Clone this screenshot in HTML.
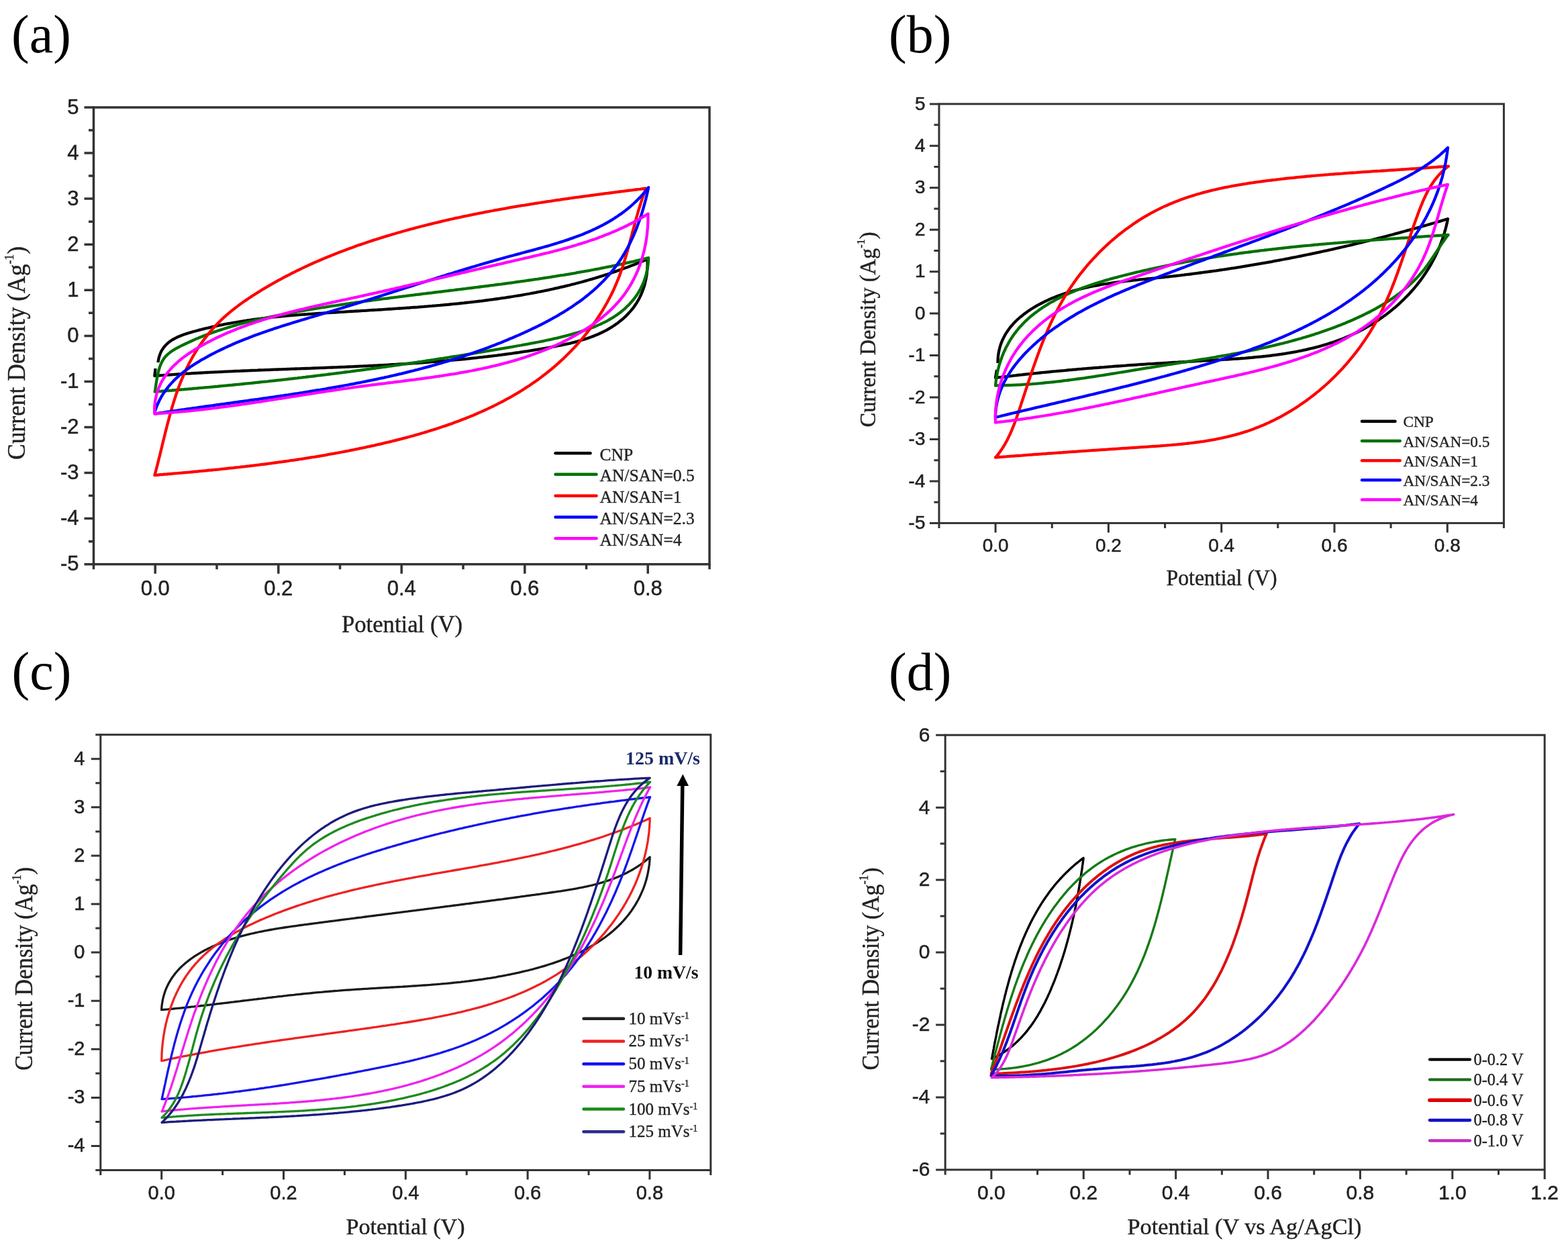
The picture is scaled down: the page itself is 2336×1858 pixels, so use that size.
<!DOCTYPE html>
<html><head><meta charset="utf-8"><title>CV curves</title>
<style>html,body{margin:0;padding:0;background:#fff;}svg{display:block;}</style></head>
<body><svg xmlns="http://www.w3.org/2000/svg" width="2336" height="1858" viewBox="0 0 2336 1858">
<rect width="2336" height="1858" fill="#fff"/>
<path d="M235.4 540.0L236.0 536.5L236.7 533.1L237.6 530.0L238.7 527.0L239.9 524.2L241.3 521.6L242.9 519.2L244.6 516.9L246.4 514.8L248.4 512.8L250.4 510.9L252.6 509.2L254.9 507.5L257.3 506.0L259.8 504.6L262.3 503.3L264.9 502.0L267.6 500.9L270.4 499.8L273.1 498.8L276.0 497.8L278.8 496.9L281.7 496.0L284.6 495.1L287.5 494.3L290.5 493.5L293.4 492.7L296.3 491.9L299.2 491.2L302.1 490.4L305.1 489.7L308.0 489.0L310.9 488.3L313.9 487.6L316.8 486.9L319.7 486.3L322.7 485.6L325.6 485.0L328.6 484.4L331.5 483.8L334.4 483.2L337.4 482.7L340.3 482.1L343.3 481.6L346.2 481.0L349.2 480.5L352.2 480.0L355.1 479.5L358.1 479.0L361.0 478.6L364.0 478.1L367.0 477.7L369.9 477.2L372.9 476.8L375.9 476.4L378.8 476.0L381.8 475.6L384.8 475.2L387.8 474.8L390.7 474.4L393.7 474.1L396.7 473.7L399.7 473.4L402.7 473.1L405.7 472.7L408.6 472.4L411.6 472.1L414.6 471.8L417.6 471.5L420.6 471.2L423.6 471.0L426.6 470.7L429.6 470.4L432.6 470.1L435.6 469.9L438.6 469.6L441.6 469.4L444.6 469.2L447.6 468.9L450.6 468.7L453.6 468.5L456.6 468.3L459.6 468.0L462.6 467.8L465.6 467.6L468.6 467.4L471.6 467.2L474.6 467.0L477.6 466.8L480.6 466.6L483.6 466.4L486.6 466.2L489.6 466.0L492.6 465.9L495.7 465.7L498.7 465.5L501.7 465.3L504.7 465.1L507.7 464.9L510.7 464.8L513.7 464.6L516.7 464.4L519.8 464.2L522.8 464.0L525.8 463.9L528.8 463.7L531.8 463.5L534.8 463.3L537.9 463.1L540.9 462.9L543.9 462.8L546.9 462.6L549.9 462.4L552.9 462.2L556.0 462.0L559.0 461.8L562.0 461.7L565.0 461.5L568.0 461.3L571.0 461.1L574.1 460.9L577.1 460.7L580.1 460.5L583.1 460.3L586.1 460.1L589.1 459.9L592.2 459.7L595.2 459.5L598.2 459.3L601.2 459.1L604.2 458.9L607.2 458.7L610.3 458.5L613.3 458.2L616.3 458.0L619.3 457.8L622.3 457.6L625.3 457.3L628.3 457.1L631.3 456.9L634.3 456.6L637.4 456.4L640.4 456.1L643.4 455.9L646.4 455.6L649.4 455.4L652.4 455.1L655.4 454.9L658.4 454.6L661.4 454.3L664.4 454.0L667.4 453.8L670.4 453.5L673.4 453.2L676.4 452.9L679.4 452.6L682.4 452.3L685.4 452.0L688.4 451.7L691.4 451.4L694.4 451.0L697.4 450.7L700.4 450.4L703.4 450.0L706.4 449.7L709.3 449.3L712.3 449.0L715.3 448.6L718.3 448.3L721.3 447.9L724.3 447.5L727.2 447.1L730.2 446.7L733.2 446.3L736.2 445.9L739.1 445.5L742.1 445.1L745.1 444.7L748.1 444.2L751.0 443.8L754.0 443.4L756.9 442.9L759.9 442.5L762.9 442.0L765.8 441.5L768.8 441.0L771.7 440.5L774.7 440.1L777.7 439.6L780.6 439.0L783.6 438.5L786.5 438.0L789.4 437.5L792.4 436.9L795.3 436.4L798.3 435.8L801.2 435.2L804.1 434.7L807.1 434.1L810.0 433.5L812.9 432.9L815.9 432.3L818.8 431.7L821.7 431.0L824.6 430.4L827.5 429.7L830.5 429.1L833.4 428.4L836.3 427.7L839.2 427.1L842.1 426.4L845.0 425.7L847.9 425.0L850.8 424.2L853.7 423.5L856.6 422.8L859.5 422.0L862.4 421.2L865.3 420.5L868.2 419.7L871.0 418.9L873.9 418.1L876.8 417.3L879.7 416.4L882.5 415.6L885.4 414.7L888.3 413.9L891.1 413.0L894.0 412.1L896.9 411.2L899.7 410.3L902.6 409.4L905.4 408.5L908.3 407.5L911.1 406.6L913.9 405.6L916.8 404.6L919.6 403.6L922.4 402.6L925.3 401.6L928.1 400.6L930.9 399.5L933.7 398.5L936.6 397.4L939.4 396.3L942.2 395.3L945.0 394.2L947.8 393.0L950.6 391.9L953.4 390.8L956.2 389.6L959.0 388.4L961.7 387.2L964.5 386.1L964.6 389.1L964.6 392.1L964.6 395.2L964.5 398.3L964.3 401.4L964.0 404.5L963.7 407.5L963.3 410.6L962.7 413.6L962.2 416.6L961.5 419.6L960.8 422.6L960.0 425.5L959.1 428.4L958.1 431.3L957.0 434.1L955.9 436.9L954.7 439.7L953.4 442.4L952.1 445.1L950.6 447.7L949.1 450.3L947.5 452.8L945.8 455.3L944.1 457.7L942.3 460.1L940.4 462.4L938.4 464.6L936.4 466.8L934.4 469.0L932.3 471.1L930.1 473.1L927.9 475.1L925.6 477.0L923.3 478.8L921.0 480.7L918.6 482.4L916.2 484.1L913.8 485.7L911.3 487.3L908.8 488.8L906.3 490.3L903.7 491.8L901.1 493.1L898.5 494.5L895.9 495.7L893.2 497.0L890.5 498.2L887.8 499.3L885.1 500.4L882.3 501.5L879.6 502.5L876.8 503.5L874.0 504.5L871.1 505.4L868.3 506.3L865.4 507.2L862.5 508.0L859.7 508.8L856.7 509.6L853.8 510.3L850.9 511.1L848.0 511.8L845.0 512.4L842.0 513.1L839.1 513.7L836.1 514.4L833.1 515.0L830.1 515.5L827.1 516.1L824.1 516.7L821.1 517.2L818.1 517.8L815.1 518.3L812.1 518.8L809.1 519.3L806.1 519.9L803.1 520.4L800.1 520.9L797.1 521.3L794.1 521.8L791.1 522.3L788.1 522.8L785.1 523.3L782.1 523.7L779.1 524.2L776.1 524.6L773.1 525.1L770.1 525.5L767.1 525.9L764.1 526.4L761.1 526.8L758.2 527.2L755.2 527.6L752.2 528.0L749.2 528.4L746.2 528.8L743.2 529.2L740.2 529.6L737.2 529.9L734.2 530.3L731.2 530.7L728.2 531.0L725.2 531.4L722.2 531.7L719.2 532.1L716.2 532.4L713.2 532.7L710.2 533.1L707.2 533.4L704.2 533.7L701.2 534.0L698.2 534.3L695.2 534.7L692.2 535.0L689.2 535.3L686.2 535.5L683.2 535.8L680.2 536.1L677.2 536.4L674.2 536.7L671.3 536.9L668.3 537.2L665.3 537.5L662.3 537.7L659.3 538.0L656.3 538.2L653.3 538.5L650.3 538.7L647.3 539.0L644.3 539.2L641.3 539.4L638.3 539.7L635.3 539.9L632.3 540.1L629.3 540.3L626.3 540.6L623.3 540.8L620.3 541.0L617.4 541.2L614.4 541.4L611.4 541.6L608.4 541.8L605.4 542.0L602.4 542.2L599.4 542.4L596.4 542.5L593.4 542.7L590.4 542.9L587.4 543.1L584.4 543.2L581.4 543.4L578.4 543.6L575.4 543.8L572.4 543.9L569.4 544.1L566.4 544.2L563.5 544.4L560.5 544.6L557.5 544.7L554.5 544.9L551.5 545.0L548.5 545.1L545.5 545.3L542.5 545.4L539.5 545.6L536.5 545.7L533.5 545.9L530.5 546.0L527.5 546.1L524.5 546.3L521.5 546.4L518.5 546.5L515.5 546.6L512.5 546.8L509.5 546.9L506.6 547.0L503.6 547.1L500.6 547.3L497.6 547.4L494.6 547.5L491.6 547.6L488.6 547.7L485.6 547.8L482.6 548.0L479.6 548.1L476.6 548.2L473.6 548.3L470.6 548.4L467.6 548.5L464.6 548.6L461.6 548.8L458.6 548.9L455.6 549.0L452.6 549.1L449.6 549.2L446.6 549.3L443.6 549.4L440.6 549.5L437.6 549.6L434.6 549.7L431.6 549.9L428.6 550.0L425.6 550.1L422.6 550.2L419.6 550.3L416.6 550.4L413.6 550.5L410.6 550.6L407.6 550.7L404.6 550.8L401.6 551.0L398.6 551.1L395.6 551.2L392.6 551.3L389.6 551.4L386.6 551.5L383.6 551.7L380.6 551.8L377.6 551.9L374.6 552.0L371.6 552.1L368.6 552.3L365.6 552.4L362.6 552.5L359.6 552.6L356.6 552.8L353.6 552.9L350.6 553.0L347.6 553.1L344.6 553.3L341.6 553.4L338.6 553.6L335.6 553.7L332.6 553.8L329.6 554.0L326.6 554.1L323.6 554.3L320.6 554.4L317.6 554.6L314.6 554.7L311.6 554.9L308.6 555.0L305.5 555.2L302.5 555.4L299.5 555.5L296.5 555.7L293.5 555.9L290.5 556.0L287.5 556.2L284.5 556.4L281.5 556.6L278.5 556.7L275.5 556.9L272.5 557.1L269.4 557.3L266.4 557.5L263.4 557.7L260.4 557.9L257.4 558.1L254.4 558.3L251.4 558.5L248.4 558.7L245.4 558.9L242.3 559.2L239.3 559.4L236.3 559.6L233.3 559.8L230.3 560.1L231.6 549.0" fill="none" stroke="#000" stroke-width="4.3" stroke-linejoin="round" stroke-linecap="butt"/>
<path d="M230.7 583.7L231.2 580.9L231.6 578.1L232.1 575.1L232.5 572.0L233.0 568.9L233.5 565.8L234.1 562.6L234.7 559.4L235.4 556.3L236.1 553.1L237.0 550.1L237.9 547.1L239.0 544.1L240.2 541.3L241.5 538.6L243.0 536.1L244.6 533.7L246.4 531.4L248.4 529.3L250.5 527.4L252.7 525.6L255.0 523.8L257.5 522.2L260.0 520.7L262.5 519.2L265.1 517.8L267.8 516.4L270.4 515.1L273.1 513.8L275.8 512.5L278.5 511.2L281.2 510.0L283.9 508.7L286.6 507.5L289.3 506.3L292.0 505.1L294.8 504.0L297.5 502.8L300.3 501.7L303.1 500.6L305.8 499.6L308.6 498.5L311.4 497.5L314.2 496.4L317.0 495.4L319.9 494.4L322.7 493.5L325.5 492.5L328.4 491.6L331.2 490.7L334.1 489.7L336.9 488.9L339.8 488.0L342.7 487.1L345.5 486.3L348.4 485.4L351.3 484.6L354.2 483.8L357.1 483.0L360.0 482.2L362.9 481.5L365.9 480.7L368.8 480.0L371.7 479.2L374.6 478.5L377.6 477.8L380.5 477.1L383.4 476.4L386.4 475.8L389.3 475.1L392.3 474.4L395.3 473.8L398.2 473.2L401.2 472.5L404.1 471.9L407.1 471.3L410.1 470.7L413.0 470.1L416.0 469.5L419.0 469.0L422.0 468.4L425.0 467.8L427.9 467.3L430.9 466.7L433.9 466.2L436.9 465.6L439.9 465.1L442.8 464.5L445.8 464.0L448.8 463.5L451.8 463.0L454.8 462.5L457.8 462.0L460.7 461.5L463.7 461.0L466.7 460.5L469.7 460.0L472.7 459.5L475.7 459.0L478.6 458.5L481.6 458.0L484.6 457.6L487.6 457.1L490.6 456.6L493.6 456.2L496.6 455.7L499.5 455.3L502.5 454.8L505.5 454.4L508.5 453.9L511.5 453.5L514.5 453.0L517.5 452.6L520.5 452.2L523.4 451.7L526.4 451.3L529.4 450.9L532.4 450.5L535.4 450.1L538.4 449.6L541.4 449.2L544.3 448.8L547.3 448.4L550.3 448.0L553.3 447.6L556.3 447.2L559.3 446.8L562.3 446.4L565.3 446.0L568.2 445.6L571.2 445.2L574.2 444.8L577.2 444.5L580.2 444.1L583.2 443.7L586.2 443.3L589.2 442.9L592.1 442.6L595.1 442.2L598.1 441.8L601.1 441.4L604.1 441.1L607.1 440.7L610.1 440.3L613.1 439.9L616.0 439.6L619.0 439.2L622.0 438.8L625.0 438.5L628.0 438.1L631.0 437.7L634.0 437.4L636.9 437.0L639.9 436.6L642.9 436.3L645.9 435.9L648.9 435.5L651.9 435.2L654.9 434.8L657.8 434.5L660.8 434.1L663.8 433.7L666.8 433.4L669.8 433.0L672.8 432.6L675.7 432.3L678.7 431.9L681.7 431.5L684.7 431.2L687.7 430.8L690.7 430.4L693.6 430.1L696.6 429.7L699.6 429.3L702.6 429.0L705.6 428.6L708.6 428.2L711.5 427.9L714.5 427.5L717.5 427.1L720.5 426.7L723.5 426.3L726.4 426.0L729.4 425.6L732.4 425.2L735.4 424.8L738.3 424.4L741.3 424.0L744.3 423.6L747.3 423.3L750.3 422.9L753.2 422.5L756.2 422.1L759.2 421.7L762.2 421.3L765.1 420.9L768.1 420.4L771.1 420.0L774.1 419.6L777.0 419.2L780.0 418.8L783.0 418.4L785.9 417.9L788.9 417.5L791.9 417.1L794.9 416.7L797.8 416.2L800.8 415.8L803.8 415.3L806.7 414.9L809.7 414.4L812.7 414.0L815.6 413.5L818.6 413.1L821.6 412.6L824.5 412.1L827.5 411.7L830.5 411.2L833.4 410.7L836.4 410.2L839.4 409.8L842.3 409.3L845.3 408.8L848.3 408.3L851.2 407.8L854.2 407.3L857.1 406.8L860.1 406.2L863.1 405.7L866.0 405.2L869.0 404.7L871.9 404.1L874.9 403.6L877.8 403.1L880.8 402.5L883.8 402.0L886.7 401.4L889.7 400.8L892.6 400.3L895.6 399.7L898.5 399.1L901.5 398.5L904.4 397.9L907.4 397.4L910.3 396.8L913.3 396.1L916.2 395.5L919.2 394.9L922.1 394.3L925.1 393.7L928.0 393.0L931.0 392.4L933.9 391.7L936.8 391.1L939.8 390.4L942.7 389.8L945.7 389.1L948.6 388.4L951.6 387.7L954.5 387.0L957.4 386.3L960.4 385.6L963.3 384.9L966.2 384.2L966.0 387.4L965.8 390.7L965.5 393.9L965.1 397.1L964.6 400.2L964.0 403.3L963.3 406.4L962.5 409.4L961.7 412.3L960.7 415.2L959.7 418.1L958.7 420.9L957.5 423.6L956.3 426.3L954.9 429.0L953.6 431.6L952.1 434.1L950.6 436.6L949.0 439.1L947.4 441.5L945.6 443.8L943.9 446.1L942.0 448.3L940.1 450.5L938.2 452.7L936.2 454.8L934.1 456.8L932.0 458.8L929.8 460.8L927.6 462.6L925.4 464.5L923.1 466.3L920.7 468.0L918.3 469.7L915.9 471.3L913.5 472.9L910.9 474.4L908.4 475.9L905.8 477.4L903.2 478.8L900.6 480.1L897.9 481.4L895.2 482.7L892.5 483.9L889.8 485.1L887.0 486.2L884.2 487.4L881.4 488.4L878.6 489.5L875.8 490.5L872.9 491.5L870.1 492.5L867.2 493.4L864.3 494.3L861.4 495.2L858.5 496.1L855.6 496.9L852.7 497.7L849.8 498.6L846.9 499.4L844.0 500.1L841.1 500.9L838.1 501.6L835.2 502.4L832.3 503.1L829.3 503.8L826.4 504.4L823.4 505.1L820.5 505.8L817.6 506.4L814.6 507.0L811.7 507.7L808.7 508.3L805.7 508.9L802.8 509.5L799.8 510.0L796.9 510.6L793.9 511.2L790.9 511.7L788.0 512.3L785.0 512.8L782.0 513.4L779.1 513.9L776.1 514.5L773.1 515.0L770.1 515.5L767.2 516.0L764.2 516.6L761.2 517.1L758.3 517.6L755.3 518.1L752.3 518.6L749.4 519.1L746.4 519.6L743.4 520.2L740.4 520.7L737.5 521.2L734.5 521.7L731.5 522.2L728.6 522.7L725.6 523.2L722.6 523.7L719.7 524.2L716.7 524.7L713.7 525.2L710.7 525.7L707.8 526.2L704.8 526.6L701.8 527.1L698.9 527.6L695.9 528.1L692.9 528.6L690.0 529.1L687.0 529.5L684.0 530.0L681.0 530.5L678.1 531.0L675.1 531.4L672.1 531.9L669.2 532.4L666.2 532.8L663.2 533.3L660.3 533.8L657.3 534.2L654.3 534.7L651.3 535.2L648.4 535.6L645.4 536.1L642.4 536.5L639.5 537.0L636.5 537.4L633.5 537.9L630.5 538.3L627.6 538.8L624.6 539.2L621.6 539.7L618.7 540.1L615.7 540.5L612.7 541.0L609.8 541.4L606.8 541.9L603.8 542.3L600.8 542.7L597.9 543.1L594.9 543.6L591.9 544.0L588.9 544.4L586.0 544.9L583.0 545.3L580.0 545.7L577.1 546.1L574.1 546.5L571.1 546.9L568.1 547.4L565.2 547.8L562.2 548.2L559.2 548.6L556.2 549.0L553.3 549.4L550.3 549.8L547.3 550.2L544.4 550.6L541.4 551.0L538.4 551.4L535.4 551.8L532.5 552.2L529.5 552.6L526.5 553.0L523.5 553.4L520.6 553.8L517.6 554.1L514.6 554.5L511.6 554.9L508.7 555.3L505.7 555.7L502.7 556.0L499.7 556.4L496.7 556.8L493.8 557.2L490.8 557.5L487.8 557.9L484.8 558.3L481.9 558.6L478.9 559.0L475.9 559.4L472.9 559.7L469.9 560.1L467.0 560.5L464.0 560.8L461.0 561.2L458.0 561.5L455.0 561.9L452.1 562.2L449.1 562.6L446.1 562.9L443.1 563.3L440.1 563.6L437.2 564.0L434.2 564.3L431.2 564.6L428.2 565.0L425.2 565.3L422.3 565.6L419.3 566.0L416.3 566.3L413.3 566.6L410.3 567.0L407.3 567.3L404.3 567.6L401.4 567.9L398.4 568.3L395.4 568.6L392.4 568.9L389.4 569.2L386.4 569.5L383.5 569.8L380.5 570.1L377.5 570.5L374.5 570.8L371.5 571.1L368.5 571.4L365.5 571.7L362.5 572.0L359.6 572.3L356.6 572.6L353.6 572.9L350.6 573.2L347.6 573.5L344.6 573.8L341.6 574.0L338.6 574.3L335.6 574.6L332.6 574.9L329.6 575.2L326.7 575.5L323.7 575.8L320.7 576.0L317.7 576.3L314.7 576.6L311.7 576.9L308.7 577.1L305.7 577.4L302.7 577.7L299.7 577.9L296.7 578.2L293.7 578.5L290.7 578.7L287.7 579.0L284.7 579.3L281.7 579.5L278.7 579.8L275.7 580.0L272.7 580.3L269.7 580.5L266.7 580.8L263.7 581.0L260.7 581.3L257.7 581.5L254.7 581.8L251.7 582.0L248.7 582.2L245.7 582.5L242.7 582.7L239.7 583.0L236.7 583.2L233.7 583.4L230.7 583.7Z" fill="none" stroke="#007000" stroke-width="4.3" stroke-linejoin="round" stroke-linecap="butt"/>
<path d="M230.4 708.0L231.2 705.2L231.9 702.4L232.7 699.6L233.4 696.7L234.2 693.9L234.9 691.1L235.6 688.2L236.3 685.3L237.0 682.4L237.8 679.6L238.5 676.7L239.2 673.8L239.9 670.8L240.6 667.9L241.3 665.0L242.0 662.1L242.7 659.1L243.4 656.2L244.2 653.2L244.9 650.3L245.6 647.4L246.3 644.4L247.1 641.4L247.8 638.5L248.6 635.5L249.3 632.6L250.1 629.6L250.9 626.7L251.7 623.7L252.5 620.8L253.3 617.8L254.1 614.9L254.9 611.9L255.8 609.0L256.6 606.1L257.5 603.1L258.4 600.2L259.3 597.3L260.2 594.4L261.2 591.5L262.1 588.6L263.1 585.7L264.1 582.9L265.1 580.0L266.1 577.2L267.2 574.3L268.3 571.5L269.4 568.7L270.5 565.9L271.7 563.1L272.9 560.3L274.1 557.5L275.3 554.8L276.5 552.1L277.8 549.3L279.1 546.6L280.5 544.0L281.8 541.3L283.2 538.7L284.7 536.0L286.1 533.4L287.6 530.8L289.1 528.2L290.6 525.7L292.2 523.1L293.8 520.6L295.4 518.1L297.0 515.7L298.7 513.2L300.4 510.8L302.1 508.4L303.9 506.0L305.7 503.6L307.5 501.3L309.3 498.9L311.2 496.6L313.1 494.4L315.0 492.1L316.9 489.9L318.9 487.7L320.9 485.5L322.9 483.4L325.0 481.3L327.1 479.2L329.2 477.1L331.3 475.1L333.5 473.0L335.7 471.1L337.9 469.1L340.2 467.2L342.4 465.3L344.7 463.4L347.1 461.5L349.4 459.7L351.7 457.9L354.1 456.1L356.5 454.3L358.9 452.5L361.4 450.8L363.8 449.1L366.3 447.4L368.7 445.7L371.2 444.0L373.7 442.4L376.2 440.7L378.8 439.1L381.3 437.5L383.8 435.9L386.4 434.3L388.9 432.7L391.5 431.2L394.1 429.6L396.6 428.1L399.2 426.6L401.8 425.1L404.4 423.6L407.0 422.1L409.6 420.6L412.3 419.2L414.9 417.7L417.5 416.3L420.2 414.8L422.8 413.4L425.5 412.0L428.2 410.6L430.8 409.3L433.5 407.9L436.2 406.5L438.9 405.2L441.6 403.8L444.3 402.5L447.0 401.2L449.7 399.9L452.4 398.6L455.2 397.3L457.9 396.1L460.6 394.8L463.4 393.6L466.1 392.3L468.9 391.1L471.6 389.9L474.4 388.7L477.2 387.5L480.0 386.3L482.7 385.1L485.5 384.0L488.3 382.8L491.1 381.7L493.9 380.5L496.7 379.4L499.5 378.3L502.3 377.2L505.1 376.1L508.0 375.0L510.8 373.9L513.6 372.9L516.5 371.8L519.3 370.7L522.1 369.7L525.0 368.7L527.8 367.7L530.7 366.6L533.5 365.6L536.4 364.6L539.2 363.7L542.1 362.7L544.9 361.7L547.8 360.7L550.7 359.8L553.5 358.9L556.4 357.9L559.3 357.0L562.2 356.1L565.1 355.2L567.9 354.3L570.8 353.4L573.7 352.5L576.6 351.6L579.5 350.7L582.4 349.9L585.3 349.0L588.1 348.2L591.0 347.3L593.9 346.5L596.8 345.7L599.7 344.8L602.6 344.0L605.5 343.2L608.4 342.4L611.3 341.6L614.2 340.8L617.1 340.1L620.0 339.3L622.9 338.5L625.8 337.8L628.7 337.0L631.6 336.3L634.6 335.5L637.5 334.8L640.4 334.1L643.3 333.4L646.2 332.7L649.1 332.0L652.0 331.3L654.9 330.6L657.8 329.9L660.7 329.2L663.7 328.5L666.6 327.9L669.5 327.2L672.4 326.5L675.3 325.9L678.2 325.2L681.2 324.6L684.1 324.0L687.0 323.3L689.9 322.7L692.9 322.1L695.8 321.5L698.7 320.9L701.6 320.3L704.6 319.7L707.5 319.1L710.4 318.5L713.3 317.9L716.3 317.3L719.2 316.8L722.1 316.2L725.1 315.6L728.0 315.1L730.9 314.5L733.9 314.0L736.8 313.4L739.7 312.9L742.7 312.4L745.6 311.8L748.6 311.3L751.5 310.8L754.4 310.3L757.4 309.7L760.3 309.2L763.3 308.7L766.2 308.2L769.2 307.7L772.1 307.2L775.1 306.7L778.0 306.2L781.0 305.8L783.9 305.3L786.9 304.8L789.8 304.3L792.8 303.9L795.7 303.4L798.7 302.9L801.6 302.5L804.6 302.0L807.5 301.5L810.5 301.1L813.5 300.6L816.4 300.2L819.4 299.8L822.3 299.3L825.3 298.9L828.3 298.4L831.2 298.0L834.2 297.6L837.2 297.1L840.1 296.7L843.1 296.3L846.1 295.9L849.0 295.5L852.0 295.0L855.0 294.6L857.9 294.2L860.9 293.8L863.9 293.4L866.9 293.0L869.8 292.6L872.8 292.2L875.8 291.8L878.8 291.4L881.7 291.0L884.7 290.6L887.7 290.2L890.7 289.8L893.7 289.4L896.7 289.0L899.6 288.6L902.6 288.2L905.6 287.9L908.6 287.5L911.6 287.1L914.6 286.7L917.6 286.3L920.6 285.9L923.5 285.5L926.5 285.2L929.5 284.8L932.5 284.4L935.5 284.0L938.5 283.6L941.5 283.3L944.5 282.9L947.5 282.5L950.5 282.1L953.5 281.8L956.5 281.4L959.5 281.0L962.5 280.6L961.4 283.4L960.3 286.2L959.3 289.0L958.3 291.8L957.3 294.6L956.3 297.4L955.4 300.3L954.5 303.1L953.6 306.0L952.7 308.9L951.8 311.7L950.9 314.6L950.1 317.5L949.3 320.4L948.4 323.3L947.6 326.2L946.8 329.1L946.0 332.0L945.3 334.9L944.5 337.8L943.7 340.7L942.9 343.6L942.1 346.6L941.4 349.5L940.6 352.4L939.8 355.3L939.0 358.2L938.3 361.1L937.5 364.1L936.7 367.0L935.9 369.9L935.1 372.8L934.2 375.7L933.4 378.6L932.6 381.5L931.7 384.3L930.8 387.2L929.9 390.1L929.0 393.0L928.1 395.8L927.2 398.7L926.2 401.5L925.2 404.3L924.2 407.2L923.2 410.0L922.1 412.8L921.0 415.6L919.9 418.3L918.8 421.1L917.6 423.9L916.4 426.6L915.2 429.3L914.0 432.1L912.7 434.8L911.4 437.5L910.1 440.1L908.7 442.8L907.3 445.5L905.9 448.1L904.5 450.7L903.0 453.3L901.5 455.9L900.0 458.5L898.5 461.1L897.0 463.7L895.4 466.2L893.8 468.7L892.1 471.3L890.5 473.8L888.8 476.3L887.1 478.7L885.4 481.2L883.7 483.6L881.9 486.1L880.1 488.5L878.3 490.9L876.5 493.2L874.6 495.6L872.8 498.0L870.9 500.3L869.0 502.6L867.1 504.9L865.1 507.2L863.1 509.5L861.2 511.7L859.2 513.9L857.1 516.2L855.1 518.4L853.0 520.5L851.0 522.7L848.9 524.8L846.7 527.0L844.6 529.1L842.5 531.2L840.3 533.3L838.1 535.3L835.9 537.4L833.7 539.4L831.5 541.4L829.3 543.4L827.0 545.3L824.7 547.3L822.5 549.2L820.2 551.1L817.8 553.0L815.5 554.8L813.2 556.7L810.8 558.5L808.5 560.3L806.1 562.1L803.7 563.9L801.3 565.7L798.9 567.4L796.4 569.1L794.0 570.8L791.5 572.5L789.1 574.2L786.6 575.8L784.1 577.4L781.6 579.0L779.1 580.6L776.6 582.2L774.0 583.8L771.5 585.3L768.9 586.9L766.3 588.4L763.8 589.9L761.2 591.3L758.6 592.8L755.9 594.2L753.3 595.7L750.7 597.1L748.1 598.5L745.4 599.9L742.7 601.2L740.1 602.6L737.4 603.9L734.7 605.3L732.0 606.6L729.3 607.9L726.6 609.1L723.9 610.4L721.1 611.7L718.4 612.9L715.7 614.1L712.9 615.3L710.1 616.5L707.4 617.7L704.6 618.9L701.8 620.0L699.0 621.2L696.2 622.3L693.4 623.4L690.6 624.5L687.8 625.6L685.0 626.7L682.1 627.8L679.3 628.8L676.5 629.8L673.6 630.9L670.8 631.9L667.9 632.9L665.0 633.9L662.2 634.9L659.3 635.8L656.4 636.8L653.5 637.8L650.6 638.7L647.8 639.6L644.9 640.5L642.0 641.4L639.1 642.3L636.2 643.2L633.2 644.1L630.3 645.0L627.4 645.8L624.5 646.7L621.6 647.5L618.6 648.3L615.7 649.2L612.8 650.0L609.9 650.8L606.9 651.6L604.0 652.3L601.0 653.1L598.1 653.9L595.2 654.6L592.2 655.4L589.3 656.1L586.3 656.8L583.4 657.6L580.4 658.3L577.5 659.0L574.5 659.7L571.6 660.4L568.6 661.1L565.7 661.8L562.7 662.4L559.8 663.1L556.9 663.8L553.9 664.4L551.0 665.1L548.0 665.7L545.1 666.3L542.1 667.0L539.2 667.6L536.2 668.2L533.3 668.8L530.3 669.4L527.4 670.0L524.5 670.6L521.5 671.2L518.6 671.8L515.6 672.3L512.7 672.9L509.7 673.5L506.8 674.0L503.9 674.6L500.9 675.1L498.0 675.7L495.0 676.2L492.1 676.7L489.2 677.2L486.2 677.8L483.3 678.3L480.3 678.8L477.4 679.3L474.5 679.8L471.5 680.3L468.6 680.8L465.6 681.2L462.7 681.7L459.7 682.2L456.8 682.7L453.9 683.1L450.9 683.6L448.0 684.0L445.0 684.5L442.1 684.9L439.1 685.4L436.2 685.8L433.2 686.2L430.3 686.7L427.4 687.1L424.4 687.5L421.5 687.9L418.5 688.3L415.6 688.7L412.6 689.1L409.7 689.5L406.7 689.9L403.8 690.3L400.8 690.7L397.9 691.1L394.9 691.5L391.9 691.8L389.0 692.2L386.0 692.6L383.1 692.9L380.1 693.3L377.2 693.7L374.2 694.0L371.2 694.4L368.3 694.7L365.3 695.1L362.3 695.4L359.4 695.7L356.4 696.1L353.4 696.4L350.5 696.7L347.5 697.1L344.5 697.4L341.5 697.7L338.6 698.0L335.6 698.3L332.6 698.6L329.6 698.9L326.7 699.3L323.7 699.6L320.7 699.9L317.7 700.2L314.7 700.5L311.7 700.7L308.8 701.0L305.8 701.3L302.8 701.6L299.8 701.9L296.8 702.2L293.8 702.5L290.8 702.7L287.8 703.0L284.8 703.3L281.8 703.6L278.8 703.8L275.8 704.1L272.7 704.4L269.7 704.7L266.7 704.9L263.7 705.2L260.7 705.4L257.7 705.7L254.6 706.0L251.6 706.2L248.6 706.5L245.6 706.7L242.5 707.0L239.5 707.2L236.5 707.5L233.4 707.8L230.4 708.0Z" fill="none" stroke="#ff0000" stroke-width="4.3" stroke-linejoin="round" stroke-linecap="butt"/>
<path d="M230.8 613.0L231.9 609.9L232.9 607.0L234.1 604.1L235.3 601.2L236.6 598.5L237.9 595.7L239.4 593.1L240.8 590.5L242.4 587.9L244.0 585.4L245.7 583.0L247.4 580.6L249.2 578.3L251.0 576.0L252.9 573.7L254.8 571.6L256.8 569.4L258.8 567.3L260.9 565.2L263.0 563.2L265.1 561.3L267.3 559.3L269.6 557.4L271.8 555.6L274.1 553.7L276.5 552.0L278.8 550.2L281.2 548.5L283.7 546.8L286.1 545.1L288.6 543.5L291.1 541.9L293.6 540.3L296.1 538.8L298.7 537.2L301.3 535.7L303.9 534.3L306.5 532.8L309.1 531.3L311.7 529.9L314.3 528.5L317.0 527.1L319.6 525.8L322.3 524.4L325.0 523.1L327.7 521.8L330.4 520.5L333.1 519.2L335.8 517.9L338.5 516.7L341.2 515.4L344.0 514.2L346.7 513.0L349.5 511.8L352.3 510.6L355.0 509.5L357.8 508.3L360.6 507.2L363.4 506.1L366.2 504.9L369.0 503.9L371.8 502.8L374.7 501.7L377.5 500.6L380.3 499.6L383.2 498.5L386.0 497.5L388.8 496.5L391.7 495.5L394.6 494.5L397.4 493.5L400.3 492.5L403.2 491.5L406.1 490.6L408.9 489.6L411.8 488.6L414.7 487.7L417.6 486.8L420.5 485.8L423.4 484.9L426.3 484.0L429.2 483.1L432.1 482.2L435.0 481.3L437.9 480.4L440.8 479.5L443.7 478.6L446.7 477.7L449.6 476.8L452.5 476.0L455.4 475.1L458.3 474.2L461.2 473.3L464.1 472.5L467.1 471.6L470.0 470.7L472.9 469.9L475.8 469.0L478.7 468.1L481.6 467.3L484.5 466.4L487.4 465.6L490.4 464.7L493.3 463.8L496.2 463.0L499.1 462.1L502.0 461.2L504.8 460.3L507.7 459.5L510.6 458.6L513.5 457.7L516.4 456.8L519.3 455.9L522.2 455.0L525.0 454.2L527.9 453.3L530.8 452.4L533.6 451.5L536.5 450.6L539.4 449.7L542.2 448.8L545.1 447.9L548.0 447.0L550.8 446.1L553.7 445.2L556.5 444.3L559.4 443.4L562.2 442.5L565.1 441.6L567.9 440.7L570.8 439.7L573.6 438.8L576.5 437.9L579.3 437.0L582.2 436.1L585.0 435.2L587.9 434.3L590.7 433.4L593.5 432.5L596.4 431.5L599.2 430.6L602.1 429.7L604.9 428.8L607.7 427.9L610.6 427.0L613.4 426.1L616.3 425.2L619.1 424.3L621.9 423.3L624.8 422.4L627.6 421.5L630.5 420.6L633.3 419.7L636.1 418.8L639.0 417.9L641.8 417.0L644.7 416.1L647.5 415.2L650.4 414.3L653.2 413.4L656.1 412.5L658.9 411.6L661.8 410.7L664.6 409.8L667.5 408.9L670.3 408.0L673.2 407.2L676.0 406.3L678.9 405.4L681.7 404.5L684.6 403.6L687.5 402.7L690.3 401.9L693.2 401.0L696.1 400.1L698.9 399.3L701.8 398.4L704.7 397.5L707.6 396.7L710.5 395.8L713.3 395.0L716.2 394.1L719.1 393.3L722.0 392.4L724.9 391.6L727.8 390.7L730.7 389.9L733.6 389.1L736.5 388.2L739.4 387.4L742.3 386.6L745.2 385.8L748.1 385.0L751.1 384.2L754.0 383.3L756.9 382.5L759.8 381.7L762.8 381.0L765.7 380.2L768.7 379.4L771.6 378.6L774.6 377.8L777.5 377.0L780.4 376.2L783.4 375.4L786.3 374.7L789.3 373.9L792.2 373.1L795.2 372.3L798.1 371.5L801.1 370.7L804.0 369.9L807.0 369.0L809.9 368.2L812.8 367.4L815.8 366.6L818.7 365.7L821.6 364.9L824.5 364.0L827.4 363.1L830.3 362.2L833.2 361.3L836.1 360.4L839.0 359.5L841.9 358.5L844.7 357.6L847.6 356.6L850.4 355.6L853.3 354.6L856.1 353.6L858.9 352.6L861.7 351.5L864.5 350.5L867.3 349.4L870.1 348.2L872.8 347.1L875.6 346.0L878.3 344.8L881.0 343.6L883.7 342.3L886.4 341.1L889.1 339.8L891.8 338.5L894.4 337.2L897.0 335.8L899.7 334.4L902.2 333.0L904.8 331.6L907.4 330.1L909.9 328.6L912.4 327.1L914.9 325.5L917.4 323.9L919.9 322.3L922.3 320.6L924.8 318.9L927.2 317.2L929.5 315.4L931.9 313.6L934.2 311.8L936.5 309.9L938.8 308.0L941.1 306.0L943.3 304.0L945.5 302.0L947.7 299.9L949.9 297.8L952.0 295.6L954.1 293.4L956.2 291.1L958.3 288.8L960.3 286.5L962.3 284.1L964.3 281.7L966.2 279.2L965.5 282.0L964.9 284.9L964.2 287.9L963.6 290.8L962.9 293.7L962.2 296.6L961.4 299.5L960.6 302.5L959.8 305.4L959.0 308.3L958.2 311.2L957.3 314.2L956.4 317.1L955.5 320.0L954.5 322.9L953.6 325.8L952.6 328.7L951.5 331.6L950.5 334.4L949.4 337.3L948.3 340.2L947.2 343.0L946.0 345.8L944.8 348.7L943.6 351.5L942.3 354.2L941.0 357.0L939.7 359.8L938.4 362.5L937.0 365.2L935.6 367.9L934.2 370.6L932.7 373.2L931.2 375.8L929.7 378.4L928.1 381.0L926.6 383.6L924.9 386.1L923.3 388.6L921.6 391.0L919.9 393.5L918.2 395.9L916.4 398.2L914.6 400.6L912.7 402.9L910.9 405.2L909.0 407.5L907.1 409.7L905.1 411.9L903.1 414.1L901.1 416.3L899.1 418.4L897.0 420.5L895.0 422.6L892.8 424.6L890.7 426.7L888.6 428.7L886.4 430.6L884.2 432.6L881.9 434.5L879.7 436.4L877.4 438.3L875.1 440.2L872.8 442.0L870.5 443.9L868.1 445.7L865.8 447.4L863.4 449.2L860.9 450.9L858.5 452.6L856.1 454.3L853.6 456.0L851.1 457.7L848.6 459.3L846.1 460.9L843.6 462.5L841.0 464.1L838.5 465.7L835.9 467.2L833.3 468.7L830.7 470.3L828.1 471.8L825.5 473.2L822.9 474.7L820.2 476.1L817.6 477.6L814.9 479.0L812.3 480.4L809.6 481.8L806.9 483.2L804.2 484.5L801.5 485.9L798.8 487.2L796.1 488.5L793.3 489.8L790.6 491.1L787.9 492.4L785.1 493.7L782.4 494.9L779.6 496.2L776.9 497.4L774.1 498.7L771.4 499.9L768.6 501.1L765.9 502.3L763.1 503.5L760.3 504.6L757.5 505.8L754.8 507.0L752.0 508.1L749.2 509.2L746.4 510.4L743.6 511.5L740.8 512.6L738.0 513.7L735.2 514.8L732.4 515.8L729.6 516.9L726.8 518.0L724.0 519.0L721.2 520.1L718.4 521.1L715.5 522.1L712.7 523.1L709.9 524.1L707.1 525.1L704.2 526.1L701.4 527.1L698.6 528.0L695.7 529.0L692.9 529.9L690.0 530.9L687.2 531.8L684.3 532.7L681.5 533.6L678.6 534.5L675.8 535.4L672.9 536.3L670.0 537.2L667.2 538.1L664.3 538.9L661.4 539.8L658.6 540.6L655.7 541.5L652.8 542.3L649.9 543.1L647.0 544.0L644.2 544.8L641.3 545.6L638.4 546.4L635.5 547.2L632.6 547.9L629.7 548.7L626.8 549.5L623.9 550.2L621.0 551.0L618.1 551.7L615.2 552.5L612.3 553.2L609.4 553.9L606.5 554.6L603.5 555.4L600.6 556.1L597.7 556.8L594.8 557.4L591.9 558.1L589.0 558.8L586.0 559.5L583.1 560.2L580.2 560.8L577.2 561.5L574.3 562.1L571.4 562.8L568.4 563.4L565.5 564.0L562.6 564.7L559.6 565.3L556.7 565.9L553.7 566.5L550.8 567.1L547.9 567.7L544.9 568.3L542.0 568.9L539.0 569.5L536.1 570.1L533.1 570.6L530.2 571.2L527.2 571.8L524.3 572.3L521.3 572.9L518.3 573.5L515.4 574.0L512.4 574.5L509.5 575.1L506.5 575.6L503.5 576.2L500.6 576.7L497.6 577.2L494.7 577.7L491.7 578.2L488.7 578.7L485.8 579.3L482.8 579.8L479.8 580.3L476.8 580.8L473.9 581.2L470.9 581.7L467.9 582.2L465.0 582.7L462.0 583.2L459.0 583.7L456.0 584.1L453.1 584.6L450.1 585.1L447.1 585.5L444.1 586.0L441.2 586.5L438.2 586.9L435.2 587.4L432.2 587.8L429.2 588.3L426.3 588.7L423.3 589.2L420.3 589.6L417.3 590.0L414.3 590.5L411.4 590.9L408.4 591.4L405.4 591.8L402.4 592.2L399.4 592.6L396.5 593.1L393.5 593.5L390.5 593.9L387.5 594.3L384.5 594.8L381.6 595.2L378.6 595.6L375.6 596.0L372.6 596.4L369.6 596.9L366.7 597.3L363.7 597.7L360.7 598.1L357.7 598.5L354.8 598.9L351.8 599.3L348.8 599.7L345.8 600.2L342.8 600.6L339.9 601.0L336.9 601.4L333.9 601.8L330.9 602.2L328.0 602.6L325.0 603.0L322.0 603.4L319.1 603.8L316.1 604.3L313.1 604.7L310.1 605.1L307.2 605.5L304.2 605.9L301.2 606.3L298.3 606.7L295.3 607.1L292.3 607.6L289.4 608.0L286.4 608.4L283.5 608.8L280.5 609.2L277.5 609.6L274.6 610.1L271.6 610.5L268.7 610.9L265.7 611.3L262.7 611.8L259.8 612.2L256.8 612.6L253.9 613.0L250.9 613.5L248.0 613.9L245.0 614.3L242.1 614.8L239.2 615.2L236.2 615.7L233.3 616.1L230.3 616.6" fill="none" stroke="#0000ff" stroke-width="4.3" stroke-linejoin="round" stroke-linecap="butt"/>
<path d="M230.3 616.6L230.2 613.2L230.2 609.8L230.3 606.5L230.5 603.2L230.9 600.1L231.3 596.9L231.8 593.9L232.5 590.8L233.2 587.9L234.0 585.0L235.0 582.1L236.0 579.3L237.1 576.6L238.3 573.9L239.5 571.3L240.9 568.7L242.3 566.2L243.8 563.7L245.4 561.3L247.0 558.9L248.7 556.5L250.5 554.3L252.4 552.0L254.3 549.8L256.2 547.7L258.3 545.6L260.3 543.6L262.5 541.6L264.6 539.6L266.8 537.7L269.1 535.8L271.4 533.9L273.8 532.1L276.2 530.4L278.6 528.6L281.0 526.9L283.5 525.3L286.0 523.6L288.6 522.0L291.1 520.4L293.7 518.9L296.3 517.3L298.9 515.8L301.5 514.4L304.1 512.9L306.8 511.5L309.4 510.0L312.1 508.7L314.8 507.3L317.5 505.9L320.1 504.6L322.8 503.3L325.6 502.0L328.3 500.7L331.0 499.5L333.7 498.3L336.5 497.0L339.2 495.8L342.0 494.7L344.7 493.5L347.5 492.4L350.3 491.3L353.1 490.1L355.9 489.1L358.7 488.0L361.5 486.9L364.3 485.9L367.1 484.9L369.9 483.8L372.8 482.9L375.6 481.9L378.5 480.9L381.3 479.9L384.2 479.0L387.0 478.1L389.9 477.2L392.8 476.3L395.6 475.4L398.5 474.5L401.4 473.6L404.3 472.8L407.2 471.9L410.1 471.1L413.0 470.3L415.9 469.5L418.8 468.7L421.7 467.9L424.7 467.1L427.6 466.3L430.5 465.6L433.4 464.8L436.4 464.1L439.3 463.3L442.2 462.6L445.2 461.9L448.1 461.2L451.1 460.5L454.0 459.8L457.0 459.1L459.9 458.4L462.9 457.7L465.8 457.0L468.8 456.3L471.7 455.7L474.7 455.0L477.7 454.3L480.6 453.7L483.6 453.0L486.5 452.4L489.5 451.7L492.5 451.1L495.4 450.4L498.4 449.8L501.4 449.1L504.3 448.5L507.3 447.9L510.2 447.2L513.2 446.6L516.2 446.0L519.1 445.3L522.1 444.7L525.0 444.0L528.0 443.4L530.9 442.8L533.9 442.1L536.8 441.5L539.8 440.8L542.7 440.2L545.7 439.5L548.6 438.9L551.6 438.2L554.5 437.6L557.4 436.9L560.4 436.3L563.3 435.6L566.2 434.9L569.2 434.3L572.1 433.6L575.0 432.9L578.0 432.3L580.9 431.6L583.8 430.9L586.8 430.3L589.7 429.6L592.6 428.9L595.5 428.3L598.4 427.6L601.4 426.9L604.3 426.2L607.2 425.6L610.1 424.9L613.0 424.2L616.0 423.5L618.9 422.9L621.8 422.2L624.7 421.5L627.6 420.8L630.5 420.1L633.5 419.5L636.4 418.8L639.3 418.1L642.2 417.4L645.1 416.7L648.0 416.0L650.9 415.4L653.9 414.7L656.8 414.0L659.7 413.3L662.6 412.6L665.5 411.9L668.4 411.2L671.3 410.6L674.2 409.9L677.2 409.2L680.1 408.5L683.0 407.8L685.9 407.1L688.8 406.4L691.7 405.8L694.6 405.1L697.6 404.4L700.5 403.7L703.4 403.0L706.3 402.3L709.2 401.6L712.1 401.0L715.1 400.3L718.0 399.6L720.9 398.9L723.8 398.2L726.8 397.5L729.7 396.9L732.6 396.2L735.5 395.5L738.5 394.8L741.4 394.1L744.3 393.5L747.2 392.8L750.2 392.1L753.1 391.4L756.0 390.7L759.0 390.1L761.9 389.4L764.9 388.7L767.8 388.0L770.7 387.4L773.7 386.7L776.6 386.0L779.6 385.3L782.5 384.7L785.4 384.0L788.4 383.3L791.3 382.6L794.3 381.9L797.2 381.2L800.1 380.5L803.1 379.8L806.0 379.1L808.9 378.4L811.9 377.7L814.8 377.0L817.7 376.3L820.7 375.5L823.6 374.8L826.5 374.0L829.4 373.3L832.4 372.5L835.3 371.7L838.2 370.9L841.1 370.2L844.0 369.4L846.9 368.5L849.8 367.7L852.7 366.9L855.6 366.0L858.4 365.2L861.3 364.3L864.2 363.4L867.1 362.5L869.9 361.6L872.8 360.7L875.6 359.8L878.5 358.8L881.3 357.8L884.2 356.9L887.0 355.9L889.8 354.9L892.6 353.8L895.4 352.8L898.2 351.7L901.0 350.6L903.8 349.5L906.6 348.4L909.4 347.3L912.1 346.1L914.9 345.0L917.7 343.8L920.4 342.6L923.1 341.3L925.8 340.1L928.6 338.8L931.3 337.5L934.0 336.2L936.6 334.8L939.3 333.5L942.0 332.1L944.6 330.7L947.3 329.2L949.9 327.8L952.5 326.3L955.2 324.8L957.8 323.3L960.4 321.7L962.9 320.1L965.5 318.5L965.5 321.5L965.5 324.6L965.4 327.7L965.3 330.8L965.2 333.9L965.0 337.0L964.8 340.1L964.5 343.1L964.2 346.2L963.9 349.3L963.5 352.3L963.1 355.4L962.6 358.4L962.1 361.4L961.5 364.4L960.9 367.4L960.3 370.4L959.6 373.4L958.9 376.3L958.1 379.3L957.3 382.2L956.5 385.1L955.6 388.0L954.6 390.9L953.6 393.7L952.6 396.5L951.5 399.4L950.4 402.2L949.3 404.9L948.1 407.7L946.8 410.4L945.5 413.1L944.2 415.8L942.8 418.4L941.4 421.0L939.9 423.6L938.4 426.2L936.9 428.7L935.3 431.2L933.7 433.7L932.0 436.1L930.3 438.5L928.5 440.9L926.7 443.2L924.8 445.5L922.9 447.8L921.0 450.0L919.0 452.2L917.0 454.4L915.0 456.6L912.9 458.7L910.8 460.8L908.6 462.8L906.4 464.8L904.2 466.8L902.0 468.8L899.7 470.7L897.4 472.6L895.1 474.5L892.7 476.4L890.4 478.2L888.0 480.0L885.5 481.7L883.1 483.5L880.6 485.2L878.1 486.9L875.6 488.5L873.1 490.2L870.5 491.8L868.0 493.4L865.4 494.9L862.8 496.5L860.2 498.0L857.6 499.5L855.0 500.9L852.4 502.4L849.7 503.8L847.1 505.2L844.4 506.6L841.7 507.9L839.1 509.3L836.4 510.6L833.7 511.9L831.0 513.1L828.3 514.4L825.5 515.6L822.8 516.8L820.1 518.0L817.3 519.2L814.6 520.3L811.8 521.4L809.1 522.5L806.3 523.6L803.5 524.7L800.7 525.8L797.9 526.8L795.1 527.8L792.3 528.8L789.5 529.8L786.6 530.8L783.8 531.7L781.0 532.7L778.1 533.6L775.3 534.5L772.4 535.4L769.5 536.2L766.7 537.1L763.8 537.9L760.9 538.7L758.0 539.6L755.1 540.3L752.2 541.1L749.3 541.9L746.4 542.6L743.5 543.4L740.6 544.1L737.7 544.8L734.7 545.5L731.8 546.2L728.9 546.9L725.9 547.6L723.0 548.2L720.0 548.9L717.1 549.5L714.1 550.1L711.1 550.7L708.2 551.3L705.2 551.9L702.2 552.5L699.2 553.0L696.3 553.6L693.3 554.1L690.3 554.7L687.3 555.2L684.3 555.7L681.3 556.3L678.3 556.8L675.3 557.3L672.3 557.7L669.3 558.2L666.3 558.7L663.3 559.2L660.3 559.6L657.3 560.1L654.2 560.5L651.2 561.0L648.2 561.4L645.2 561.9L642.2 562.3L639.1 562.7L636.1 563.1L633.1 563.5L630.1 564.0L627.0 564.4L624.0 564.8L621.0 565.2L618.0 565.6L614.9 565.9L611.9 566.3L608.9 566.7L605.8 567.1L602.8 567.5L599.8 567.9L596.8 568.3L593.7 568.6L590.7 569.0L587.7 569.4L584.7 569.8L581.6 570.1L578.6 570.5L575.6 570.9L572.6 571.3L569.6 571.6L566.5 572.0L563.5 572.4L560.5 572.8L557.5 573.2L554.5 573.5L551.5 573.9L548.5 574.3L545.5 574.7L542.5 575.1L539.5 575.5L536.5 575.9L533.5 576.3L530.5 576.7L527.5 577.1L524.5 577.5L521.5 578.0L518.6 578.4L515.6 578.8L512.6 579.2L509.6 579.7L506.7 580.1L503.7 580.5L500.7 581.0L497.8 581.4L494.8 581.8L491.9 582.3L488.9 582.7L485.9 583.2L483.0 583.6L480.0 584.1L477.1 584.5L474.1 585.0L471.2 585.5L468.2 585.9L465.3 586.4L462.3 586.8L459.4 587.3L456.4 587.7L453.5 588.2L450.6 588.7L447.6 589.1L444.7 589.6L441.7 590.1L438.8 590.5L435.9 591.0L432.9 591.5L430.0 591.9L427.1 592.4L424.1 592.8L421.2 593.3L418.2 593.8L415.3 594.2L412.4 594.7L409.4 595.1L406.5 595.6L403.6 596.0L400.6 596.5L397.7 597.0L394.7 597.4L391.8 597.9L388.9 598.3L385.9 598.8L383.0 599.2L380.0 599.6L377.1 600.1L374.2 600.5L371.2 600.9L368.3 601.4L365.3 601.8L362.4 602.2L359.4 602.7L356.5 603.1L353.5 603.5L350.6 603.9L347.6 604.3L344.6 604.7L341.7 605.1L338.7 605.5L335.8 605.9L332.8 606.3L329.8 606.7L326.9 607.1L323.9 607.5L320.9 607.8L317.9 608.2L315.0 608.6L312.0 608.9L309.0 609.3L306.0 609.6L303.0 610.0L300.0 610.3L297.0 610.7L294.0 611.0L291.0 611.3L288.0 611.6L285.0 611.9L282.0 612.3L279.0 612.6L276.0 612.9L273.0 613.1L269.9 613.4L266.9 613.7L263.9 614.0L260.8 614.2L257.8 614.5L254.8 614.7L251.7 615.0L248.7 615.2L245.6 615.4L242.6 615.7L239.5 615.9L236.4 616.1L233.4 616.3L230.3 616.5Z" fill="none" stroke="#ff00ff" stroke-width="4.3" stroke-linejoin="round" stroke-linecap="butt"/>
<path d="M1486.5 541.0L1486.6 537.7L1486.7 534.4L1487.0 531.1L1487.4 527.9L1487.9 524.8L1488.5 521.8L1489.3 518.8L1490.1 515.8L1491.0 512.9L1492.1 510.1L1493.2 507.3L1494.5 504.6L1495.8 502.0L1497.2 499.4L1498.7 496.8L1500.3 494.3L1502.0 491.9L1503.7 489.5L1505.5 487.2L1507.4 485.0L1509.3 482.8L1511.3 480.6L1513.4 478.5L1515.5 476.5L1517.7 474.5L1520.0 472.5L1522.3 470.7L1524.6 468.8L1527.0 467.0L1529.4 465.3L1531.8 463.6L1534.3 461.9L1536.8 460.3L1539.3 458.7L1541.9 457.2L1544.4 455.7L1547.0 454.2L1549.6 452.8L1552.3 451.5L1554.9 450.1L1557.6 448.8L1560.2 447.6L1562.9 446.3L1565.6 445.1L1568.3 444.0L1571.0 442.9L1573.8 441.8L1576.5 440.7L1579.3 439.7L1582.1 438.7L1584.9 437.7L1587.7 436.8L1590.5 435.9L1593.3 435.0L1596.1 434.2L1599.0 433.3L1601.8 432.5L1604.7 431.8L1607.6 431.0L1610.5 430.3L1613.4 429.6L1616.3 428.9L1619.2 428.3L1622.1 427.6L1625.0 427.0L1628.0 426.4L1630.9 425.9L1633.9 425.3L1636.8 424.8L1639.8 424.2L1642.8 423.7L1645.8 423.2L1648.8 422.8L1651.8 422.3L1654.7 421.9L1657.8 421.4L1660.8 421.0L1663.8 420.6L1666.8 420.2L1669.8 419.8L1672.8 419.5L1675.9 419.1L1678.9 418.7L1681.9 418.4L1685.0 418.1L1688.0 417.7L1691.0 417.4L1694.1 417.1L1697.1 416.7L1700.2 416.4L1703.2 416.1L1706.3 415.8L1709.3 415.5L1712.4 415.2L1715.4 414.9L1718.4 414.6L1721.5 414.3L1724.5 413.9L1727.6 413.6L1730.6 413.3L1733.6 413.0L1736.7 412.7L1739.7 412.3L1742.7 412.0L1745.8 411.7L1748.8 411.3L1751.8 411.0L1754.8 410.6L1757.9 410.3L1760.9 409.9L1763.9 409.6L1766.9 409.2L1769.9 408.8L1772.9 408.5L1775.9 408.1L1778.9 407.7L1781.9 407.3L1784.9 406.9L1787.9 406.5L1790.9 406.1L1793.9 405.7L1796.9 405.3L1799.9 404.9L1802.9 404.5L1805.9 404.1L1808.9 403.7L1811.8 403.3L1814.8 402.8L1817.8 402.4L1820.8 402.0L1823.8 401.5L1826.7 401.1L1829.7 400.6L1832.7 400.2L1835.7 399.7L1838.6 399.3L1841.6 398.8L1844.6 398.3L1847.5 397.9L1850.5 397.4L1853.5 396.9L1856.4 396.4L1859.4 395.9L1862.3 395.4L1865.3 394.9L1868.2 394.4L1871.2 393.9L1874.1 393.4L1877.1 392.9L1880.0 392.4L1883.0 391.9L1885.9 391.4L1888.9 390.8L1891.8 390.3L1894.8 389.8L1897.7 389.2L1900.6 388.7L1903.6 388.2L1906.5 387.6L1909.5 387.0L1912.4 386.5L1915.3 385.9L1918.3 385.4L1921.2 384.8L1924.1 384.2L1927.1 383.6L1930.0 383.1L1932.9 382.5L1935.8 381.9L1938.8 381.3L1941.7 380.7L1944.6 380.1L1947.5 379.5L1950.5 378.9L1953.4 378.3L1956.3 377.7L1959.2 377.1L1962.1 376.4L1965.1 375.8L1968.0 375.2L1970.9 374.5L1973.8 373.9L1976.7 373.3L1979.7 372.6L1982.6 372.0L1985.5 371.3L1988.4 370.7L1991.3 370.0L1994.2 369.3L1997.1 368.7L2000.0 368.0L2003.0 367.3L2005.9 366.6L2008.8 366.0L2011.7 365.3L2014.6 364.6L2017.5 363.9L2020.4 363.2L2023.3 362.5L2026.2 361.8L2029.1 361.1L2032.0 360.3L2034.9 359.6L2037.9 358.9L2040.8 358.2L2043.7 357.5L2046.6 356.7L2049.5 356.0L2052.4 355.2L2055.3 354.5L2058.2 353.8L2061.1 353.0L2064.0 352.3L2066.9 351.5L2069.8 350.7L2072.7 350.0L2075.6 349.2L2078.5 348.4L2081.4 347.6L2084.3 346.9L2087.2 346.1L2090.1 345.3L2093.0 344.5L2096.0 343.7L2098.9 342.9L2101.8 342.1L2104.7 341.3L2107.6 340.5L2110.5 339.7L2113.4 338.9L2116.3 338.0L2119.2 337.2L2122.1 336.4L2125.0 335.5L2127.9 334.7L2130.8 333.9L2133.7 333.0L2136.6 332.2L2139.6 331.3L2142.5 330.5L2145.4 329.6L2148.3 328.7L2151.2 327.9L2154.1 327.0L2157.0 326.1L2156.4 329.1L2155.7 332.2L2155.0 335.3L2154.3 338.3L2153.5 341.3L2152.6 344.3L2151.8 347.3L2150.9 350.2L2149.9 353.1L2149.0 356.0L2147.9 358.9L2146.9 361.8L2145.8 364.7L2144.7 367.5L2143.5 370.3L2142.3 373.1L2141.0 375.8L2139.8 378.6L2138.5 381.3L2137.1 384.0L2135.7 386.7L2134.3 389.3L2132.9 392.0L2131.4 394.6L2129.9 397.2L2128.3 399.8L2126.7 402.3L2125.1 404.8L2123.5 407.3L2121.8 409.8L2120.1 412.3L2118.4 414.7L2116.6 417.1L2114.8 419.5L2113.0 421.8L2111.2 424.2L2109.3 426.5L2107.4 428.8L2105.4 431.1L2103.5 433.3L2101.5 435.5L2099.5 437.7L2097.4 439.9L2095.4 442.0L2093.3 444.1L2091.2 446.2L2089.0 448.3L2086.9 450.3L2084.7 452.4L2082.5 454.4L2080.3 456.3L2078.0 458.3L2075.7 460.2L2073.4 462.1L2071.1 463.9L2068.8 465.8L2066.4 467.6L2064.1 469.4L2061.7 471.1L2059.3 472.8L2056.8 474.5L2054.4 476.2L2051.9 477.9L2049.4 479.5L2046.9 481.1L2044.4 482.7L2041.9 484.2L2039.3 485.7L2036.7 487.2L2034.2 488.6L2031.6 490.1L2029.0 491.5L2026.3 492.8L2023.7 494.2L2021.0 495.5L2018.4 496.8L2015.7 498.0L2013.0 499.2L2010.3 500.4L2007.6 501.6L2004.9 502.7L2002.1 503.9L1999.4 504.9L1996.6 506.0L1993.9 507.0L1991.1 508.1L1988.3 509.0L1985.5 510.0L1982.7 510.9L1979.9 511.8L1977.1 512.7L1974.2 513.6L1971.4 514.4L1968.5 515.3L1965.6 516.1L1962.8 516.8L1959.9 517.6L1957.0 518.3L1954.1 519.0L1951.2 519.7L1948.3 520.4L1945.4 521.1L1942.4 521.7L1939.5 522.3L1936.6 522.9L1933.6 523.5L1930.7 524.1L1927.7 524.6L1924.7 525.1L1921.8 525.6L1918.8 526.1L1915.8 526.6L1912.8 527.1L1909.8 527.5L1906.8 528.0L1903.8 528.4L1900.8 528.8L1897.8 529.2L1894.8 529.6L1891.7 530.0L1888.7 530.3L1885.7 530.7L1882.6 531.0L1879.6 531.3L1876.6 531.6L1873.5 531.9L1870.5 532.2L1867.4 532.5L1864.4 532.8L1861.3 533.0L1858.3 533.3L1855.2 533.6L1852.2 533.8L1849.1 534.0L1846.1 534.3L1843.0 534.5L1839.9 534.7L1836.9 534.9L1833.8 535.1L1830.8 535.3L1827.7 535.5L1824.6 535.7L1821.6 535.9L1818.5 536.1L1815.5 536.2L1812.4 536.4L1809.4 536.6L1806.3 536.8L1803.3 536.9L1800.2 537.1L1797.2 537.3L1794.1 537.4L1791.1 537.6L1788.0 537.8L1785.0 537.9L1782.0 538.1L1778.9 538.3L1775.9 538.5L1772.9 538.6L1769.9 538.8L1766.8 539.0L1763.8 539.1L1760.8 539.3L1757.8 539.5L1754.8 539.7L1751.8 539.8L1748.7 540.0L1745.7 540.2L1742.7 540.4L1739.7 540.6L1736.7 540.8L1733.7 540.9L1730.7 541.1L1727.7 541.3L1724.8 541.5L1721.8 541.7L1718.8 541.9L1715.8 542.1L1712.8 542.2L1709.8 542.4L1706.8 542.6L1703.8 542.8L1700.9 543.0L1697.9 543.2L1694.9 543.4L1691.9 543.6L1688.9 543.8L1686.0 544.0L1683.0 544.2L1680.0 544.4L1677.1 544.7L1674.1 544.9L1671.1 545.1L1668.1 545.3L1665.2 545.5L1662.2 545.7L1659.2 545.9L1656.3 546.2L1653.3 546.4L1650.3 546.6L1647.4 546.8L1644.4 547.1L1641.4 547.3L1638.4 547.5L1635.5 547.8L1632.5 548.0L1629.5 548.2L1626.6 548.5L1623.6 548.7L1620.6 548.9L1617.7 549.2L1614.7 549.4L1611.7 549.7L1608.8 549.9L1605.8 550.2L1602.8 550.5L1599.9 550.7L1596.9 551.0L1593.9 551.2L1590.9 551.5L1588.0 551.8L1585.0 552.1L1582.0 552.3L1579.0 552.6L1576.1 552.9L1573.1 553.2L1570.1 553.4L1567.1 553.7L1564.2 554.0L1561.2 554.3L1558.2 554.6L1555.2 554.9L1552.2 555.2L1549.2 555.5L1546.2 555.8L1543.2 556.1L1540.3 556.4L1537.3 556.8L1534.3 557.1L1531.3 557.4L1528.3 557.7L1525.3 558.0L1522.3 558.4L1519.2 558.7L1516.2 559.0L1513.2 559.4L1510.2 559.7L1507.2 560.1L1504.2 560.4L1501.2 560.8L1498.1 561.1L1495.1 561.5L1492.1 561.8L1489.1 562.2L1486.0 562.6L1483.0 562.9L1485.0 551.0" fill="none" stroke="#000" stroke-width="4.3" stroke-linejoin="round" stroke-linecap="butt"/>
<path d="M1483.1 574.5L1483.4 571.3L1483.7 568.2L1484.2 565.0L1484.6 561.9L1485.2 558.9L1485.8 555.8L1486.4 552.8L1487.1 549.8L1487.9 546.8L1488.7 543.8L1489.6 540.9L1490.5 538.0L1491.5 535.2L1492.5 532.3L1493.6 529.5L1494.7 526.7L1495.9 524.0L1497.2 521.3L1498.4 518.6L1499.8 516.0L1501.2 513.4L1502.6 510.8L1504.1 508.2L1505.6 505.7L1507.2 503.3L1508.9 500.8L1510.5 498.4L1512.3 496.1L1514.1 493.7L1515.9 491.5L1517.7 489.2L1519.6 487.0L1521.6 484.9L1523.6 482.7L1525.6 480.7L1527.7 478.6L1529.8 476.6L1532.0 474.7L1534.2 472.7L1536.4 470.8L1538.7 469.0L1541.0 467.1L1543.3 465.4L1545.7 463.6L1548.0 461.9L1550.5 460.2L1552.9 458.5L1555.4 456.9L1557.9 455.3L1560.4 453.8L1563.0 452.2L1565.6 450.7L1568.2 449.3L1570.8 447.8L1573.4 446.4L1576.1 445.0L1578.8 443.7L1581.5 442.3L1584.2 441.0L1586.9 439.8L1589.6 438.5L1592.4 437.3L1595.1 436.1L1597.9 434.9L1600.7 433.7L1603.5 432.6L1606.3 431.5L1609.1 430.4L1611.9 429.3L1614.8 428.3L1617.6 427.3L1620.5 426.3L1623.3 425.3L1626.2 424.3L1629.1 423.3L1631.9 422.4L1634.8 421.5L1637.7 420.6L1640.6 419.7L1643.5 418.8L1646.4 417.9L1649.3 417.1L1652.2 416.3L1655.2 415.4L1658.1 414.6L1661.0 413.8L1664.0 413.1L1666.9 412.3L1669.8 411.5L1672.8 410.8L1675.7 410.0L1678.6 409.3L1681.6 408.5L1684.5 407.8L1687.5 407.1L1690.4 406.4L1693.3 405.7L1696.3 405.0L1699.2 404.3L1702.2 403.6L1705.1 402.9L1708.1 402.3L1711.0 401.6L1714.0 400.9L1716.9 400.3L1719.9 399.6L1722.8 399.0L1725.7 398.4L1728.7 397.8L1731.6 397.1L1734.6 396.5L1737.5 395.9L1740.5 395.3L1743.4 394.7L1746.4 394.1L1749.3 393.6L1752.3 393.0L1755.2 392.4L1758.2 391.8L1761.2 391.3L1764.1 390.7L1767.1 390.2L1770.0 389.7L1773.0 389.1L1775.9 388.6L1778.9 388.1L1781.8 387.5L1784.8 387.0L1787.7 386.5L1790.7 386.0L1793.7 385.5L1796.6 385.0L1799.6 384.5L1802.5 384.1L1805.5 383.6L1808.5 383.1L1811.4 382.7L1814.4 382.2L1817.3 381.7L1820.3 381.3L1823.3 380.8L1826.2 380.4L1829.2 380.0L1832.1 379.5L1835.1 379.1L1838.1 378.7L1841.0 378.3L1844.0 377.9L1847.0 377.4L1849.9 377.0L1852.9 376.6L1855.9 376.2L1858.8 375.9L1861.8 375.5L1864.8 375.1L1867.7 374.7L1870.7 374.3L1873.7 374.0L1876.6 373.6L1879.6 373.2L1882.6 372.9L1885.6 372.5L1888.5 372.2L1891.5 371.8L1894.5 371.5L1897.4 371.1L1900.4 370.8L1903.4 370.5L1906.4 370.1L1909.3 369.8L1912.3 369.5L1915.3 369.2L1918.3 368.8L1921.2 368.5L1924.2 368.2L1927.2 367.9L1930.2 367.6L1933.1 367.3L1936.1 367.0L1939.1 366.7L1942.1 366.4L1945.1 366.1L1948.0 365.8L1951.0 365.6L1954.0 365.3L1957.0 365.0L1960.0 364.7L1962.9 364.5L1965.9 364.2L1968.9 363.9L1971.9 363.6L1974.9 363.4L1977.9 363.1L1980.8 362.9L1983.8 362.6L1986.8 362.4L1989.8 362.1L1992.8 361.9L1995.8 361.6L1998.8 361.4L2001.7 361.1L2004.7 360.9L2007.7 360.6L2010.7 360.4L2013.7 360.2L2016.7 359.9L2019.7 359.7L2022.7 359.5L2025.7 359.2L2028.6 359.0L2031.6 358.8L2034.6 358.6L2037.6 358.3L2040.6 358.1L2043.6 357.9L2046.6 357.7L2049.6 357.4L2052.6 357.2L2055.6 357.0L2058.6 356.8L2061.6 356.6L2064.6 356.4L2067.6 356.2L2070.6 355.9L2073.6 355.7L2076.5 355.5L2079.5 355.3L2082.5 355.1L2085.5 354.9L2088.5 354.7L2091.5 354.5L2094.5 354.3L2097.5 354.1L2100.5 353.9L2103.5 353.7L2106.5 353.5L2109.5 353.3L2112.5 353.0L2115.5 352.8L2118.5 352.6L2121.6 352.4L2124.6 352.2L2127.6 352.0L2130.6 351.8L2133.6 351.6L2136.6 351.4L2139.6 351.2L2142.6 351.0L2145.6 350.8L2148.6 350.6L2151.6 350.4L2154.6 350.2L2157.6 350.0L2155.8 352.2L2154.0 354.5L2152.3 356.9L2150.6 359.4L2148.9 361.8L2147.2 364.3L2145.5 366.8L2143.8 369.4L2142.1 371.9L2140.5 374.5L2138.8 377.0L2137.1 379.6L2135.4 382.2L2133.7 384.7L2132.0 387.3L2130.2 389.8L2128.5 392.3L2126.7 394.8L2124.9 397.2L2123.0 399.7L2121.2 402.1L2119.2 404.4L2117.3 406.7L2115.3 409.0L2113.3 411.2L2111.3 413.4L2109.2 415.6L2107.1 417.7L2105.0 419.8L2102.8 421.9L2100.6 423.9L2098.4 425.9L2096.2 427.9L2093.9 429.8L2091.6 431.7L2089.3 433.6L2087.0 435.4L2084.6 437.3L2082.2 439.0L2079.8 440.8L2077.4 442.5L2075.0 444.2L2072.5 445.9L2070.0 447.6L2067.5 449.2L2065.0 450.8L2062.4 452.3L2059.9 453.9L2057.3 455.4L2054.7 456.9L2052.1 458.4L2049.5 459.9L2046.9 461.3L2044.2 462.7L2041.6 464.1L2038.9 465.5L2036.2 466.8L2033.5 468.1L2030.8 469.5L2028.1 470.8L2025.4 472.0L2022.7 473.3L2019.9 474.5L2017.2 475.8L2014.5 477.0L2011.7 478.2L2009.0 479.3L2006.2 480.5L2003.4 481.7L2000.6 482.8L1997.9 483.9L1995.1 485.0L1992.3 486.1L1989.5 487.2L1986.7 488.2L1983.9 489.3L1981.1 490.3L1978.2 491.3L1975.4 492.3L1972.6 493.3L1969.7 494.3L1966.9 495.2L1964.1 496.2L1961.2 497.1L1958.4 498.1L1955.5 499.0L1952.6 499.9L1949.8 500.8L1946.9 501.6L1944.0 502.5L1941.1 503.3L1938.3 504.2L1935.4 505.0L1932.5 505.8L1929.6 506.6L1926.7 507.4L1923.8 508.2L1920.9 509.0L1917.9 509.8L1915.0 510.5L1912.1 511.3L1909.2 512.0L1906.3 512.7L1903.3 513.4L1900.4 514.1L1897.5 514.8L1894.5 515.5L1891.6 516.2L1888.6 516.9L1885.7 517.6L1882.7 518.2L1879.8 518.9L1876.8 519.5L1873.9 520.1L1870.9 520.8L1868.0 521.4L1865.0 522.0L1862.0 522.6L1859.1 523.2L1856.1 523.8L1853.1 524.4L1850.1 524.9L1847.2 525.5L1844.2 526.1L1841.2 526.6L1838.2 527.2L1835.2 527.7L1832.3 528.3L1829.3 528.8L1826.3 529.4L1823.3 529.9L1820.3 530.4L1817.3 530.9L1814.3 531.4L1811.3 532.0L1808.3 532.5L1805.4 533.0L1802.4 533.5L1799.4 534.0L1796.4 534.5L1793.4 535.0L1790.4 535.4L1787.4 535.9L1784.4 536.4L1781.4 536.9L1778.4 537.4L1775.4 537.9L1772.4 538.3L1769.4 538.8L1766.4 539.3L1763.4 539.8L1760.4 540.2L1757.5 540.7L1754.5 541.2L1751.5 541.6L1748.5 542.1L1745.5 542.6L1742.5 543.0L1739.5 543.5L1736.5 544.0L1733.5 544.4L1730.6 544.9L1727.6 545.4L1724.6 545.9L1721.6 546.3L1718.6 546.8L1715.7 547.3L1712.7 547.8L1709.7 548.2L1706.8 548.7L1703.8 549.2L1700.8 549.7L1697.9 550.2L1694.9 550.7L1691.9 551.1L1689.0 551.6L1686.0 552.1L1683.0 552.6L1680.1 553.1L1677.1 553.6L1674.2 554.1L1671.2 554.5L1668.3 555.0L1665.3 555.5L1662.3 556.0L1659.4 556.5L1656.4 556.9L1653.5 557.4L1650.5 557.9L1647.6 558.3L1644.6 558.8L1641.7 559.3L1638.7 559.7L1635.8 560.2L1632.8 560.6L1629.9 561.1L1626.9 561.5L1623.9 562.0L1621.0 562.4L1618.0 562.8L1615.1 563.3L1612.1 563.7L1609.2 564.1L1606.2 564.5L1603.2 564.9L1600.3 565.3L1597.3 565.7L1594.3 566.1L1591.4 566.5L1588.4 566.9L1585.4 567.2L1582.5 567.6L1579.5 568.0L1576.5 568.3L1573.5 568.7L1570.6 569.0L1567.6 569.3L1564.6 569.6L1561.6 569.9L1558.6 570.2L1555.6 570.5L1552.7 570.8L1549.7 571.1L1546.7 571.3L1543.7 571.6L1540.7 571.8L1537.7 572.1L1534.6 572.3L1531.6 572.5L1528.6 572.7L1525.6 572.9L1522.6 573.1L1519.6 573.3L1516.5 573.4L1513.5 573.6L1510.5 573.7L1507.4 573.8L1504.4 573.9L1501.3 574.0L1498.3 574.1L1495.2 574.2L1492.2 574.3L1489.1 574.3L1486.1 574.3L1483.0 574.4Z" fill="none" stroke="#007000" stroke-width="4.3" stroke-linejoin="round" stroke-linecap="butt"/>
<path d="M1483.2 681.6L1485.1 679.3L1487.0 676.9L1488.8 674.5L1490.6 672.1L1492.2 669.6L1493.9 667.1L1495.4 664.6L1497.0 662.1L1498.4 659.5L1499.8 656.9L1501.2 654.3L1502.5 651.6L1503.8 648.9L1505.0 646.3L1506.2 643.5L1507.4 640.8L1508.5 638.1L1509.6 635.3L1510.7 632.6L1511.8 629.8L1512.8 627.0L1513.8 624.2L1514.8 621.4L1515.8 618.5L1516.8 615.7L1517.7 612.9L1518.7 610.0L1519.6 607.2L1520.6 604.4L1521.5 601.5L1522.4 598.7L1523.4 595.8L1524.3 593.0L1525.2 590.1L1526.2 587.3L1527.1 584.4L1528.0 581.6L1529.0 578.7L1529.9 575.9L1530.9 573.0L1531.8 570.2L1532.8 567.3L1533.7 564.5L1534.7 561.6L1535.6 558.8L1536.6 556.0L1537.5 553.1L1538.5 550.3L1539.5 547.4L1540.5 544.6L1541.5 541.8L1542.5 539.0L1543.5 536.1L1544.5 533.3L1545.5 530.5L1546.5 527.7L1547.6 524.9L1548.6 522.1L1549.7 519.3L1550.8 516.5L1551.8 513.7L1552.9 510.9L1554.0 508.1L1555.2 505.4L1556.3 502.6L1557.4 499.8L1558.6 497.1L1559.8 494.3L1560.9 491.6L1562.1 488.9L1563.4 486.1L1564.6 483.4L1565.8 480.7L1567.1 478.0L1568.4 475.3L1569.7 472.6L1571.0 469.9L1572.3 467.3L1573.7 464.6L1575.1 462.0L1576.5 459.3L1577.9 456.7L1579.3 454.1L1580.8 451.5L1582.2 448.9L1583.7 446.3L1585.3 443.7L1586.8 441.1L1588.4 438.6L1590.0 436.0L1591.6 433.5L1593.2 431.0L1594.9 428.4L1596.6 425.9L1598.3 423.5L1600.0 421.0L1601.8 418.5L1603.5 416.1L1605.3 413.6L1607.2 411.2L1609.0 408.8L1610.9 406.4L1612.8 404.1L1614.7 401.7L1616.6 399.3L1618.5 397.0L1620.5 394.7L1622.5 392.4L1624.5 390.1L1626.6 387.9L1628.6 385.6L1630.7 383.4L1632.8 381.2L1634.9 379.0L1637.0 376.8L1639.2 374.6L1641.3 372.5L1643.5 370.4L1645.7 368.3L1647.9 366.2L1650.2 364.1L1652.4 362.1L1654.7 360.0L1657.0 358.0L1659.3 356.1L1661.6 354.1L1664.0 352.2L1666.3 350.2L1668.7 348.3L1671.1 346.5L1673.5 344.6L1675.9 342.8L1678.3 341.0L1680.8 339.2L1683.3 337.4L1685.7 335.7L1688.2 333.9L1690.7 332.3L1693.2 330.6L1695.8 328.9L1698.3 327.3L1700.9 325.7L1703.4 324.2L1706.0 322.6L1708.6 321.1L1711.2 319.6L1713.8 318.1L1716.5 316.7L1719.1 315.3L1721.7 313.9L1724.4 312.6L1727.1 311.2L1729.8 309.9L1732.4 308.6L1735.1 307.4L1737.9 306.2L1740.6 305.0L1743.3 303.8L1746.1 302.7L1748.8 301.5L1751.6 300.4L1754.3 299.4L1757.1 298.3L1759.9 297.3L1762.7 296.3L1765.5 295.3L1768.3 294.3L1771.1 293.4L1773.9 292.5L1776.8 291.6L1779.6 290.7L1782.5 289.8L1785.3 289.0L1788.2 288.2L1791.0 287.4L1793.9 286.6L1796.8 285.8L1799.7 285.1L1802.6 284.4L1805.5 283.7L1808.4 283.0L1811.3 282.3L1814.2 281.6L1817.1 281.0L1820.0 280.4L1823.0 279.7L1825.9 279.1L1828.8 278.6L1831.8 278.0L1834.7 277.4L1837.7 276.9L1840.6 276.3L1843.6 275.8L1846.5 275.3L1849.5 274.8L1852.5 274.3L1855.4 273.9L1858.4 273.4L1861.4 272.9L1864.3 272.5L1867.3 272.0L1870.3 271.6L1873.3 271.2L1876.3 270.8L1879.3 270.4L1882.2 270.0L1885.2 269.6L1888.2 269.2L1891.2 268.8L1894.2 268.5L1897.2 268.1L1900.2 267.8L1903.2 267.4L1906.2 267.1L1909.2 266.7L1912.1 266.4L1915.1 266.0L1918.1 265.7L1921.1 265.4L1924.1 265.1L1927.1 264.8L1930.1 264.5L1933.1 264.2L1936.1 263.9L1939.1 263.6L1942.1 263.3L1945.1 263.0L1948.1 262.7L1951.1 262.5L1954.1 262.2L1957.1 261.9L1960.1 261.7L1963.1 261.4L1966.1 261.2L1969.1 260.9L1972.1 260.7L1975.1 260.4L1978.1 260.2L1981.1 259.9L1984.1 259.7L1987.1 259.5L1990.1 259.2L1993.1 259.0L1996.1 258.8L1999.1 258.6L2002.1 258.3L2005.1 258.1L2008.1 257.9L2011.1 257.7L2014.1 257.5L2017.2 257.3L2020.2 257.1L2023.2 256.8L2026.2 256.6L2029.2 256.4L2032.2 256.2L2035.2 256.0L2038.2 255.8L2041.2 255.6L2044.2 255.4L2047.2 255.2L2050.2 255.0L2053.2 254.8L2056.2 254.7L2059.2 254.5L2062.2 254.3L2065.2 254.1L2068.2 253.9L2071.2 253.7L2074.2 253.5L2077.2 253.3L2080.2 253.1L2083.2 252.9L2086.2 252.7L2089.2 252.5L2092.2 252.3L2095.2 252.1L2098.2 251.9L2101.2 251.7L2104.2 251.5L2107.2 251.3L2110.2 251.1L2113.2 250.9L2116.1 250.7L2119.1 250.5L2122.1 250.3L2125.1 250.1L2128.1 249.8L2131.1 249.6L2134.1 249.4L2137.1 249.2L2140.1 249.0L2143.1 248.7L2146.0 248.5L2149.0 248.3L2152.0 248.0L2155.0 247.8L2158.0 247.6L2155.5 249.4L2153.1 251.4L2150.8 253.4L2148.6 255.5L2146.5 257.6L2144.5 259.8L2142.5 262.0L2140.6 264.3L2138.8 266.6L2137.1 268.9L2135.4 271.3L2133.7 273.7L2132.1 276.2L2130.6 278.7L2129.1 281.2L2127.7 283.8L2126.3 286.3L2125.0 289.0L2123.7 291.6L2122.5 294.3L2121.2 296.9L2120.0 299.6L2118.9 302.4L2117.8 305.1L2116.6 307.8L2115.6 310.6L2114.5 313.4L2113.4 316.2L2112.4 319.0L2111.4 321.8L2110.3 324.6L2109.3 327.4L2108.3 330.2L2107.3 333.0L2106.3 335.9L2105.3 338.7L2104.3 341.5L2103.4 344.4L2102.4 347.2L2101.4 350.1L2100.5 352.9L2099.5 355.8L2098.5 358.6L2097.6 361.5L2096.6 364.4L2095.6 367.2L2094.7 370.1L2093.7 372.9L2092.8 375.8L2091.8 378.7L2090.8 381.5L2089.8 384.4L2088.9 387.2L2087.9 390.1L2086.9 392.9L2085.9 395.8L2084.9 398.6L2083.9 401.5L2082.9 404.3L2081.9 407.2L2080.8 410.0L2079.8 412.8L2078.7 415.7L2077.7 418.5L2076.6 421.3L2075.5 424.1L2074.4 426.9L2073.3 429.7L2072.2 432.5L2071.0 435.3L2069.9 438.1L2068.7 440.9L2067.5 443.6L2066.3 446.4L2065.1 449.1L2063.9 451.9L2062.6 454.6L2061.4 457.3L2060.1 460.0L2058.8 462.8L2057.4 465.4L2056.1 468.1L2054.7 470.8L2053.3 473.5L2051.9 476.1L2050.5 478.7L2049.0 481.4L2047.5 484.0L2046.0 486.6L2044.5 489.2L2042.9 491.7L2041.4 494.3L2039.8 496.8L2038.2 499.4L2036.5 501.9L2034.9 504.4L2033.2 506.9L2031.5 509.4L2029.8 511.8L2028.1 514.3L2026.3 516.7L2024.5 519.2L2022.7 521.6L2020.9 524.0L2019.1 526.3L2017.2 528.7L2015.3 531.1L2013.4 533.4L2011.5 535.7L2009.6 538.0L2007.6 540.3L2005.7 542.6L2003.7 544.8L2001.7 547.0L1999.7 549.3L1997.6 551.5L1995.6 553.6L1993.5 555.8L1991.4 558.0L1989.3 560.1L1987.1 562.2L1985.0 564.3L1982.8 566.4L1980.6 568.4L1978.5 570.5L1976.2 572.5L1974.0 574.5L1971.8 576.5L1969.5 578.4L1967.2 580.4L1964.9 582.3L1962.6 584.2L1960.3 586.1L1957.9 588.0L1955.6 589.8L1953.2 591.6L1950.8 593.4L1948.4 595.2L1946.0 597.0L1943.6 598.7L1941.1 600.4L1938.7 602.1L1936.2 603.8L1933.7 605.5L1931.2 607.1L1928.7 608.7L1926.2 610.3L1923.6 611.9L1921.1 613.4L1918.5 614.9L1915.9 616.4L1913.3 617.9L1910.7 619.3L1908.1 620.8L1905.5 622.2L1902.8 623.5L1900.2 624.9L1897.5 626.2L1894.8 627.5L1892.1 628.8L1889.4 630.1L1886.7 631.3L1884.0 632.5L1881.2 633.7L1878.5 634.8L1875.7 635.9L1873.0 637.0L1870.2 638.1L1867.4 639.2L1864.6 640.2L1861.8 641.2L1859.0 642.2L1856.1 643.1L1853.3 644.0L1850.5 644.9L1847.6 645.8L1844.7 646.6L1841.8 647.4L1839.0 648.2L1836.1 648.9L1833.2 649.7L1830.3 650.4L1827.3 651.1L1824.4 651.7L1821.5 652.4L1818.6 653.0L1815.6 653.6L1812.7 654.2L1809.7 654.8L1806.7 655.3L1803.8 655.8L1800.8 656.3L1797.8 656.8L1794.8 657.3L1791.8 657.8L1788.9 658.2L1785.9 658.6L1782.9 659.0L1779.9 659.4L1776.8 659.8L1773.8 660.2L1770.8 660.5L1767.8 660.8L1764.8 661.2L1761.8 661.5L1758.7 661.8L1755.7 662.1L1752.7 662.4L1749.6 662.6L1746.6 662.9L1743.6 663.2L1740.6 663.4L1737.5 663.7L1734.5 663.9L1731.5 664.1L1728.4 664.4L1725.4 664.6L1722.4 664.8L1719.3 665.0L1716.3 665.2L1713.3 665.4L1710.2 665.6L1707.2 665.8L1704.2 666.0L1701.2 666.2L1698.2 666.4L1695.2 666.6L1692.1 666.8L1689.1 667.0L1686.1 667.2L1683.1 667.4L1680.1 667.6L1677.1 667.8L1674.1 668.0L1671.1 668.2L1668.2 668.4L1665.2 668.6L1662.2 668.8L1659.2 669.0L1656.2 669.2L1653.2 669.4L1650.2 669.6L1647.3 669.8L1644.3 670.0L1641.3 670.2L1638.3 670.4L1635.4 670.6L1632.4 670.8L1629.4 671.0L1626.5 671.2L1623.5 671.4L1620.5 671.6L1617.6 671.8L1614.6 672.0L1611.6 672.2L1608.7 672.4L1605.7 672.6L1602.7 672.8L1599.8 673.0L1596.8 673.2L1593.8 673.4L1590.9 673.6L1587.9 673.8L1584.9 674.0L1581.9 674.3L1579.0 674.5L1576.0 674.7L1573.0 674.9L1570.1 675.1L1567.1 675.3L1564.1 675.5L1561.1 675.7L1558.2 676.0L1555.2 676.2L1552.2 676.4L1549.2 676.6L1546.2 676.8L1543.3 677.0L1540.3 677.2L1537.3 677.5L1534.3 677.7L1531.3 677.9L1528.3 678.1L1525.3 678.3L1522.3 678.6L1519.3 678.8L1516.3 679.0L1513.3 679.2L1510.3 679.5L1507.2 679.7L1504.2 679.9L1501.2 680.1L1498.2 680.4L1495.1 680.6L1492.1 680.8L1489.1 681.0L1486.0 681.3L1483.0 681.5Z" fill="none" stroke="#ff0000" stroke-width="4.3" stroke-linejoin="round" stroke-linecap="butt"/>
<path d="M1482.9 621.8L1483.0 618.7L1483.2 615.5L1483.4 612.4L1483.8 609.4L1484.2 606.3L1484.7 603.3L1485.3 600.3L1485.9 597.4L1486.6 594.5L1487.4 591.6L1488.3 588.7L1489.2 585.9L1490.2 583.1L1491.2 580.4L1492.3 577.6L1493.5 574.9L1494.7 572.3L1496.0 569.6L1497.4 567.0L1498.8 564.4L1500.2 561.8L1501.7 559.3L1503.3 556.8L1504.9 554.3L1506.5 551.9L1508.2 549.4L1509.9 547.1L1511.7 544.7L1513.5 542.3L1515.4 540.0L1517.3 537.7L1519.2 535.5L1521.1 533.2L1523.1 531.0L1525.1 528.8L1527.2 526.6L1529.2 524.5L1531.3 522.4L1533.4 520.3L1535.6 518.2L1537.7 516.2L1539.9 514.1L1542.1 512.1L1544.3 510.2L1546.5 508.2L1548.8 506.3L1551.0 504.3L1553.3 502.5L1555.6 500.6L1557.9 498.7L1560.3 496.9L1562.6 495.1L1565.0 493.3L1567.4 491.5L1569.8 489.8L1572.2 488.1L1574.6 486.4L1577.1 484.7L1579.5 483.0L1582.0 481.3L1584.5 479.7L1587.0 478.1L1589.5 476.5L1592.0 474.9L1594.6 473.3L1597.1 471.8L1599.7 470.3L1602.3 468.7L1604.9 467.2L1607.5 465.7L1610.1 464.3L1612.7 462.8L1615.3 461.4L1618.0 459.9L1620.6 458.5L1623.3 457.1L1626.0 455.7L1628.7 454.4L1631.4 453.0L1634.1 451.7L1636.8 450.3L1639.5 449.0L1642.2 447.7L1645.0 446.4L1647.7 445.1L1650.4 443.8L1653.2 442.6L1656.0 441.3L1658.7 440.0L1661.5 438.8L1664.3 437.6L1667.1 436.4L1669.9 435.1L1672.7 433.9L1675.5 432.8L1678.3 431.6L1681.1 430.4L1683.9 429.2L1686.7 428.1L1689.6 426.9L1692.4 425.8L1695.2 424.6L1698.0 423.5L1700.9 422.3L1703.7 421.2L1706.6 420.1L1709.4 419.0L1712.2 417.9L1715.1 416.8L1717.9 415.7L1720.8 414.6L1723.6 413.5L1726.4 412.4L1729.3 411.3L1732.1 410.2L1735.0 409.1L1737.8 408.1L1740.6 407.0L1743.5 405.9L1746.3 404.8L1749.2 403.8L1752.0 402.7L1754.8 401.6L1757.7 400.6L1760.5 399.5L1763.3 398.4L1766.1 397.4L1769.0 396.3L1771.8 395.3L1774.6 394.2L1777.5 393.1L1780.3 392.1L1783.1 391.0L1785.9 390.0L1788.8 388.9L1791.6 387.9L1794.4 386.9L1797.2 385.8L1800.0 384.8L1802.9 383.7L1805.7 382.7L1808.5 381.6L1811.3 380.6L1814.1 379.6L1816.9 378.5L1819.7 377.5L1822.5 376.4L1825.4 375.4L1828.2 374.4L1831.0 373.3L1833.8 372.3L1836.6 371.2L1839.4 370.2L1842.2 369.2L1845.0 368.1L1847.8 367.1L1850.6 366.0L1853.4 365.0L1856.2 364.0L1859.0 362.9L1861.8 361.9L1864.6 360.8L1867.4 359.8L1870.2 358.7L1873.0 357.7L1875.8 356.7L1878.6 355.6L1881.4 354.6L1884.2 353.5L1887.0 352.5L1889.7 351.4L1892.5 350.3L1895.3 349.3L1898.1 348.2L1900.9 347.2L1903.7 346.1L1906.5 345.1L1909.2 344.0L1912.0 342.9L1914.8 341.9L1917.6 340.8L1920.4 339.7L1923.2 338.6L1925.9 337.6L1928.7 336.5L1931.5 335.4L1934.3 334.3L1937.0 333.2L1939.8 332.2L1942.6 331.1L1945.4 330.0L1948.1 328.9L1950.9 327.8L1953.7 326.7L1956.4 325.6L1959.2 324.5L1962.0 323.3L1964.7 322.2L1967.5 321.1L1970.3 320.0L1973.0 318.9L1975.8 317.7L1978.6 316.6L1981.3 315.5L1984.1 314.3L1986.8 313.2L1989.6 312.1L1992.3 310.9L1995.1 309.7L1997.9 308.6L2000.6 307.4L2003.4 306.3L2006.1 305.1L2008.9 303.9L2011.6 302.7L2014.4 301.6L2017.1 300.4L2019.9 299.2L2022.6 298.0L2025.4 296.8L2028.1 295.6L2030.9 294.4L2033.6 293.1L2036.4 291.9L2039.1 290.7L2041.8 289.5L2044.6 288.2L2047.3 287.0L2050.1 285.7L2052.8 284.5L2055.6 283.2L2058.3 282.0L2061.0 280.7L2063.8 279.4L2066.5 278.1L2069.2 276.8L2072.0 275.5L2074.7 274.2L2077.4 272.9L2080.1 271.6L2082.8 270.2L2085.5 268.9L2088.2 267.5L2090.9 266.1L2093.6 264.7L2096.2 263.3L2098.9 261.9L2101.5 260.4L2104.1 259.0L2106.7 257.5L2109.3 255.9L2111.9 254.4L2114.5 252.9L2117.0 251.3L2119.5 249.7L2122.1 248.0L2124.5 246.4L2127.0 244.7L2129.5 243.0L2131.9 241.2L2134.3 239.5L2136.7 237.7L2139.0 235.8L2141.4 234.0L2143.7 232.1L2146.0 230.2L2148.2 228.2L2150.5 226.2L2152.6 224.2L2154.8 222.1L2157.0 220.0L2156.6 222.9L2156.2 226.0L2155.8 229.1L2155.3 232.1L2154.9 235.2L2154.3 238.2L2153.8 241.3L2153.2 244.3L2152.6 247.3L2152.0 250.3L2151.3 253.3L2150.6 256.3L2149.8 259.2L2149.1 262.2L2148.3 265.1L2147.4 268.0L2146.6 270.9L2145.7 273.8L2144.8 276.7L2143.8 279.6L2142.8 282.4L2141.8 285.2L2140.8 288.1L2139.7 290.9L2138.6 293.7L2137.5 296.4L2136.4 299.2L2135.2 301.9L2134.0 304.7L2132.7 307.4L2131.5 310.1L2130.2 312.8L2128.9 315.5L2127.5 318.1L2126.2 320.8L2124.8 323.4L2123.4 326.0L2121.9 328.6L2120.5 331.2L2119.0 333.8L2117.5 336.4L2115.9 338.9L2114.4 341.4L2112.8 343.9L2111.2 346.4L2109.5 348.9L2107.9 351.4L2106.2 353.8L2104.5 356.3L2102.8 358.7L2101.0 361.1L2099.3 363.5L2097.5 365.9L2095.7 368.2L2093.8 370.6L2092.0 372.9L2090.1 375.2L2088.2 377.5L2086.3 379.8L2084.4 382.0L2082.5 384.3L2080.5 386.5L2078.5 388.7L2076.5 390.9L2074.5 393.1L2072.4 395.3L2070.4 397.4L2068.3 399.5L2066.2 401.6L2064.1 403.7L2062.0 405.8L2059.9 407.9L2057.7 409.9L2055.5 412.0L2053.3 414.0L2051.1 416.0L2048.9 417.9L2046.7 419.9L2044.4 421.8L2042.2 423.8L2039.9 425.7L2037.6 427.6L2035.3 429.4L2033.0 431.3L2030.7 433.1L2028.3 435.0L2026.0 436.8L2023.6 438.5L2021.2 440.3L2018.8 442.1L2016.4 443.8L2014.0 445.5L2011.6 447.2L2009.1 448.9L2006.7 450.6L2004.2 452.3L2001.7 453.9L1999.2 455.6L1996.7 457.2L1994.2 458.8L1991.7 460.4L1989.2 461.9L1986.6 463.5L1984.1 465.0L1981.5 466.6L1978.9 468.1L1976.3 469.6L1973.7 471.1L1971.1 472.5L1968.5 474.0L1965.9 475.4L1963.3 476.9L1960.6 478.3L1958.0 479.7L1955.3 481.1L1952.6 482.5L1950.0 483.8L1947.3 485.2L1944.6 486.5L1941.9 487.9L1939.2 489.2L1936.5 490.5L1933.7 491.8L1931.0 493.1L1928.3 494.3L1925.5 495.6L1922.8 496.8L1920.0 498.1L1917.3 499.3L1914.5 500.5L1911.7 501.7L1908.9 502.9L1906.1 504.1L1903.3 505.3L1900.5 506.4L1897.7 507.6L1894.9 508.7L1892.1 509.9L1889.3 511.0L1886.5 512.1L1883.6 513.2L1880.8 514.3L1878.0 515.4L1875.1 516.5L1872.3 517.5L1869.4 518.6L1866.6 519.6L1863.7 520.7L1860.8 521.7L1858.0 522.8L1855.1 523.8L1852.2 524.8L1849.3 525.8L1846.5 526.8L1843.6 527.8L1840.7 528.7L1837.8 529.7L1834.9 530.7L1832.0 531.6L1829.1 532.6L1826.3 533.5L1823.4 534.5L1820.5 535.4L1817.6 536.3L1814.7 537.3L1811.8 538.2L1808.9 539.1L1806.0 540.0L1803.1 540.9L1800.2 541.8L1797.3 542.7L1794.4 543.5L1791.5 544.4L1788.6 545.3L1785.7 546.2L1782.8 547.0L1779.9 547.9L1777.0 548.7L1774.1 549.6L1771.2 550.4L1768.3 551.3L1765.4 552.1L1762.5 552.9L1759.6 553.7L1756.7 554.6L1753.8 555.4L1750.9 556.2L1748.0 557.0L1745.1 557.8L1742.2 558.6L1739.3 559.4L1736.4 560.2L1733.4 561.0L1730.5 561.7L1727.6 562.5L1724.7 563.3L1721.8 564.1L1718.9 564.8L1716.0 565.6L1713.1 566.4L1710.2 567.1L1707.3 567.9L1704.4 568.6L1701.5 569.4L1698.6 570.1L1695.7 570.9L1692.8 571.6L1689.9 572.4L1687.0 573.1L1684.1 573.8L1681.2 574.6L1678.3 575.3L1675.4 576.0L1672.5 576.7L1669.6 577.4L1666.7 578.2L1663.8 578.9L1660.8 579.6L1657.9 580.3L1655.0 581.0L1652.1 581.7L1649.2 582.4L1646.3 583.1L1643.4 583.8L1640.5 584.5L1637.6 585.2L1634.7 585.9L1631.8 586.6L1628.9 587.3L1626.0 588.0L1623.0 588.7L1620.1 589.4L1617.2 590.1L1614.3 590.8L1611.4 591.5L1608.5 592.2L1605.6 592.9L1602.7 593.5L1599.8 594.2L1596.8 594.9L1593.9 595.6L1591.0 596.3L1588.1 597.0L1585.2 597.6L1582.3 598.3L1579.4 599.0L1576.5 599.7L1573.5 600.4L1570.6 601.1L1567.7 601.7L1564.8 602.4L1561.9 603.1L1559.0 603.8L1556.1 604.5L1553.1 605.2L1550.2 605.8L1547.3 606.5L1544.4 607.2L1541.5 607.9L1538.5 608.6L1535.6 609.3L1532.7 610.0L1529.8 610.7L1526.9 611.3L1524.0 612.0L1521.0 612.7L1518.1 613.4L1515.2 614.1L1512.3 614.8L1509.3 615.5L1506.4 616.2L1503.5 616.9L1500.6 617.6L1497.7 618.3L1494.7 619.0L1491.8 619.7L1488.9 620.5L1486.0 621.2L1483.0 621.9Z" fill="none" stroke="#0000ff" stroke-width="4.3" stroke-linejoin="round" stroke-linecap="butt"/>
<path d="M1483.0 629.6L1483.0 626.4L1482.9 623.3L1482.9 620.1L1483.0 617.0L1483.1 613.9L1483.3 610.8L1483.6 607.8L1483.8 604.7L1484.2 601.6L1484.6 598.6L1485.0 595.6L1485.5 592.6L1486.1 589.6L1486.7 586.6L1487.3 583.6L1488.0 580.7L1488.7 577.8L1489.5 574.9L1490.4 572.0L1491.2 569.1L1492.2 566.3L1493.2 563.4L1494.2 560.6L1495.2 557.8L1496.4 555.1L1497.5 552.3L1498.7 549.6L1500.0 546.9L1501.3 544.2L1502.6 541.6L1504.0 538.9L1505.4 536.3L1506.8 533.7L1508.3 531.2L1509.9 528.7L1511.5 526.2L1513.1 523.7L1514.7 521.2L1516.4 518.8L1518.2 516.4L1520.0 514.1L1521.8 511.8L1523.6 509.5L1525.5 507.2L1527.4 504.9L1529.4 502.7L1531.4 500.6L1533.4 498.4L1535.5 496.3L1537.6 494.2L1539.7 492.1L1541.8 490.1L1544.0 488.1L1546.2 486.1L1548.5 484.1L1550.7 482.2L1553.0 480.3L1555.3 478.4L1557.7 476.6L1560.0 474.8L1562.4 473.0L1564.8 471.2L1567.3 469.5L1569.7 467.8L1572.2 466.1L1574.7 464.4L1577.2 462.8L1579.8 461.2L1582.3 459.6L1584.9 458.0L1587.5 456.5L1590.1 455.0L1592.7 453.5L1595.3 452.1L1598.0 450.6L1600.6 449.2L1603.3 447.8L1606.0 446.5L1608.7 445.1L1611.4 443.8L1614.1 442.5L1616.8 441.2L1619.6 440.0L1622.3 438.7L1625.1 437.5L1627.8 436.3L1630.6 435.1L1633.4 434.0L1636.2 432.8L1638.9 431.7L1641.8 430.5L1644.6 429.4L1647.4 428.3L1650.2 427.3L1653.0 426.2L1655.9 425.1L1658.7 424.1L1661.5 423.0L1664.4 422.0L1667.2 421.0L1670.1 420.0L1672.9 418.9L1675.8 417.9L1678.7 416.9L1681.5 416.0L1684.4 415.0L1687.2 414.0L1690.1 413.0L1693.0 412.0L1695.8 411.0L1698.7 410.1L1701.6 409.1L1704.4 408.1L1707.3 407.2L1710.2 406.2L1713.0 405.2L1715.9 404.2L1718.8 403.3L1721.6 402.3L1724.5 401.3L1727.4 400.3L1730.2 399.4L1733.1 398.4L1735.9 397.4L1738.8 396.5L1741.7 395.5L1744.5 394.5L1747.4 393.6L1750.2 392.6L1753.1 391.6L1755.9 390.7L1758.8 389.7L1761.7 388.8L1764.5 387.8L1767.4 386.8L1770.2 385.9L1773.1 384.9L1776.0 384.0L1778.8 383.0L1781.7 382.1L1784.5 381.1L1787.4 380.2L1790.2 379.2L1793.1 378.3L1795.9 377.3L1798.8 376.4L1801.7 375.4L1804.5 374.5L1807.4 373.5L1810.2 372.6L1813.1 371.6L1815.9 370.7L1818.8 369.8L1821.6 368.8L1824.5 367.9L1827.4 366.9L1830.2 366.0L1833.1 365.1L1835.9 364.1L1838.8 363.2L1841.6 362.3L1844.5 361.4L1847.3 360.4L1850.2 359.5L1853.1 358.6L1855.9 357.7L1858.8 356.8L1861.6 355.8L1864.5 354.9L1867.3 354.0L1870.2 353.1L1873.1 352.2L1875.9 351.3L1878.8 350.4L1881.6 349.5L1884.5 348.6L1887.4 347.7L1890.2 346.8L1893.1 345.9L1895.9 345.0L1898.8 344.1L1901.7 343.2L1904.5 342.3L1907.4 341.4L1910.3 340.5L1913.1 339.6L1916.0 338.8L1918.9 337.9L1921.7 337.0L1924.6 336.1L1927.5 335.2L1930.3 334.4L1933.2 333.5L1936.1 332.6L1938.9 331.8L1941.8 330.9L1944.7 330.1L1947.5 329.2L1950.4 328.3L1953.3 327.5L1956.2 326.6L1959.0 325.8L1961.9 324.9L1964.8 324.1L1967.7 323.3L1970.5 322.4L1973.4 321.6L1976.3 320.7L1979.2 319.9L1982.0 319.1L1984.9 318.3L1987.8 317.4L1990.7 316.6L1993.6 315.8L1996.5 315.0L1999.3 314.2L2002.2 313.4L2005.1 312.6L2008.0 311.7L2010.9 310.9L2013.8 310.1L2016.7 309.4L2019.6 308.6L2022.5 307.8L2025.4 307.0L2028.3 306.2L2031.1 305.4L2034.0 304.6L2036.9 303.9L2039.8 303.1L2042.7 302.3L2045.6 301.6L2048.6 300.8L2051.5 300.0L2054.4 299.3L2057.3 298.5L2060.2 297.8L2063.1 297.0L2066.0 296.3L2068.9 295.5L2071.8 294.8L2074.7 294.1L2077.6 293.3L2080.6 292.6L2083.5 291.9L2086.4 291.1L2089.3 290.4L2092.2 289.7L2095.2 289.0L2098.1 288.3L2101.0 287.6L2104.0 286.9L2106.9 286.2L2109.8 285.5L2112.7 284.8L2115.7 284.1L2118.6 283.4L2121.5 282.8L2124.5 282.1L2127.4 281.4L2130.4 280.7L2133.3 280.1L2136.3 279.4L2139.2 278.8L2142.1 278.1L2145.1 277.5L2148.0 276.8L2151.0 276.2L2154.0 275.5L2156.9 274.9L2155.9 277.7L2155.0 280.5L2154.0 283.3L2153.1 286.1L2152.2 288.9L2151.3 291.8L2150.4 294.6L2149.6 297.5L2148.7 300.4L2147.8 303.3L2147.0 306.1L2146.2 309.0L2145.3 311.9L2144.5 314.8L2143.7 317.7L2142.8 320.7L2142.0 323.6L2141.2 326.5L2140.3 329.4L2139.5 332.3L2138.6 335.2L2137.7 338.1L2136.8 341.0L2136.0 343.9L2135.0 346.8L2134.1 349.7L2133.2 352.5L2132.2 355.4L2131.2 358.3L2130.2 361.1L2129.2 364.0L2128.1 366.8L2127.0 369.6L2125.9 372.4L2124.8 375.2L2123.6 378.0L2122.4 380.7L2121.1 383.5L2119.9 386.2L2118.6 388.9L2117.2 391.6L2115.8 394.3L2114.4 396.9L2113.0 399.5L2111.5 402.2L2110.0 404.8L2108.4 407.3L2106.8 409.9L2105.2 412.4L2103.6 414.9L2101.9 417.4L2100.2 419.9L2098.5 422.4L2096.7 424.8L2095.0 427.2L2093.1 429.6L2091.3 432.0L2089.4 434.3L2087.5 436.7L2085.6 439.0L2083.7 441.3L2081.7 443.5L2079.7 445.8L2077.7 448.0L2075.7 450.2L2073.6 452.3L2071.5 454.5L2069.4 456.6L2067.3 458.7L2065.1 460.7L2062.9 462.8L2060.7 464.8L2058.5 466.8L2056.3 468.8L2054.0 470.7L2051.7 472.6L2049.5 474.5L2047.1 476.4L2044.8 478.2L2042.5 480.0L2040.1 481.8L2037.7 483.5L2035.3 485.3L2032.9 487.0L2030.5 488.6L2028.0 490.3L2025.6 491.9L2023.1 493.5L2020.6 495.1L2018.1 496.6L2015.6 498.2L2013.0 499.7L2010.5 501.2L2007.9 502.6L2005.4 504.1L2002.8 505.5L2000.2 506.9L1997.5 508.3L1994.9 509.6L1992.3 511.0L1989.6 512.3L1986.9 513.6L1984.3 514.8L1981.6 516.1L1978.9 517.3L1976.1 518.5L1973.4 519.7L1970.7 520.9L1967.9 522.1L1965.2 523.2L1962.4 524.4L1959.6 525.5L1956.8 526.6L1954.0 527.6L1951.2 528.7L1948.4 529.7L1945.6 530.8L1942.7 531.8L1939.9 532.8L1937.0 533.8L1934.2 534.7L1931.3 535.7L1928.4 536.6L1925.6 537.6L1922.7 538.5L1919.8 539.4L1916.9 540.3L1914.0 541.2L1911.0 542.0L1908.1 542.9L1905.2 543.7L1902.3 544.6L1899.3 545.4L1896.4 546.2L1893.4 547.0L1890.5 547.8L1887.5 548.6L1884.6 549.4L1881.6 550.1L1878.6 550.9L1875.7 551.6L1872.7 552.4L1869.7 553.1L1866.7 553.8L1863.7 554.5L1860.8 555.3L1857.8 556.0L1854.8 556.7L1851.8 557.4L1848.8 558.1L1845.8 558.7L1842.8 559.4L1839.8 560.1L1836.8 560.8L1833.8 561.4L1830.8 562.1L1827.8 562.7L1824.8 563.4L1821.8 564.1L1818.9 564.7L1815.9 565.4L1812.9 566.0L1809.9 566.7L1806.9 567.3L1803.9 567.9L1800.9 568.6L1797.9 569.2L1795.0 569.9L1792.0 570.5L1789.0 571.2L1786.1 571.8L1783.1 572.5L1780.1 573.1L1777.2 573.8L1774.2 574.4L1771.3 575.1L1768.3 575.7L1765.4 576.4L1762.4 577.0L1759.5 577.7L1756.6 578.3L1753.6 579.0L1750.7 579.6L1747.8 580.3L1744.8 580.9L1741.9 581.6L1739.0 582.2L1736.1 582.9L1733.1 583.5L1730.2 584.2L1727.3 584.8L1724.4 585.5L1721.5 586.1L1718.6 586.8L1715.7 587.4L1712.7 588.1L1709.8 588.7L1706.9 589.3L1704.0 590.0L1701.1 590.6L1698.2 591.3L1695.3 591.9L1692.4 592.5L1689.5 593.2L1686.6 593.8L1683.7 594.5L1680.8 595.1L1677.9 595.7L1675.0 596.3L1672.1 597.0L1669.2 597.6L1666.3 598.2L1663.4 598.8L1660.5 599.4L1657.6 600.1L1654.7 600.7L1651.8 601.3L1648.9 601.9L1646.0 602.5L1643.1 603.1L1640.2 603.7L1637.3 604.3L1634.4 604.9L1631.5 605.5L1628.6 606.1L1625.7 606.6L1622.8 607.2L1619.9 607.8L1616.9 608.4L1614.0 609.0L1611.1 609.5L1608.2 610.1L1605.3 610.6L1602.4 611.2L1599.4 611.8L1596.5 612.3L1593.6 612.8L1590.7 613.4L1587.7 613.9L1584.8 614.5L1581.9 615.0L1578.9 615.5L1576.0 616.0L1573.0 616.5L1570.1 617.0L1567.1 617.6L1564.2 618.1L1561.2 618.5L1558.3 619.0L1555.3 619.5L1552.3 620.0L1549.4 620.5L1546.4 621.0L1543.4 621.4L1540.4 621.9L1537.4 622.3L1534.5 622.8L1531.5 623.2L1528.5 623.7L1525.5 624.1L1522.5 624.5L1519.4 624.9L1516.4 625.4L1513.4 625.8L1510.4 626.2L1507.4 626.6L1504.3 627.0L1501.3 627.3L1498.3 627.7L1495.2 628.1L1492.2 628.4L1489.1 628.8L1486.0 629.2L1483.0 629.5Z" fill="none" stroke="#ff00ff" stroke-width="4.3" stroke-linejoin="round" stroke-linecap="butt"/>
<path d="M240.6 1504.7L240.8 1501.4L241.1 1498.1L241.6 1494.8L242.1 1491.6L242.7 1488.5L243.4 1485.5L244.3 1482.5L245.2 1479.6L246.1 1476.7L247.2 1473.9L248.4 1471.2L249.6 1468.5L250.9 1465.9L252.3 1463.4L253.8 1460.9L255.3 1458.4L256.9 1456.0L258.6 1453.7L260.3 1451.4L262.1 1449.2L264.0 1447.0L265.9 1444.9L267.8 1442.8L269.9 1440.8L272.0 1438.9L274.1 1436.9L276.3 1435.0L278.5 1433.2L280.8 1431.4L283.1 1429.7L285.4 1428.0L287.8 1426.3L290.2 1424.7L292.7 1423.1L295.1 1421.6L297.6 1420.1L300.2 1418.6L302.7 1417.2L305.3 1415.8L307.9 1414.5L310.5 1413.1L313.2 1411.9L315.8 1410.6L318.5 1409.4L321.2 1408.2L323.9 1407.1L326.7 1405.9L329.4 1404.8L332.2 1403.8L334.9 1402.7L337.7 1401.7L340.6 1400.8L343.4 1399.8L346.2 1398.9L349.1 1398.0L351.9 1397.1L354.8 1396.3L357.7 1395.4L360.6 1394.6L363.5 1393.9L366.5 1393.1L369.4 1392.4L372.3 1391.7L375.3 1391.0L378.3 1390.3L381.2 1389.6L384.2 1389.0L387.2 1388.4L390.2 1387.8L393.2 1387.2L396.2 1386.6L399.2 1386.0L402.3 1385.5L405.3 1385.0L408.3 1384.4L411.4 1383.9L414.4 1383.4L417.4 1382.9L420.5 1382.5L423.5 1382.0L426.6 1381.5L429.7 1381.1L432.7 1380.7L435.8 1380.2L438.8 1379.8L441.9 1379.4L444.9 1378.9L448.0 1378.5L451.1 1378.1L454.1 1377.7L457.2 1377.3L460.2 1376.9L463.3 1376.5L466.3 1376.1L469.3 1375.7L472.4 1375.3L475.4 1374.9L478.4 1374.5L481.5 1374.1L484.5 1373.7L487.5 1373.3L490.5 1372.9L493.5 1372.5L496.6 1372.2L499.6 1371.8L502.6 1371.4L505.6 1371.0L508.6 1370.6L511.6 1370.2L514.6 1369.8L517.6 1369.4L520.6 1369.1L523.6 1368.7L526.6 1368.3L529.5 1367.9L532.5 1367.5L535.5 1367.1L538.5 1366.8L541.5 1366.4L544.4 1366.0L547.4 1365.6L550.4 1365.2L553.4 1364.8L556.3 1364.5L559.3 1364.1L562.3 1363.7L565.2 1363.3L568.2 1363.0L571.2 1362.6L574.1 1362.2L577.1 1361.8L580.1 1361.4L583.0 1361.1L586.0 1360.7L588.9 1360.3L591.9 1359.9L594.8 1359.6L597.8 1359.2L600.7 1358.8L603.7 1358.4L606.6 1358.1L609.6 1357.7L612.5 1357.3L615.5 1356.9L618.4 1356.6L621.4 1356.2L624.3 1355.8L627.3 1355.4L630.2 1355.1L633.2 1354.7L636.1 1354.3L639.0 1353.9L642.0 1353.6L644.9 1353.2L647.9 1352.8L650.8 1352.4L653.8 1352.1L656.7 1351.7L659.6 1351.3L662.6 1350.9L665.5 1350.5L668.5 1350.2L671.4 1349.8L674.4 1349.4L677.3 1349.0L680.2 1348.7L683.2 1348.3L686.1 1347.9L689.1 1347.5L692.0 1347.1L695.0 1346.7L697.9 1346.4L700.9 1346.0L703.8 1345.6L706.8 1345.2L709.7 1344.8L712.7 1344.4L715.6 1344.1L718.6 1343.7L721.5 1343.3L724.5 1342.9L727.4 1342.5L730.4 1342.1L733.4 1341.7L736.3 1341.3L739.3 1340.9L742.2 1340.5L745.2 1340.1L748.2 1339.8L751.1 1339.4L754.1 1339.0L757.1 1338.6L760.0 1338.2L763.0 1337.8L766.0 1337.4L769.0 1337.0L772.0 1336.6L774.9 1336.2L777.9 1335.7L780.9 1335.3L783.9 1334.9L786.9 1334.5L789.9 1334.1L792.9 1333.7L795.9 1333.3L798.9 1332.9L801.9 1332.5L804.9 1332.1L807.9 1331.6L810.9 1331.2L813.9 1330.8L816.9 1330.4L819.9 1330.0L822.9 1329.5L825.9 1329.1L829.0 1328.7L832.0 1328.2L835.0 1327.8L838.0 1327.3L841.0 1326.8L844.0 1326.4L847.1 1325.9L850.1 1325.4L853.1 1324.9L856.1 1324.3L859.1 1323.8L862.0 1323.2L865.0 1322.7L868.0 1322.1L871.0 1321.4L873.9 1320.8L876.9 1320.1L879.8 1319.5L882.8 1318.8L885.7 1318.0L888.6 1317.3L891.5 1316.5L894.4 1315.7L897.3 1314.8L900.1 1313.9L903.0 1313.0L905.8 1312.1L908.6 1311.1L911.4 1310.1L914.2 1309.1L917.0 1308.0L919.8 1306.9L922.5 1305.7L925.2 1304.5L927.9 1303.3L930.6 1302.0L933.3 1300.7L935.9 1299.3L938.5 1297.9L941.1 1296.5L943.7 1295.0L946.3 1293.4L948.8 1291.8L951.3 1290.2L953.8 1288.5L956.3 1286.7L958.7 1284.9L961.1 1283.0L963.5 1281.1L965.9 1279.1L968.2 1277.1L968.0 1280.2L967.8 1283.5L967.5 1286.7L967.1 1289.9L966.6 1293.0L966.1 1296.1L965.5 1299.2L964.9 1302.3L964.2 1305.3L963.5 1308.3L962.7 1311.3L961.8 1314.2L960.9 1317.1L959.9 1320.0L958.9 1322.8L957.8 1325.6L956.6 1328.4L955.4 1331.1L954.2 1333.8L952.9 1336.5L951.6 1339.1L950.2 1341.7L948.7 1344.3L947.3 1346.9L945.7 1349.4L944.2 1351.8L942.5 1354.3L940.9 1356.7L939.2 1359.1L937.4 1361.4L935.7 1363.7L933.8 1366.0L932.0 1368.2L930.1 1370.4L928.2 1372.5L926.2 1374.7L924.2 1376.8L922.1 1378.8L920.1 1380.8L918.0 1382.8L915.8 1384.8L913.7 1386.7L911.5 1388.6L909.2 1390.4L907.0 1392.2L904.7 1394.0L902.4 1395.8L900.0 1397.5L897.6 1399.2L895.2 1400.9L892.8 1402.5L890.3 1404.1L887.9 1405.7L885.4 1407.2L882.8 1408.7L880.3 1410.2L877.7 1411.7L875.1 1413.1L872.5 1414.5L869.8 1415.9L867.2 1417.3L864.5 1418.6L861.8 1419.9L859.1 1421.2L856.3 1422.4L853.6 1423.6L850.8 1424.8L848.0 1426.0L845.2 1427.2L842.4 1428.3L839.6 1429.4L836.7 1430.5L833.9 1431.6L831.0 1432.6L828.1 1433.6L825.3 1434.6L822.4 1435.6L819.4 1436.5L816.5 1437.5L813.6 1438.4L810.7 1439.3L807.7 1440.2L804.8 1441.0L801.8 1441.8L798.9 1442.7L795.9 1443.5L792.9 1444.3L790.0 1445.0L787.0 1445.8L784.0 1446.5L781.0 1447.2L778.0 1447.9L775.1 1448.6L772.1 1449.3L769.1 1449.9L766.1 1450.6L763.2 1451.2L760.2 1451.8L757.2 1452.4L754.2 1453.0L751.2 1453.6L748.3 1454.2L745.3 1454.7L742.3 1455.2L739.3 1455.8L736.3 1456.3L733.4 1456.8L730.4 1457.3L727.4 1457.7L724.4 1458.2L721.5 1458.6L718.5 1459.1L715.5 1459.5L712.5 1459.9L709.5 1460.3L706.6 1460.7L703.6 1461.1L700.6 1461.5L697.6 1461.9L694.7 1462.2L691.7 1462.6L688.7 1462.9L685.7 1463.3L682.7 1463.6L679.8 1463.9L676.8 1464.2L673.8 1464.5L670.8 1464.8L667.9 1465.1L664.9 1465.4L661.9 1465.6L658.9 1465.9L655.9 1466.2L653.0 1466.4L650.0 1466.7L647.0 1466.9L644.0 1467.1L641.1 1467.4L638.1 1467.6L635.1 1467.8L632.1 1468.0L629.1 1468.2L626.2 1468.4L623.2 1468.6L620.2 1468.8L617.2 1469.0L614.2 1469.2L611.3 1469.4L608.3 1469.6L605.3 1469.8L602.3 1470.0L599.3 1470.2L596.4 1470.3L593.4 1470.5L590.4 1470.7L587.4 1470.9L584.4 1471.0L581.5 1471.2L578.5 1471.4L575.5 1471.5L572.5 1471.7L569.5 1471.9L566.5 1472.0L563.6 1472.2L560.6 1472.4L557.6 1472.6L554.6 1472.7L551.6 1472.9L548.6 1473.1L545.7 1473.3L542.7 1473.4L539.7 1473.6L536.7 1473.8L533.7 1474.0L530.7 1474.2L527.7 1474.4L524.8 1474.6L521.8 1474.8L518.8 1475.0L515.8 1475.2L512.8 1475.4L509.8 1475.6L506.8 1475.8L503.8 1476.1L500.9 1476.3L497.9 1476.5L494.9 1476.8L491.9 1477.0L488.9 1477.3L485.9 1477.5L482.9 1477.8L479.9 1478.1L476.9 1478.3L473.9 1478.6L470.9 1478.9L467.9 1479.2L465.0 1479.5L462.0 1479.8L459.0 1480.1L456.0 1480.4L453.0 1480.7L450.0 1481.0L447.0 1481.3L444.0 1481.6L441.0 1481.9L438.0 1482.3L435.0 1482.6L432.0 1482.9L429.0 1483.2L426.0 1483.6L423.0 1483.9L420.0 1484.3L417.0 1484.6L414.0 1484.9L411.0 1485.3L408.1 1485.6L405.1 1486.0L402.1 1486.3L399.1 1486.7L396.1 1487.1L393.1 1487.4L390.1 1487.8L387.1 1488.1L384.1 1488.5L381.1 1488.9L378.1 1489.2L375.1 1489.6L372.1 1489.9L369.1 1490.3L366.1 1490.7L363.1 1491.0L360.1 1491.4L357.1 1491.8L354.1 1492.1L351.2 1492.5L348.2 1492.9L345.2 1493.2L342.2 1493.6L339.2 1494.0L336.2 1494.3L333.2 1494.7L330.2 1495.0L327.2 1495.4L324.2 1495.7L321.2 1496.1L318.2 1496.5L315.3 1496.8L312.3 1497.2L309.3 1497.5L306.3 1497.8L303.3 1498.2L300.3 1498.5L297.3 1498.9L294.3 1499.2L291.4 1499.5L288.4 1499.9L285.4 1500.2L282.4 1500.5L279.4 1500.8L276.4 1501.2L273.5 1501.5L270.5 1501.8L267.5 1502.1L264.5 1502.4L261.5 1502.7L258.6 1503.0L255.6 1503.3L252.6 1503.6L249.6 1503.9L246.7 1504.1L243.7 1504.4L240.7 1504.7Z" fill="none" stroke="#1a1a1a" stroke-width="3.3" stroke-linejoin="round" stroke-linecap="butt"/>
<path d="M240.8 1580.7L240.8 1577.7L240.9 1574.7L241.0 1571.7L241.1 1568.7L241.3 1565.7L241.5 1562.6L241.8 1559.6L242.1 1556.6L242.4 1553.6L242.8 1550.5L243.2 1547.5L243.6 1544.5L244.1 1541.4L244.6 1538.4L245.1 1535.4L245.7 1532.4L246.4 1529.4L247.0 1526.4L247.7 1523.4L248.5 1520.4L249.2 1517.4L250.0 1514.5L250.9 1511.5L251.8 1508.6L252.7 1505.6L253.7 1502.7L254.7 1499.8L255.7 1497.0L256.8 1494.1L257.9 1491.3L259.0 1488.4L260.2 1485.6L261.5 1482.9L262.7 1480.1L264.0 1477.4L265.4 1474.7L266.7 1472.0L268.2 1469.3L269.6 1466.7L271.1 1464.1L272.6 1461.5L274.2 1459.0L275.8 1456.5L277.4 1454.0L279.1 1451.6L280.8 1449.2L282.6 1446.8L284.4 1444.4L286.2 1442.1L288.1 1439.9L290.0 1437.6L291.9 1435.4L293.9 1433.3L295.9 1431.1L297.9 1429.0L300.0 1427.0L302.1 1424.9L304.2 1422.9L306.4 1420.9L308.6 1419.0L310.8 1417.1L313.1 1415.2L315.3 1413.3L317.6 1411.5L320.0 1409.7L322.3 1407.9L324.7 1406.2L327.1 1404.4L329.5 1402.8L332.0 1401.1L334.5 1399.4L336.9 1397.8L339.5 1396.2L342.0 1394.6L344.5 1393.1L347.1 1391.6L349.7 1390.1L352.3 1388.6L354.9 1387.1L357.6 1385.7L360.2 1384.3L362.9 1382.9L365.6 1381.5L368.3 1380.1L371.0 1378.8L373.7 1377.5L376.4 1376.2L379.2 1374.9L381.9 1373.6L384.7 1372.4L387.4 1371.1L390.2 1369.9L393.0 1368.7L395.8 1367.5L398.6 1366.4L401.4 1365.2L404.2 1364.1L407.0 1362.9L409.8 1361.8L412.6 1360.7L415.4 1359.6L418.3 1358.6L421.1 1357.5L423.9 1356.4L426.8 1355.4L429.6 1354.4L432.4 1353.4L435.3 1352.4L438.1 1351.4L441.0 1350.4L443.8 1349.4L446.7 1348.5L449.5 1347.5L452.4 1346.6L455.3 1345.7L458.1 1344.8L461.0 1343.9L463.9 1343.0L466.7 1342.1L469.6 1341.2L472.5 1340.4L475.4 1339.5L478.3 1338.7L481.1 1337.8L484.0 1337.0L486.9 1336.2L489.8 1335.4L492.7 1334.6L495.6 1333.8L498.5 1333.0L501.4 1332.3L504.3 1331.5L507.2 1330.8L510.1 1330.0L513.1 1329.3L516.0 1328.6L518.9 1327.8L521.8 1327.1L524.7 1326.4L527.6 1325.7L530.6 1325.0L533.5 1324.4L536.4 1323.7L539.3 1323.0L542.3 1322.4L545.2 1321.7L548.1 1321.1L551.1 1320.4L554.0 1319.8L557.0 1319.1L559.9 1318.5L562.8 1317.9L565.8 1317.3L568.7 1316.7L571.7 1316.1L574.6 1315.5L577.6 1314.9L580.5 1314.3L583.5 1313.7L586.4 1313.1L589.4 1312.5L592.3 1312.0L595.3 1311.4L598.2 1310.8L601.2 1310.3L604.2 1309.7L607.1 1309.2L610.1 1308.6L613.0 1308.1L616.0 1307.5L619.0 1307.0L621.9 1306.4L624.9 1305.9L627.8 1305.4L630.8 1304.8L633.8 1304.3L636.7 1303.8L639.7 1303.3L642.7 1302.7L645.6 1302.2L648.6 1301.7L651.6 1301.2L654.5 1300.6L657.5 1300.1L660.5 1299.6L663.4 1299.1L666.4 1298.6L669.4 1298.1L672.3 1297.5L675.3 1297.0L678.3 1296.5L681.2 1296.0L684.2 1295.5L687.2 1295.0L690.1 1294.4L693.1 1293.9L696.1 1293.4L699.0 1292.9L702.0 1292.4L705.0 1291.8L707.9 1291.3L710.9 1290.8L713.9 1290.2L716.8 1289.7L719.8 1289.2L722.8 1288.6L725.7 1288.1L728.7 1287.6L731.6 1287.0L734.6 1286.5L737.6 1285.9L740.5 1285.4L743.5 1284.8L746.4 1284.2L749.4 1283.7L752.3 1283.1L755.3 1282.5L758.2 1282.0L761.2 1281.4L764.1 1280.8L767.1 1280.2L770.0 1279.6L773.0 1279.0L775.9 1278.4L778.9 1277.8L781.8 1277.2L784.8 1276.6L787.7 1276.0L790.6 1275.3L793.6 1274.7L796.5 1274.1L799.4 1273.4L802.4 1272.8L805.3 1272.1L808.2 1271.4L811.1 1270.8L814.1 1270.1L817.0 1269.4L819.9 1268.7L822.8 1268.0L825.7 1267.3L828.7 1266.6L831.6 1265.8L834.5 1265.1L837.4 1264.4L840.3 1263.6L843.2 1262.9L846.1 1262.1L849.0 1261.3L851.9 1260.5L854.8 1259.7L857.7 1258.9L860.6 1258.1L863.5 1257.3L866.3 1256.5L869.2 1255.7L872.1 1254.8L875.0 1253.9L877.8 1253.1L880.7 1252.2L883.6 1251.3L886.5 1250.4L889.3 1249.5L892.2 1248.6L895.0 1247.7L897.9 1246.7L900.7 1245.8L903.6 1244.8L906.4 1243.8L909.3 1242.8L912.1 1241.8L914.9 1240.8L917.8 1239.8L920.6 1238.8L923.4 1237.7L926.3 1236.6L929.1 1235.6L931.9 1234.5L934.7 1233.4L937.5 1232.3L940.3 1231.2L943.1 1230.0L945.9 1228.9L948.7 1227.7L951.5 1226.5L954.3 1225.3L957.1 1224.1L959.8 1222.9L962.6 1221.7L965.4 1220.4L968.2 1219.1L968.1 1222.3L968.0 1225.4L967.8 1228.5L967.6 1231.5L967.3 1234.6L967.1 1237.7L966.8 1240.7L966.4 1243.8L966.0 1246.8L965.6 1249.8L965.2 1252.8L964.7 1255.8L964.1 1258.8L963.6 1261.8L963.0 1264.8L962.3 1267.7L961.7 1270.7L961.0 1273.6L960.3 1276.6L959.5 1279.5L958.7 1282.4L957.9 1285.3L957.0 1288.2L956.1 1291.0L955.2 1293.9L954.2 1296.7L953.2 1299.6L952.2 1302.4L951.2 1305.2L950.1 1308.0L949.0 1310.8L947.8 1313.6L946.7 1316.3L945.5 1319.1L944.2 1321.8L943.0 1324.5L941.7 1327.2L940.4 1329.9L939.0 1332.6L937.7 1335.2L936.3 1337.9L934.8 1340.5L933.4 1343.1L931.9 1345.7L930.4 1348.3L928.9 1350.8L927.3 1353.4L925.7 1355.9L924.1 1358.4L922.5 1360.9L920.8 1363.4L919.1 1365.9L917.4 1368.3L915.7 1370.8L913.9 1373.2L912.2 1375.6L910.4 1377.9L908.5 1380.3L906.7 1382.6L904.8 1385.0L902.9 1387.3L901.0 1389.6L899.1 1391.8L897.1 1394.1L895.1 1396.3L893.1 1398.5L891.1 1400.7L889.1 1402.9L887.0 1405.0L884.9 1407.2L882.8 1409.3L880.7 1411.4L878.5 1413.4L876.4 1415.5L874.2 1417.5L872.0 1419.5L869.8 1421.5L867.6 1423.4L865.3 1425.4L863.0 1427.3L860.7 1429.2L858.4 1431.1L856.1 1432.9L853.8 1434.8L851.4 1436.6L849.1 1438.3L846.7 1440.1L844.3 1441.8L841.9 1443.6L839.5 1445.2L837.0 1446.9L834.6 1448.5L832.1 1450.2L829.6 1451.8L827.1 1453.3L824.6 1454.9L822.1 1456.4L819.5 1457.9L817.0 1459.4L814.4 1460.8L811.9 1462.3L809.3 1463.7L806.7 1465.1L804.1 1466.5L801.4 1467.8L798.8 1469.1L796.2 1470.4L793.5 1471.7L790.8 1473.0L788.2 1474.3L785.5 1475.5L782.8 1476.7L780.0 1477.9L777.3 1479.1L774.6 1480.2L771.9 1481.3L769.1 1482.5L766.3 1483.6L763.6 1484.6L760.8 1485.7L758.0 1486.8L755.2 1487.8L752.4 1488.8L749.6 1489.8L746.8 1490.8L743.9 1491.7L741.1 1492.7L738.2 1493.6L735.4 1494.5L732.5 1495.5L729.7 1496.3L726.8 1497.2L723.9 1498.1L721.0 1498.9L718.1 1499.8L715.2 1500.6L712.3 1501.4L709.4 1502.2L706.5 1502.9L703.5 1503.7L700.6 1504.5L697.7 1505.2L694.7 1505.9L691.8 1506.7L688.8 1507.4L685.9 1508.1L682.9 1508.7L680.0 1509.4L677.0 1510.1L674.0 1510.7L671.0 1511.4L668.1 1512.0L665.1 1512.6L662.1 1513.2L659.1 1513.9L656.1 1514.4L653.1 1515.0L650.1 1515.6L647.1 1516.2L644.1 1516.8L641.1 1517.3L638.1 1517.9L635.1 1518.4L632.1 1518.9L629.1 1519.5L626.1 1520.0L623.0 1520.5L620.0 1521.0L617.0 1521.5L614.0 1522.0L611.0 1522.5L608.0 1523.0L605.0 1523.5L602.0 1523.9L598.9 1524.4L595.9 1524.9L592.9 1525.3L589.9 1525.8L586.9 1526.3L583.9 1526.7L580.9 1527.2L577.9 1527.6L574.9 1528.1L571.9 1528.5L568.9 1528.9L565.9 1529.4L562.9 1529.8L559.9 1530.3L556.9 1530.7L553.9 1531.1L550.9 1531.6L547.9 1532.0L544.9 1532.4L542.0 1532.8L539.0 1533.2L536.0 1533.7L533.0 1534.1L530.0 1534.5L527.1 1534.9L524.1 1535.3L521.1 1535.7L518.1 1536.2L515.2 1536.6L512.2 1537.0L509.2 1537.4L506.2 1537.8L503.3 1538.2L500.3 1538.6L497.3 1539.0L494.4 1539.4L491.4 1539.8L488.5 1540.2L485.5 1540.6L482.5 1541.0L479.6 1541.5L476.6 1541.9L473.7 1542.3L470.7 1542.7L467.8 1543.1L464.8 1543.5L461.8 1543.9L458.9 1544.3L455.9 1544.7L453.0 1545.1L450.0 1545.5L447.1 1545.9L444.1 1546.3L441.2 1546.7L438.2 1547.1L435.3 1547.6L432.4 1548.0L429.4 1548.4L426.5 1548.8L423.5 1549.2L420.6 1549.6L417.6 1550.0L414.7 1550.5L411.7 1550.9L408.8 1551.3L405.8 1551.7L402.9 1552.2L400.0 1552.6L397.0 1553.0L394.1 1553.5L391.1 1553.9L388.2 1554.3L385.3 1554.8L382.3 1555.2L379.4 1555.7L376.4 1556.1L373.5 1556.6L370.5 1557.0L367.6 1557.5L364.7 1557.9L361.7 1558.4L358.8 1558.8L355.8 1559.3L352.9 1559.8L350.0 1560.3L347.0 1560.7L344.1 1561.2L341.1 1561.7L338.2 1562.2L335.2 1562.7L332.3 1563.2L329.3 1563.7L326.4 1564.2L323.5 1564.7L320.5 1565.2L317.6 1565.7L314.6 1566.2L311.7 1566.7L308.7 1567.3L305.8 1567.8L302.8 1568.3L299.9 1568.9L296.9 1569.4L294.0 1570.0L291.0 1570.5L288.1 1571.1L285.1 1571.6L282.2 1572.2L279.2 1572.8L276.3 1573.3L273.3 1573.9L270.3 1574.5L267.4 1575.1L264.4 1575.7L261.5 1576.3L258.5 1576.9L255.5 1577.5L252.6 1578.2L249.6 1578.8L246.6 1579.4L243.7 1580.1L240.7 1580.7Z" fill="none" stroke="#ee2222" stroke-width="3.3" stroke-linejoin="round" stroke-linecap="butt"/>
<path d="M241.1 1637.7L241.7 1634.8L242.3 1632.0L242.9 1629.1L243.6 1626.2L244.2 1623.3L244.8 1620.4L245.4 1617.5L246.1 1614.5L246.7 1611.6L247.3 1608.7L247.9 1605.8L248.6 1602.8L249.2 1599.9L249.9 1597.0L250.5 1594.0L251.2 1591.1L251.9 1588.1L252.5 1585.2L253.2 1582.2L253.9 1579.3L254.6 1576.3L255.3 1573.4L256.0 1570.5L256.7 1567.5L257.5 1564.6L258.2 1561.6L259.0 1558.7L259.7 1555.7L260.5 1552.8L261.3 1549.9L262.1 1546.9L262.9 1544.0L263.7 1541.1L264.6 1538.2L265.4 1535.3L266.3 1532.4L267.2 1529.5L268.1 1526.6L269.0 1523.7L270.0 1520.8L270.9 1517.9L271.9 1515.1L272.9 1512.2L273.9 1509.4L274.9 1506.5L275.9 1503.7L277.0 1500.9L278.1 1498.0L279.2 1495.2L280.3 1492.5L281.5 1489.7L282.7 1486.9L283.9 1484.1L285.1 1481.4L286.3 1478.7L287.6 1476.0L288.9 1473.2L290.2 1470.5L291.5 1467.9L292.9 1465.2L294.3 1462.5L295.7 1459.9L297.1 1457.3L298.6 1454.7L300.0 1452.1L301.5 1449.5L303.1 1446.9L304.6 1444.4L306.2 1441.8L307.8 1439.3L309.4 1436.8L311.0 1434.3L312.6 1431.8L314.3 1429.3L316.0 1426.9L317.7 1424.4L319.4 1422.0L321.2 1419.6L323.0 1417.2L324.8 1414.9L326.6 1412.5L328.4 1410.2L330.3 1407.8L332.1 1405.5L334.0 1403.2L335.9 1401.0L337.9 1398.7L339.8 1396.5L341.8 1394.3L343.8 1392.1L345.8 1389.9L347.8 1387.7L349.9 1385.6L351.9 1383.4L354.0 1381.3L356.1 1379.2L358.2 1377.2L360.4 1375.1L362.5 1373.1L364.7 1371.0L366.9 1369.0L369.1 1367.1L371.3 1365.1L373.5 1363.2L375.8 1361.2L378.1 1359.3L380.3 1357.5L382.6 1355.6L385.0 1353.8L387.3 1351.9L389.6 1350.1L392.0 1348.4L394.4 1346.6L396.8 1344.9L399.2 1343.1L401.6 1341.4L404.1 1339.7L406.5 1338.1L409.0 1336.4L411.5 1334.8L414.0 1333.2L416.5 1331.6L419.0 1330.0L421.5 1328.4L424.1 1326.9L426.6 1325.4L429.2 1323.9L431.8 1322.4L434.4 1320.9L437.0 1319.4L439.6 1318.0L442.2 1316.6L444.9 1315.2L447.5 1313.8L450.2 1312.4L452.9 1311.0L455.5 1309.7L458.2 1308.3L460.9 1307.0L463.6 1305.7L466.4 1304.4L469.1 1303.1L471.8 1301.9L474.6 1300.6L477.3 1299.4L480.1 1298.2L482.9 1296.9L485.7 1295.7L488.4 1294.6L491.2 1293.4L494.0 1292.2L496.8 1291.1L499.7 1290.0L502.5 1288.8L505.3 1287.7L508.2 1286.6L511.0 1285.5L513.8 1284.5L516.7 1283.4L519.5 1282.3L522.4 1281.3L525.3 1280.3L528.1 1279.2L531.0 1278.2L533.9 1277.2L536.8 1276.2L539.7 1275.2L542.6 1274.3L545.5 1273.3L548.4 1272.3L551.3 1271.4L554.2 1270.4L557.1 1269.5L560.0 1268.6L562.9 1267.7L565.8 1266.8L568.7 1265.9L571.6 1265.0L574.6 1264.1L577.5 1263.2L580.4 1262.3L583.3 1261.5L586.2 1260.6L589.2 1259.8L592.1 1258.9L595.0 1258.1L597.9 1257.3L600.8 1256.4L603.8 1255.6L606.7 1254.8L609.6 1254.0L612.5 1253.2L615.4 1252.4L618.4 1251.6L621.3 1250.8L624.2 1250.0L627.1 1249.2L630.0 1248.5L632.9 1247.7L635.8 1246.9L638.8 1246.2L641.7 1245.4L644.6 1244.7L647.5 1243.9L650.4 1243.2L653.3 1242.5L656.2 1241.7L659.1 1241.0L662.0 1240.3L664.9 1239.6L667.9 1238.9L670.8 1238.2L673.7 1237.5L676.6 1236.8L679.5 1236.1L682.4 1235.4L685.3 1234.7L688.2 1234.1L691.1 1233.4L694.0 1232.7L696.9 1232.1L699.9 1231.4L702.8 1230.8L705.7 1230.1L708.6 1229.5L711.5 1228.8L714.4 1228.2L717.3 1227.6L720.2 1227.0L723.1 1226.3L726.0 1225.7L729.0 1225.1L731.9 1224.5L734.8 1223.9L737.7 1223.3L740.6 1222.7L743.5 1222.1L746.4 1221.6L749.3 1221.0L752.3 1220.4L755.2 1219.8L758.1 1219.3L761.0 1218.7L763.9 1218.1L766.9 1217.6L769.8 1217.0L772.7 1216.5L775.6 1215.9L778.5 1215.4L781.5 1214.9L784.4 1214.3L787.3 1213.8L790.2 1213.3L793.2 1212.7L796.1 1212.2L799.0 1211.7L802.0 1211.2L804.9 1210.7L807.8 1210.2L810.8 1209.7L813.7 1209.2L816.6 1208.7L819.6 1208.2L822.5 1207.7L825.4 1207.2L828.4 1206.8L831.3 1206.3L834.3 1205.8L837.2 1205.4L840.2 1204.9L843.1 1204.4L846.1 1204.0L849.0 1203.5L852.0 1203.1L854.9 1202.6L857.9 1202.2L860.8 1201.7L863.8 1201.3L866.8 1200.8L869.7 1200.4L872.7 1200.0L875.6 1199.6L878.6 1199.1L881.6 1198.7L884.6 1198.3L887.5 1197.9L890.5 1197.5L893.5 1197.1L896.5 1196.6L899.4 1196.2L902.4 1195.8L905.4 1195.4L908.4 1195.0L911.4 1194.6L914.4 1194.3L917.4 1193.9L920.4 1193.5L923.4 1193.1L926.4 1192.7L929.4 1192.3L932.4 1192.0L935.4 1191.6L938.4 1191.2L941.4 1190.8L944.4 1190.5L947.4 1190.1L950.5 1189.8L953.5 1189.4L956.5 1189.0L959.5 1188.7L962.6 1188.3L965.6 1188.0L968.6 1187.6L967.4 1190.3L966.4 1193.1L965.4 1195.9L964.4 1198.6L963.4 1201.4L962.4 1204.2L961.4 1207.0L960.4 1209.8L959.4 1212.6L958.5 1215.4L957.5 1218.2L956.5 1221.0L955.6 1223.8L954.6 1226.6L953.6 1229.5L952.7 1232.3L951.7 1235.1L950.8 1238.0L949.8 1240.8L948.9 1243.6L947.9 1246.5L946.9 1249.3L946.0 1252.1L945.0 1255.0L944.0 1257.8L943.0 1260.7L942.1 1263.5L941.1 1266.4L940.1 1269.2L939.1 1272.0L938.1 1274.9L937.1 1277.7L936.1 1280.6L935.0 1283.4L934.0 1286.3L932.9 1289.1L931.9 1291.9L930.8 1294.8L929.8 1297.6L928.7 1300.4L927.6 1303.2L926.5 1306.1L925.4 1308.9L924.3 1311.7L923.1 1314.5L922.0 1317.3L920.8 1320.1L919.6 1322.9L918.5 1325.7L917.3 1328.5L916.1 1331.3L914.9 1334.0L913.6 1336.8L912.4 1339.6L911.2 1342.3L909.9 1345.1L908.6 1347.8L907.3 1350.6L906.0 1353.3L904.7 1356.0L903.4 1358.7L902.0 1361.4L900.7 1364.1L899.3 1366.8L897.9 1369.5L896.5 1372.2L895.1 1374.8L893.7 1377.5L892.3 1380.1L890.8 1382.8L889.3 1385.4L887.9 1388.0L886.4 1390.6L884.8 1393.2L883.3 1395.8L881.8 1398.3L880.2 1400.9L878.6 1403.5L877.0 1406.0L875.4 1408.5L873.8 1411.0L872.1 1413.5L870.5 1416.0L868.8 1418.5L867.1 1420.9L865.4 1423.4L863.6 1425.8L861.9 1428.2L860.1 1430.6L858.3 1433.0L856.5 1435.4L854.7 1437.7L852.9 1440.1L851.0 1442.4L849.1 1444.7L847.2 1447.0L845.3 1449.3L843.4 1451.6L841.4 1453.8L839.4 1456.0L837.4 1458.2L835.4 1460.4L833.4 1462.6L831.3 1464.8L829.2 1466.9L827.2 1469.1L825.0 1471.2L822.9 1473.3L820.8 1475.3L818.6 1477.4L816.4 1479.4L814.2 1481.5L812.0 1483.5L809.8 1485.5L807.6 1487.4L805.3 1489.4L803.0 1491.3L800.7 1493.2L798.4 1495.1L796.1 1497.0L793.8 1498.9L791.4 1500.7L789.0 1502.5L786.7 1504.3L784.3 1506.1L781.9 1507.9L779.4 1509.6L777.0 1511.4L774.5 1513.1L772.1 1514.8L769.6 1516.4L767.1 1518.1L764.6 1519.7L762.1 1521.4L759.5 1522.9L757.0 1524.5L754.4 1526.1L751.9 1527.6L749.3 1529.1L746.7 1530.6L744.1 1532.1L741.5 1533.6L738.8 1535.0L736.2 1536.4L733.6 1537.8L730.9 1539.2L728.2 1540.6L725.5 1541.9L722.9 1543.2L720.2 1544.5L717.4 1545.8L714.7 1547.0L712.0 1548.3L709.3 1549.5L706.5 1550.7L703.8 1551.8L701.0 1553.0L698.2 1554.1L695.4 1555.2L692.7 1556.3L689.9 1557.4L687.1 1558.5L684.2 1559.5L681.4 1560.5L678.6 1561.5L675.8 1562.5L672.9 1563.5L670.1 1564.4L667.2 1565.4L664.4 1566.3L661.5 1567.2L658.6 1568.1L655.8 1569.0L652.9 1569.8L650.0 1570.7L647.1 1571.5L644.2 1572.3L641.3 1573.1L638.4 1573.9L635.5 1574.7L632.6 1575.5L629.6 1576.2L626.7 1577.0L623.8 1577.7L620.8 1578.5L617.9 1579.2L615.0 1579.9L612.0 1580.6L609.1 1581.3L606.1 1582.0L603.2 1582.6L600.2 1583.3L597.3 1584.0L594.3 1584.6L591.4 1585.3L588.4 1585.9L585.4 1586.5L582.5 1587.2L579.5 1587.8L576.6 1588.4L573.6 1589.0L570.6 1589.6L567.7 1590.2L564.7 1590.8L561.7 1591.4L558.8 1592.0L555.8 1592.6L552.8 1593.2L549.9 1593.8L546.9 1594.4L543.9 1594.9L541.0 1595.5L538.0 1596.1L535.0 1596.7L532.1 1597.2L529.1 1597.8L526.2 1598.4L523.2 1599.0L520.2 1599.5L517.3 1600.1L514.3 1600.6L511.4 1601.2L508.4 1601.7L505.4 1602.3L502.5 1602.8L499.5 1603.4L496.6 1603.9L493.6 1604.5L490.7 1605.0L487.7 1605.5L484.7 1606.1L481.8 1606.6L478.8 1607.1L475.9 1607.7L472.9 1608.2L470.0 1608.7L467.0 1609.2L464.0 1609.7L461.1 1610.2L458.1 1610.7L455.2 1611.2L452.2 1611.7L449.3 1612.2L446.3 1612.7L443.4 1613.2L440.4 1613.7L437.4 1614.2L434.5 1614.7L431.5 1615.2L428.6 1615.6L425.6 1616.1L422.7 1616.6L419.7 1617.0L416.7 1617.5L413.8 1618.0L410.8 1618.4L407.9 1618.9L404.9 1619.3L401.9 1619.8L399.0 1620.2L396.0 1620.6L393.1 1621.1L390.1 1621.5L387.1 1621.9L384.2 1622.3L381.2 1622.8L378.2 1623.2L375.3 1623.6L372.3 1624.0L369.4 1624.4L366.4 1624.8L363.4 1625.2L360.5 1625.6L357.5 1626.0L354.5 1626.4L351.5 1626.7L348.6 1627.1L345.6 1627.5L342.6 1627.8L339.7 1628.2L336.7 1628.6L333.7 1628.9L330.7 1629.3L327.8 1629.6L324.8 1630.0L321.8 1630.3L318.8 1630.6L315.8 1631.0L312.9 1631.3L309.9 1631.6L306.9 1631.9L303.9 1632.2L300.9 1632.6L298.0 1632.9L295.0 1633.2L292.0 1633.5L289.0 1633.7L286.0 1634.0L283.0 1634.3L280.0 1634.6L277.0 1634.9L274.0 1635.1L271.0 1635.4L268.0 1635.6L265.0 1635.9L262.0 1636.1L259.0 1636.4L256.0 1636.6L253.0 1636.8L250.0 1637.1L247.0 1637.3L244.0 1637.5L241.0 1637.7Z" fill="none" stroke="#1515ee" stroke-width="3.3" stroke-linejoin="round" stroke-linecap="butt"/>
<path d="M241.2 1656.0L242.4 1653.3L243.5 1650.6L244.5 1647.8L245.6 1645.1L246.7 1642.3L247.7 1639.6L248.8 1636.8L249.8 1634.0L250.8 1631.2L251.8 1628.4L252.7 1625.6L253.7 1622.8L254.7 1620.0L255.6 1617.2L256.5 1614.3L257.5 1611.5L258.4 1608.7L259.3 1605.8L260.2 1603.0L261.1 1600.1L262.0 1597.3L262.9 1594.4L263.8 1591.5L264.7 1588.7L265.5 1585.8L266.4 1582.9L267.3 1580.0L268.2 1577.2L269.0 1574.3L269.9 1571.4L270.8 1568.5L271.6 1565.6L272.5 1562.7L273.4 1559.8L274.3 1556.9L275.1 1554.1L276.0 1551.2L276.9 1548.3L277.8 1545.4L278.7 1542.5L279.6 1539.6L280.5 1536.7L281.4 1533.8L282.4 1530.9L283.3 1528.1L284.3 1525.2L285.2 1522.3L286.2 1519.4L287.2 1516.5L288.1 1513.7L289.1 1510.8L290.1 1507.9L291.2 1505.1L292.2 1502.2L293.2 1499.4L294.3 1496.5L295.4 1493.7L296.4 1490.8L297.5 1488.0L298.6 1485.2L299.7 1482.4L300.9 1479.5L302.0 1476.7L303.2 1473.9L304.3 1471.1L305.5 1468.3L306.7 1465.6L307.9 1462.8L309.1 1460.0L310.3 1457.3L311.6 1454.5L312.9 1451.8L314.1 1449.0L315.4 1446.3L316.7 1443.6L318.0 1440.9L319.4 1438.2L320.7 1435.5L322.1 1432.8L323.5 1430.1L324.9 1427.5L326.3 1424.8L327.7 1422.2L329.1 1419.5L330.6 1416.9L332.1 1414.3L333.6 1411.7L335.1 1409.1L336.6 1406.6L338.1 1404.0L339.7 1401.5L341.3 1398.9L342.9 1396.4L344.5 1393.9L346.1 1391.4L347.8 1388.9L349.4 1386.5L351.1 1384.0L352.8 1381.6L354.5 1379.2L356.3 1376.8L358.0 1374.4L359.8 1372.0L361.6 1369.6L363.4 1367.3L365.3 1365.0L367.1 1362.6L369.0 1360.4L370.9 1358.1L372.8 1355.8L374.8 1353.6L376.7 1351.3L378.7 1349.1L380.7 1346.9L382.7 1344.8L384.8 1342.6L386.8 1340.5L388.9 1338.3L391.0 1336.2L393.1 1334.1L395.2 1332.0L397.4 1330.0L399.5 1327.9L401.7 1325.9L403.9 1323.9L406.1 1321.9L408.4 1319.9L410.6 1318.0L412.9 1316.1L415.2 1314.1L417.5 1312.2L419.8 1310.3L422.1 1308.5L424.5 1306.6L426.8 1304.8L429.2 1302.9L431.6 1301.1L434.0 1299.3L436.4 1297.6L438.8 1295.8L441.3 1294.1L443.7 1292.3L446.2 1290.6L448.7 1288.9L451.2 1287.3L453.7 1285.6L456.2 1284.0L458.8 1282.3L461.3 1280.7L463.9 1279.1L466.4 1277.5L469.0 1276.0L471.6 1274.4L474.2 1272.9L476.8 1271.4L479.5 1269.9L482.1 1268.4L484.7 1267.0L487.4 1265.5L490.1 1264.1L492.7 1262.7L495.4 1261.3L498.1 1259.9L500.8 1258.5L503.5 1257.2L506.3 1255.8L509.0 1254.5L511.7 1253.2L514.5 1251.9L517.2 1250.7L520.0 1249.4L522.7 1248.2L525.5 1246.9L528.3 1245.7L531.1 1244.5L533.9 1243.4L536.7 1242.2L539.5 1241.1L542.3 1239.9L545.1 1238.8L547.9 1237.7L550.7 1236.7L553.6 1235.6L556.4 1234.5L559.2 1233.5L562.1 1232.5L564.9 1231.5L567.8 1230.5L570.6 1229.5L573.5 1228.6L576.3 1227.6L579.2 1226.7L582.1 1225.8L584.9 1224.9L587.8 1224.0L590.7 1223.2L593.5 1222.3L596.4 1221.5L599.3 1220.6L602.2 1219.8L605.1 1219.0L608.0 1218.3L610.9 1217.5L613.8 1216.7L616.7 1216.0L619.6 1215.2L622.5 1214.5L625.4 1213.8L628.3 1213.1L631.3 1212.4L634.2 1211.8L637.1 1211.1L640.0 1210.5L643.0 1209.8L645.9 1209.2L648.8 1208.6L651.8 1208.0L654.7 1207.4L657.7 1206.8L660.6 1206.2L663.6 1205.7L666.5 1205.1L669.5 1204.6L672.4 1204.0L675.4 1203.5L678.3 1203.0L681.3 1202.5L684.2 1202.0L687.2 1201.5L690.2 1201.0L693.1 1200.6L696.1 1200.1L699.1 1199.7L702.1 1199.2L705.0 1198.8L708.0 1198.3L711.0 1197.9L714.0 1197.5L716.9 1197.1L719.9 1196.7L722.9 1196.3L725.9 1195.9L728.9 1195.6L731.9 1195.2L734.9 1194.8L737.9 1194.5L740.8 1194.1L743.8 1193.8L746.8 1193.4L749.8 1193.1L752.8 1192.8L755.8 1192.4L758.8 1192.1L761.8 1191.8L764.8 1191.5L767.8 1191.2L770.8 1190.9L773.8 1190.6L776.8 1190.3L779.8 1190.0L782.8 1189.7L785.8 1189.5L788.8 1189.2L791.9 1188.9L794.9 1188.6L797.9 1188.4L800.9 1188.1L803.9 1187.9L806.9 1187.6L809.9 1187.3L812.9 1187.1L815.9 1186.8L818.9 1186.6L821.9 1186.3L824.9 1186.1L828.0 1185.9L831.0 1185.6L834.0 1185.4L837.0 1185.1L840.0 1184.9L843.0 1184.6L846.0 1184.4L849.0 1184.2L852.0 1183.9L855.0 1183.7L858.0 1183.5L861.0 1183.2L864.0 1183.0L867.0 1182.7L870.1 1182.5L873.1 1182.3L876.1 1182.0L879.1 1181.8L882.1 1181.5L885.1 1181.3L888.1 1181.0L891.1 1180.8L894.1 1180.5L897.1 1180.3L900.1 1180.0L903.0 1179.7L906.0 1179.5L909.0 1179.2L912.0 1178.9L915.0 1178.7L918.0 1178.4L921.0 1178.1L924.0 1177.8L927.0 1177.6L929.9 1177.3L932.9 1177.0L935.9 1176.7L938.9 1176.4L941.9 1176.1L944.8 1175.7L947.8 1175.4L950.8 1175.1L953.8 1174.8L956.7 1174.4L959.7 1174.1L962.7 1173.8L965.6 1173.4L968.6 1173.0L967.0 1175.7L965.6 1178.3L964.2 1180.9L962.8 1183.6L961.4 1186.2L960.1 1188.9L958.7 1191.6L957.4 1194.3L956.1 1197.0L954.9 1199.7L953.6 1202.4L952.4 1205.1L951.2 1207.8L950.0 1210.5L948.8 1213.3L947.6 1216.0L946.4 1218.8L945.3 1221.5L944.2 1224.3L943.0 1227.1L941.9 1229.9L940.8 1232.6L939.7 1235.4L938.7 1238.2L937.6 1241.0L936.5 1243.8L935.5 1246.6L934.4 1249.4L933.4 1252.2L932.3 1255.0L931.3 1257.8L930.2 1260.6L929.2 1263.5L928.2 1266.3L927.2 1269.1L926.1 1271.9L925.1 1274.7L924.1 1277.6L923.1 1280.4L922.0 1283.2L921.0 1286.0L920.0 1288.8L918.9 1291.7L917.9 1294.5L916.9 1297.3L915.8 1300.1L914.8 1302.9L913.7 1305.7L912.6 1308.6L911.6 1311.4L910.5 1314.2L909.4 1317.0L908.3 1319.8L907.2 1322.6L906.1 1325.4L905.0 1328.2L903.9 1330.9L902.8 1333.7L901.6 1336.5L900.5 1339.3L899.3 1342.1L898.2 1344.8L897.0 1347.6L895.8 1350.4L894.6 1353.1L893.4 1355.9L892.2 1358.6L891.0 1361.4L889.8 1364.1L888.6 1366.9L887.3 1369.6L886.1 1372.3L884.8 1375.0L883.5 1377.7L882.2 1380.4L880.9 1383.1L879.6 1385.8L878.3 1388.5L877.0 1391.2L875.6 1393.9L874.3 1396.6L872.9 1399.2L871.5 1401.9L870.1 1404.5L868.7 1407.2L867.3 1409.8L865.8 1412.4L864.4 1415.1L862.9 1417.7L861.4 1420.3L860.0 1422.9L858.4 1425.5L856.9 1428.1L855.4 1430.6L853.8 1433.2L852.3 1435.7L850.7 1438.3L849.1 1440.8L847.5 1443.4L845.9 1445.9L844.2 1448.4L842.6 1450.9L840.9 1453.4L839.2 1455.9L837.5 1458.3L835.8 1460.8L834.0 1463.2L832.2 1465.7L830.5 1468.1L828.7 1470.5L826.9 1472.9L825.0 1475.3L823.2 1477.7L821.3 1480.1L819.4 1482.4L817.6 1484.8L815.6 1487.1L813.7 1489.4L811.8 1491.7L809.8 1494.0L807.8 1496.3L805.8 1498.6L803.8 1500.8L801.8 1503.1L799.8 1505.3L797.7 1507.5L795.6 1509.7L793.5 1511.8L791.4 1514.0L789.3 1516.1L787.2 1518.2L785.0 1520.3L782.9 1522.4L780.7 1524.5L778.5 1526.5L776.3 1528.6L774.0 1530.6L771.8 1532.6L769.5 1534.5L767.3 1536.5L765.0 1538.4L762.7 1540.4L760.3 1542.2L758.0 1544.1L755.7 1546.0L753.3 1547.8L750.9 1549.6L748.5 1551.4L746.1 1553.2L743.7 1554.9L741.2 1556.6L738.8 1558.3L736.3 1560.0L733.8 1561.7L731.3 1563.3L728.8 1564.9L726.3 1566.5L723.8 1568.1L721.2 1569.6L718.7 1571.1L716.1 1572.7L713.5 1574.1L710.9 1575.6L708.3 1577.0L705.7 1578.5L703.0 1579.9L700.4 1581.2L697.7 1582.6L695.1 1583.9L692.4 1585.3L689.7 1586.6L687.0 1587.9L684.3 1589.1L681.6 1590.4L678.8 1591.6L676.1 1592.8L673.3 1594.0L670.6 1595.1L667.8 1596.3L665.1 1597.4L662.3 1598.5L659.5 1599.6L656.7 1600.7L653.9 1601.8L651.1 1602.8L648.2 1603.8L645.4 1604.9L642.6 1605.8L639.7 1606.8L636.9 1607.8L634.0 1608.7L631.2 1609.6L628.3 1610.6L625.4 1611.5L622.6 1612.3L619.7 1613.2L616.8 1614.0L613.9 1614.9L611.0 1615.7L608.1 1616.5L605.2 1617.3L602.3 1618.0L599.4 1618.8L596.4 1619.5L593.5 1620.3L590.6 1621.0L587.7 1621.7L584.7 1622.3L581.8 1623.0L578.9 1623.7L575.9 1624.3L573.0 1624.9L570.0 1625.6L567.1 1626.2L564.2 1626.7L561.2 1627.3L558.3 1627.9L555.3 1628.4L552.4 1629.0L549.4 1629.5L546.4 1630.0L543.5 1630.5L540.5 1631.0L537.6 1631.5L534.6 1632.0L531.6 1632.4L528.7 1632.9L525.7 1633.3L522.7 1633.8L519.7 1634.2L516.8 1634.6L513.8 1635.0L510.8 1635.4L507.8 1635.8L504.8 1636.1L501.9 1636.5L498.9 1636.9L495.9 1637.2L492.9 1637.5L489.9 1637.9L486.9 1638.2L483.9 1638.5L481.0 1638.8L478.0 1639.1L475.0 1639.4L472.0 1639.7L469.0 1640.0L466.0 1640.3L463.0 1640.5L460.0 1640.8L457.0 1641.0L454.0 1641.3L451.0 1641.5L448.0 1641.8L445.0 1642.0L442.0 1642.2L439.0 1642.5L436.0 1642.7L433.0 1642.9L430.0 1643.1L427.0 1643.3L424.0 1643.5L421.0 1643.7L418.0 1643.9L414.9 1644.1L411.9 1644.3L408.9 1644.5L405.9 1644.7L402.9 1644.8L399.9 1645.0L396.9 1645.2L393.9 1645.4L390.9 1645.5L387.9 1645.7L384.9 1645.9L381.9 1646.0L378.8 1646.2L375.8 1646.4L372.8 1646.5L369.8 1646.7L366.8 1646.9L363.8 1647.0L360.8 1647.2L357.8 1647.4L354.8 1647.5L351.8 1647.7L348.8 1647.9L345.8 1648.0L342.7 1648.2L339.7 1648.4L336.7 1648.5L333.7 1648.7L330.7 1648.9L327.7 1649.1L324.7 1649.3L321.7 1649.4L318.7 1649.6L315.7 1649.8L312.7 1650.0L309.7 1650.2L306.7 1650.4L303.7 1650.6L300.7 1650.8L297.7 1651.0L294.7 1651.2L291.7 1651.5L288.7 1651.7L285.7 1651.9L282.8 1652.1L279.8 1652.4L276.8 1652.6L273.8 1652.9L270.8 1653.1L267.8 1653.4L264.8 1653.7L261.9 1653.9L258.9 1654.2L255.9 1654.5L252.9 1654.8L249.9 1655.1L247.0 1655.4L244.0 1655.7L241.0 1656.0Z" fill="none" stroke="#ee22ee" stroke-width="3.3" stroke-linejoin="round" stroke-linecap="butt"/>
<path d="M241.1 1665.3L243.3 1663.2L245.4 1661.0L247.4 1658.8L249.3 1656.5L251.2 1654.1L253.0 1651.8L254.7 1649.4L256.3 1646.9L257.9 1644.4L259.4 1641.9L260.8 1639.3L262.2 1636.7L263.5 1634.1L264.7 1631.4L266.0 1628.7L267.1 1626.0L268.2 1623.3L269.3 1620.5L270.3 1617.7L271.4 1614.9L272.3 1612.1L273.3 1609.3L274.2 1606.5L275.1 1603.6L276.0 1600.8L276.8 1597.9L277.7 1595.0L278.5 1592.1L279.3 1589.3L280.2 1586.4L281.0 1583.5L281.8 1580.6L282.6 1577.7L283.3 1574.8L284.1 1571.9L284.9 1568.9L285.7 1566.0L286.5 1563.1L287.2 1560.2L288.0 1557.3L288.8 1554.4L289.6 1551.5L290.3 1548.5L291.1 1545.6L291.9 1542.7L292.7 1539.8L293.5 1536.9L294.4 1534.0L295.2 1531.1L296.0 1528.2L296.9 1525.3L297.7 1522.4L298.6 1519.6L299.5 1516.7L300.4 1513.8L301.4 1511.0L302.3 1508.1L303.3 1505.3L304.2 1502.4L305.2 1499.6L306.2 1496.7L307.2 1493.9L308.3 1491.1L309.3 1488.3L310.4 1485.5L311.4 1482.7L312.5 1479.9L313.6 1477.1L314.7 1474.3L315.9 1471.5L317.0 1468.8L318.2 1466.0L319.4 1463.2L320.5 1460.5L321.8 1457.7L323.0 1455.0L324.2 1452.3L325.4 1449.6L326.7 1446.8L328.0 1444.1L329.3 1441.4L330.6 1438.7L331.9 1436.1L333.2 1433.4L334.6 1430.7L335.9 1428.0L337.3 1425.4L338.7 1422.7L340.1 1420.1L341.5 1417.5L342.9 1414.8L344.4 1412.2L345.8 1409.6L347.3 1407.0L348.8 1404.4L350.3 1401.8L351.8 1399.2L353.3 1396.6L354.8 1394.1L356.4 1391.5L357.9 1389.0L359.5 1386.4L361.1 1383.9L362.7 1381.4L364.3 1378.8L365.9 1376.3L367.6 1373.8L369.2 1371.3L370.9 1368.9L372.6 1366.4L374.3 1363.9L376.0 1361.4L377.7 1359.0L379.4 1356.6L381.2 1354.1L382.9 1351.7L384.7 1349.3L386.5 1346.9L388.3 1344.4L390.1 1342.0L391.9 1339.7L393.7 1337.3L395.6 1334.9L397.4 1332.5L399.3 1330.1L401.1 1327.8L403.0 1325.4L404.9 1323.1L406.8 1320.7L408.7 1318.4L410.6 1316.0L412.5 1313.7L414.4 1311.4L416.4 1309.0L418.3 1306.7L420.3 1304.4L422.2 1302.1L424.2 1299.7L426.2 1297.4L428.1 1295.2L430.1 1292.9L432.2 1290.6L434.2 1288.3L436.2 1286.1L438.3 1283.9L440.4 1281.7L442.5 1279.5L444.6 1277.4L446.7 1275.3L448.9 1273.2L451.1 1271.2L453.3 1269.2L455.5 1267.2L457.8 1265.3L460.1 1263.4L462.4 1261.5L464.7 1259.7L467.1 1257.9L469.5 1256.2L471.9 1254.5L474.4 1252.8L476.8 1251.2L479.3 1249.6L481.8 1248.0L484.3 1246.5L486.9 1245.0L489.5 1243.5L492.0 1242.1L494.6 1240.7L497.3 1239.3L499.9 1238.0L502.6 1236.6L505.2 1235.4L507.9 1234.1L510.6 1232.9L513.3 1231.7L516.1 1230.5L518.8 1229.3L521.6 1228.2L524.3 1227.1L527.1 1226.0L529.9 1224.9L532.7 1223.9L535.5 1222.8L538.3 1221.8L541.1 1220.9L544.0 1219.9L546.8 1218.9L549.6 1218.0L552.5 1217.1L555.3 1216.2L558.2 1215.3L561.0 1214.4L563.9 1213.6L566.8 1212.7L569.6 1211.9L572.5 1211.1L575.4 1210.3L578.3 1209.5L581.1 1208.7L584.0 1208.0L586.9 1207.2L589.8 1206.5L592.7 1205.8L595.6 1205.1L598.5 1204.4L601.4 1203.7L604.3 1203.0L607.3 1202.4L610.2 1201.8L613.1 1201.1L616.0 1200.5L618.9 1199.9L621.9 1199.3L624.8 1198.7L627.7 1198.1L630.7 1197.6L633.6 1197.0L636.6 1196.5L639.5 1196.0L642.5 1195.5L645.4 1194.9L648.4 1194.4L651.3 1194.0L654.3 1193.5L657.2 1193.0L660.2 1192.6L663.2 1192.1L666.1 1191.7L669.1 1191.2L672.1 1190.8L675.0 1190.4L678.0 1190.0L681.0 1189.6L684.0 1189.2L686.9 1188.8L689.9 1188.4L692.9 1188.1L695.9 1187.7L698.9 1187.4L701.9 1187.0L704.9 1186.7L707.9 1186.3L710.9 1186.0L713.9 1185.7L716.9 1185.4L719.8 1185.1L722.8 1184.8L725.8 1184.5L728.9 1184.2L731.9 1183.9L734.9 1183.7L737.9 1183.4L740.9 1183.1L743.9 1182.9L746.9 1182.6L749.9 1182.3L752.9 1182.1L755.9 1181.8L758.9 1181.6L761.9 1181.4L765.0 1181.1L768.0 1180.9L771.0 1180.7L774.0 1180.5L777.0 1180.2L780.0 1180.0L783.0 1179.8L786.1 1179.6L789.1 1179.4L792.1 1179.2L795.1 1179.0L798.1 1178.8L801.1 1178.6L804.1 1178.4L807.2 1178.2L810.2 1178.0L813.2 1177.8L816.2 1177.6L819.2 1177.4L822.2 1177.2L825.3 1177.0L828.3 1176.8L831.3 1176.6L834.3 1176.4L837.3 1176.3L840.3 1176.1L843.3 1175.9L846.3 1175.7L849.3 1175.5L852.4 1175.3L855.4 1175.1L858.4 1174.9L861.4 1174.7L864.4 1174.5L867.4 1174.3L870.4 1174.1L873.4 1173.9L876.4 1173.7L879.4 1173.5L882.4 1173.2L885.4 1173.0L888.4 1172.8L891.4 1172.6L894.4 1172.4L897.4 1172.1L900.4 1171.9L903.3 1171.7L906.3 1171.4L909.3 1171.2L912.3 1170.9L915.3 1170.7L918.3 1170.4L921.2 1170.1L924.2 1169.9L927.2 1169.6L930.2 1169.3L933.1 1169.0L936.1 1168.8L939.1 1168.5L942.0 1168.2L945.0 1167.8L947.9 1167.5L950.9 1167.2L953.8 1166.9L956.8 1166.6L959.7 1166.2L962.7 1165.9L965.6 1165.5L968.6 1165.2L966.5 1167.4L964.4 1169.7L962.4 1172.0L960.4 1174.3L958.5 1176.6L956.7 1179.0L954.9 1181.4L953.1 1183.9L951.5 1186.3L949.8 1188.8L948.2 1191.3L946.7 1193.8L945.1 1196.4L943.7 1199.0L942.2 1201.6L940.9 1204.2L939.5 1206.9L938.2 1209.5L936.9 1212.2L935.7 1214.9L934.4 1217.6L933.3 1220.4L932.1 1223.1L931.0 1225.9L929.9 1228.6L928.8 1231.4L927.7 1234.2L926.7 1237.0L925.7 1239.9L924.7 1242.7L923.7 1245.5L922.7 1248.4L921.8 1251.2L920.8 1254.1L919.9 1257.0L919.0 1259.8L918.1 1262.7L917.2 1265.6L916.2 1268.4L915.3 1271.3L914.4 1274.2L913.5 1277.1L912.6 1279.9L911.7 1282.8L910.8 1285.7L909.9 1288.5L909.0 1291.4L908.0 1294.3L907.1 1297.1L906.2 1300.0L905.2 1302.8L904.3 1305.6L903.3 1308.5L902.3 1311.3L901.4 1314.1L900.4 1317.0L899.4 1319.8L898.4 1322.6L897.4 1325.4L896.4 1328.2L895.4 1331.0L894.3 1333.8L893.3 1336.6L892.3 1339.4L891.2 1342.2L890.2 1345.0L889.1 1347.8L888.0 1350.6L886.9 1353.4L885.8 1356.2L884.7 1358.9L883.6 1361.7L882.5 1364.5L881.4 1367.2L880.3 1370.0L879.1 1372.7L878.0 1375.5L876.8 1378.3L875.6 1381.0L874.5 1383.7L873.3 1386.5L872.1 1389.2L870.9 1392.0L869.6 1394.7L868.4 1397.4L867.2 1400.1L865.9 1402.9L864.6 1405.6L863.4 1408.3L862.1 1411.0L860.8 1413.7L859.5 1416.4L858.2 1419.2L856.9 1421.9L855.5 1424.6L854.2 1427.3L852.8 1429.9L851.4 1432.6L850.0 1435.3L848.6 1438.0L847.2 1440.7L845.8 1443.4L844.4 1446.1L842.9 1448.7L841.5 1451.4L840.0 1454.1L838.5 1456.8L837.0 1459.4L835.5 1462.1L834.0 1464.7L832.5 1467.4L830.9 1470.0L829.4 1472.6L827.8 1475.3L826.2 1477.9L824.6 1480.5L823.0 1483.1L821.3 1485.7L819.7 1488.3L818.0 1490.9L816.4 1493.4L814.7 1496.0L813.0 1498.5L811.2 1501.0L809.5 1503.5L807.7 1506.0L806.0 1508.5L804.2 1511.0L802.4 1513.5L800.6 1515.9L798.7 1518.3L796.9 1520.8L795.0 1523.1L793.1 1525.5L791.2 1527.9L789.3 1530.2L787.4 1532.5L785.4 1534.8L783.4 1537.1L781.5 1539.4L779.5 1541.6L777.4 1543.9L775.4 1546.1L773.3 1548.2L771.2 1550.4L769.1 1552.5L767.0 1554.6L764.9 1556.7L762.7 1558.8L760.5 1560.8L758.4 1562.8L756.1 1564.8L753.9 1566.7L751.6 1568.7L749.4 1570.6L747.1 1572.4L744.8 1574.3L742.4 1576.1L740.1 1577.9L737.7 1579.6L735.3 1581.4L732.9 1583.0L730.4 1584.7L728.0 1586.4L725.5 1588.0L723.0 1589.5L720.5 1591.1L718.0 1592.6L715.4 1594.1L712.9 1595.6L710.3 1597.0L707.7 1598.5L705.1 1599.9L702.4 1601.2L699.8 1602.6L697.1 1603.9L694.5 1605.2L691.8 1606.5L689.1 1607.7L686.4 1608.9L683.7 1610.2L680.9 1611.3L678.2 1612.5L675.4 1613.6L672.6 1614.7L669.8 1615.8L667.1 1616.9L664.2 1617.9L661.4 1619.0L658.6 1620.0L655.8 1621.0L652.9 1621.9L650.1 1622.9L647.2 1623.8L644.4 1624.7L641.5 1625.6L638.6 1626.5L635.7 1627.3L632.8 1628.2L629.9 1629.0L627.0 1629.8L624.1 1630.6L621.2 1631.3L618.2 1632.1L615.3 1632.8L612.4 1633.5L609.5 1634.2L606.5 1634.9L603.6 1635.6L600.6 1636.3L597.7 1636.9L594.7 1637.5L591.8 1638.2L588.8 1638.8L585.9 1639.4L582.9 1639.9L580.0 1640.5L577.0 1641.0L574.1 1641.6L571.1 1642.1L568.1 1642.6L565.2 1643.1L562.2 1643.6L559.2 1644.1L556.2 1644.6L553.3 1645.0L550.3 1645.5L547.3 1645.9L544.3 1646.3L541.4 1646.7L538.4 1647.1L535.4 1647.5L532.4 1647.9L529.4 1648.3L526.4 1648.6L523.5 1649.0L520.5 1649.3L517.5 1649.6L514.5 1650.0L511.5 1650.3L508.5 1650.6L505.5 1650.9L502.5 1651.2L499.5 1651.4L496.5 1651.7L493.5 1652.0L490.5 1652.2L487.5 1652.5L484.5 1652.7L481.5 1653.0L478.5 1653.2L475.5 1653.4L472.5 1653.6L469.5 1653.8L466.5 1654.0L463.5 1654.2L460.5 1654.4L457.4 1654.6L454.4 1654.8L451.4 1655.0L448.4 1655.1L445.4 1655.3L442.4 1655.5L439.4 1655.6L436.4 1655.8L433.3 1655.9L430.3 1656.1L427.3 1656.2L424.3 1656.4L421.3 1656.5L418.3 1656.6L415.3 1656.7L412.2 1656.9L409.2 1657.0L406.2 1657.1L403.2 1657.2L400.2 1657.3L397.2 1657.5L394.1 1657.6L391.1 1657.7L388.1 1657.8L385.1 1657.9L382.1 1658.0L379.1 1658.1L376.0 1658.2L373.0 1658.3L370.0 1658.4L367.0 1658.5L364.0 1658.6L361.0 1658.8L358.0 1658.9L354.9 1659.0L351.9 1659.1L348.9 1659.2L345.9 1659.3L342.9 1659.4L339.9 1659.5L336.9 1659.6L333.9 1659.8L330.9 1659.9L327.8 1660.0L324.8 1660.1L321.8 1660.2L318.8 1660.4L315.8 1660.5L312.8 1660.6L309.8 1660.8L306.8 1660.9L303.8 1661.1L300.8 1661.2L297.8 1661.4L294.8 1661.5L291.8 1661.7L288.8 1661.9L285.8 1662.1L282.8 1662.2L279.8 1662.4L276.8 1662.6L273.8 1662.8L270.8 1663.0L267.9 1663.2L264.9 1663.4L261.9 1663.7L258.9 1663.9L255.9 1664.1L252.9 1664.4L249.9 1664.6L247.0 1664.9L244.0 1665.1L241.0 1665.4Z" fill="none" stroke="#1f8a1f" stroke-width="3.3" stroke-linejoin="round" stroke-linecap="butt"/>
<path d="M241.1 1672.5L243.3 1670.4L245.5 1668.2L247.6 1666.0L249.6 1663.8L251.6 1661.5L253.6 1659.2L255.5 1656.9L257.3 1654.5L259.1 1652.2L260.8 1649.8L262.5 1647.3L264.1 1644.9L265.7 1642.4L267.2 1639.9L268.7 1637.3L270.2 1634.8L271.6 1632.2L273.0 1629.6L274.3 1626.9L275.6 1624.3L276.9 1621.6L278.1 1618.9L279.3 1616.2L280.5 1613.5L281.6 1610.8L282.7 1608.0L283.8 1605.3L284.9 1602.5L285.9 1599.7L286.9 1596.9L287.9 1594.1L288.9 1591.2L289.9 1588.4L290.8 1585.5L291.7 1582.7L292.6 1579.8L293.5 1576.9L294.4 1574.0L295.3 1571.1L296.1 1568.2L297.0 1565.3L297.8 1562.4L298.6 1559.5L299.5 1556.6L300.3 1553.7L301.1 1550.8L302.0 1547.9L302.8 1545.0L303.7 1542.1L304.5 1539.2L305.3 1536.3L306.2 1533.4L307.0 1530.5L307.9 1527.6L308.7 1524.7L309.6 1521.8L310.5 1518.9L311.4 1516.0L312.2 1513.1L313.1 1510.2L314.0 1507.3L314.9 1504.5L315.8 1501.6L316.7 1498.7L317.6 1495.8L318.5 1493.0L319.5 1490.1L320.4 1487.2L321.3 1484.4L322.3 1481.5L323.2 1478.7L324.2 1475.8L325.2 1473.0L326.2 1470.1L327.1 1467.3L328.1 1464.5L329.1 1461.6L330.1 1458.8L331.2 1456.0L332.2 1453.2L333.2 1450.3L334.3 1447.5L335.3 1444.7L336.4 1441.9L337.5 1439.1L338.6 1436.3L339.7 1433.5L340.8 1430.7L341.9 1428.0L343.0 1425.2L344.2 1422.4L345.3 1419.6L346.5 1416.9L347.6 1414.1L348.8 1411.4L350.0 1408.6L351.2 1405.9L352.5 1403.1L353.7 1400.4L354.9 1397.6L356.2 1394.9L357.5 1392.2L358.8 1389.5L360.1 1386.8L361.4 1384.1L362.7 1381.4L364.0 1378.7L365.4 1376.0L366.8 1373.3L368.2 1370.6L369.6 1368.0L371.0 1365.3L372.4 1362.6L373.9 1360.0L375.3 1357.3L376.8 1354.7L378.3 1352.1L379.8 1349.4L381.3 1346.8L382.9 1344.2L384.4 1341.6L386.0 1339.0L387.6 1336.4L389.2 1333.8L390.8 1331.3L392.5 1328.7L394.1 1326.1L395.8 1323.6L397.5 1321.1L399.2 1318.6L400.9 1316.1L402.6 1313.6L404.4 1311.1L406.2 1308.6L408.0 1306.2L409.8 1303.8L411.6 1301.3L413.4 1298.9L415.3 1296.6L417.2 1294.2L419.1 1291.8L421.0 1289.5L422.9 1287.2L424.9 1284.9L426.8 1282.6L428.8 1280.3L430.8 1278.1L432.8 1275.9L434.9 1273.7L436.9 1271.5L439.0 1269.3L441.1 1267.2L443.2 1265.1L445.3 1263.0L447.5 1260.9L449.6 1258.9L451.8 1256.9L454.0 1254.9L456.2 1252.9L458.5 1251.0L460.7 1249.1L463.0 1247.2L465.3 1245.3L467.6 1243.5L469.9 1241.7L472.3 1239.9L474.7 1238.1L477.0 1236.4L479.5 1234.7L481.9 1233.1L484.3 1231.4L486.8 1229.8L489.3 1228.3L491.8 1226.7L494.3 1225.2L496.8 1223.8L499.4 1222.3L502.0 1220.9L504.6 1219.6L507.2 1218.2L509.9 1216.9L512.5 1215.7L515.2 1214.5L517.9 1213.3L520.6 1212.1L523.4 1211.0L526.1 1209.9L528.9 1208.9L531.7 1207.9L534.5 1206.9L537.3 1206.0L540.2 1205.0L543.1 1204.2L545.9 1203.3L548.8 1202.5L551.7 1201.7L554.6 1200.9L557.6 1200.2L560.5 1199.5L563.5 1198.8L566.4 1198.1L569.4 1197.5L572.4 1196.9L575.4 1196.3L578.3 1195.7L581.3 1195.1L584.3 1194.6L587.4 1194.0L590.4 1193.5L593.4 1193.0L596.4 1192.5L599.4 1192.0L602.4 1191.6L605.4 1191.1L608.5 1190.6L611.5 1190.2L614.5 1189.8L617.5 1189.4L620.6 1189.0L623.6 1188.5L626.6 1188.2L629.6 1187.8L632.7 1187.4L635.7 1187.0L638.7 1186.7L641.7 1186.3L644.8 1186.0L647.8 1185.6L650.8 1185.3L653.8 1185.0L656.8 1184.6L659.9 1184.3L662.9 1184.0L665.9 1183.7L668.9 1183.4L672.0 1183.1L675.0 1182.8L678.0 1182.5L681.0 1182.2L684.0 1181.9L687.1 1181.7L690.1 1181.4L693.1 1181.1L696.1 1180.8L699.1 1180.6L702.1 1180.3L705.1 1180.0L708.1 1179.8L711.1 1179.5L714.1 1179.2L717.1 1179.0L720.1 1178.7L723.1 1178.4L726.1 1178.1L729.1 1177.9L732.1 1177.6L735.1 1177.3L738.1 1177.1L741.1 1176.8L744.1 1176.5L747.1 1176.2L750.1 1176.0L753.0 1175.7L756.0 1175.4L759.0 1175.2L762.0 1174.9L765.0 1174.6L767.9 1174.4L770.9 1174.1L773.9 1173.8L776.9 1173.5L779.8 1173.3L782.8 1173.0L785.8 1172.7L788.8 1172.5L791.7 1172.2L794.7 1171.9L797.7 1171.7L800.7 1171.4L803.6 1171.1L806.6 1170.9L809.6 1170.6L812.5 1170.3L815.5 1170.1L818.5 1169.8L821.4 1169.6L824.4 1169.3L827.4 1169.1L830.3 1168.8L833.3 1168.5L836.3 1168.3L839.3 1168.0L842.2 1167.8L845.2 1167.5L848.2 1167.3L851.2 1167.0L854.1 1166.8L857.1 1166.6L860.1 1166.3L863.1 1166.1L866.0 1165.8L869.0 1165.6L872.0 1165.4L875.0 1165.1L877.9 1164.9L880.9 1164.7L883.9 1164.5L886.9 1164.2L889.9 1164.0L892.9 1163.8L895.9 1163.6L898.9 1163.4L901.8 1163.1L904.8 1162.9L907.8 1162.7L910.8 1162.5L913.8 1162.3L916.8 1162.1L919.8 1161.9L922.8 1161.7L925.9 1161.5L928.9 1161.3L931.9 1161.1L934.9 1161.0L937.9 1160.8L940.9 1160.6L943.9 1160.4L947.0 1160.2L950.0 1160.1L953.0 1159.9L956.1 1159.7L959.1 1159.6L962.1 1159.4L965.2 1159.3L968.2 1159.1L965.6 1160.9L963.0 1162.8L960.6 1164.8L958.2 1166.7L955.9 1168.8L953.6 1170.9L951.5 1173.0L949.4 1175.2L947.4 1177.4L945.4 1179.6L943.6 1181.9L941.7 1184.3L940.0 1186.6L938.3 1189.0L936.6 1191.5L935.0 1193.9L933.5 1196.4L932.0 1199.0L930.6 1201.5L929.2 1204.1L927.8 1206.7L926.5 1209.4L925.3 1212.0L924.0 1214.7L922.9 1217.4L921.7 1220.2L920.6 1222.9L919.5 1225.7L918.4 1228.4L917.4 1231.2L916.3 1234.0L915.3 1236.9L914.4 1239.7L913.4 1242.5L912.4 1245.4L911.5 1248.2L910.6 1251.1L909.7 1253.9L908.8 1256.8L907.9 1259.6L906.9 1262.5L906.0 1265.4L905.1 1268.2L904.2 1271.1L903.3 1273.9L902.4 1276.8L901.5 1279.7L900.6 1282.5L899.7 1285.4L898.8 1288.2L897.9 1291.1L897.0 1293.9L896.1 1296.8L895.2 1299.6L894.3 1302.5L893.4 1305.3L892.4 1308.2L891.5 1311.0L890.6 1313.8L889.7 1316.7L888.8 1319.5L887.8 1322.4L886.9 1325.2L886.0 1328.0L885.0 1330.9L884.1 1333.7L883.1 1336.5L882.2 1339.4L881.2 1342.2L880.3 1345.0L879.3 1347.9L878.3 1350.7L877.3 1353.5L876.4 1356.3L875.4 1359.2L874.4 1362.0L873.4 1364.8L872.4 1367.6L871.4 1370.4L870.3 1373.3L869.3 1376.1L868.3 1378.9L867.2 1381.7L866.2 1384.5L865.1 1387.3L864.1 1390.1L863.0 1392.9L861.9 1395.7L860.8 1398.5L859.7 1401.3L858.6 1404.1L857.5 1406.9L856.4 1409.7L855.2 1412.5L854.1 1415.3L852.9 1418.1L851.8 1420.9L850.6 1423.7L849.4 1426.5L848.2 1429.3L847.0 1432.1L845.8 1434.9L844.6 1437.6L843.3 1440.4L842.1 1443.2L840.8 1446.0L839.5 1448.7L838.3 1451.5L837.0 1454.2L835.6 1457.0L834.3 1459.7L833.0 1462.5L831.6 1465.2L830.3 1467.9L828.9 1470.7L827.5 1473.4L826.1 1476.1L824.7 1478.8L823.3 1481.5L821.8 1484.1L820.4 1486.8L818.9 1489.5L817.4 1492.1L815.9 1494.8L814.4 1497.4L812.8 1500.0L811.3 1502.6L809.7 1505.2L808.2 1507.8L806.6 1510.4L805.0 1513.0L803.3 1515.5L801.7 1518.1L800.0 1520.6L798.4 1523.1L796.7 1525.6L795.0 1528.1L793.2 1530.6L791.5 1533.0L789.7 1535.5L788.0 1537.9L786.2 1540.3L784.3 1542.7L782.5 1545.1L780.7 1547.4L778.8 1549.8L776.9 1552.1L775.0 1554.4L773.1 1556.7L771.1 1558.9L769.2 1561.2L767.2 1563.4L765.2 1565.6L763.2 1567.8L761.1 1570.0L759.1 1572.2L757.0 1574.3L754.9 1576.4L752.8 1578.5L750.6 1580.5L748.5 1582.6L746.3 1584.6L744.1 1586.6L741.9 1588.5L739.6 1590.5L737.4 1592.4L735.1 1594.3L732.8 1596.1L730.5 1597.9L728.1 1599.7L725.7 1601.5L723.4 1603.2L720.9 1604.9L718.5 1606.6L716.1 1608.2L713.6 1609.8L711.1 1611.4L708.6 1612.9L706.0 1614.4L703.5 1615.8L700.9 1617.2L698.3 1618.6L695.7 1619.9L693.0 1621.2L690.4 1622.5L687.7 1623.7L685.0 1624.9L682.3 1626.0L679.5 1627.1L676.8 1628.2L674.0 1629.2L671.2 1630.2L668.4 1631.2L665.5 1632.1L662.7 1633.0L659.8 1633.9L657.0 1634.7L654.1 1635.5L651.2 1636.3L648.3 1637.1L645.4 1637.8L642.4 1638.5L639.5 1639.2L636.6 1639.9L633.6 1640.5L630.6 1641.2L627.7 1641.8L624.7 1642.4L621.7 1642.9L618.7 1643.5L615.8 1644.0L612.8 1644.6L609.8 1645.1L606.8 1645.6L603.8 1646.1L600.8 1646.6L597.8 1647.1L594.8 1647.5L591.8 1648.0L588.8 1648.5L585.8 1648.9L582.8 1649.3L579.8 1649.8L576.8 1650.2L573.8 1650.6L570.8 1651.0L567.8 1651.4L564.8 1651.8L561.8 1652.2L558.8 1652.6L555.8 1652.9L552.8 1653.3L549.8 1653.6L546.8 1654.0L543.8 1654.3L540.8 1654.7L537.8 1655.0L534.8 1655.3L531.8 1655.6L528.8 1655.9L525.8 1656.2L522.8 1656.5L519.8 1656.8L516.8 1657.1L513.8 1657.4L510.8 1657.7L507.8 1657.9L504.8 1658.2L501.8 1658.5L498.8 1658.7L495.8 1659.0L492.8 1659.2L489.8 1659.4L486.9 1659.7L483.9 1659.9L480.9 1660.1L477.9 1660.3L474.9 1660.6L471.9 1660.8L468.9 1661.0L465.9 1661.2L462.9 1661.4L459.9 1661.6L456.9 1661.8L453.9 1661.9L450.9 1662.1L447.9 1662.3L444.9 1662.5L441.9 1662.7L438.9 1662.8L435.9 1663.0L432.9 1663.2L429.9 1663.3L426.9 1663.5L423.9 1663.6L420.9 1663.8L417.9 1664.0L414.9 1664.1L411.9 1664.3L408.9 1664.4L405.9 1664.5L402.9 1664.7L399.9 1664.8L396.9 1665.0L393.9 1665.1L390.9 1665.2L387.9 1665.4L384.9 1665.5L381.9 1665.6L378.9 1665.8L375.9 1665.9L372.9 1666.0L369.9 1666.1L366.9 1666.3L363.9 1666.4L360.9 1666.5L357.9 1666.7L355.0 1666.8L352.0 1666.9L349.0 1667.0L346.0 1667.2L343.0 1667.3L340.0 1667.4L337.0 1667.5L334.0 1667.7L331.0 1667.8L328.0 1667.9L325.0 1668.1L322.0 1668.2L319.0 1668.3L316.0 1668.5L313.0 1668.6L310.0 1668.7L307.0 1668.9L304.0 1669.0L301.0 1669.1L298.0 1669.3L295.0 1669.4L292.0 1669.6L289.0 1669.7L286.0 1669.9L283.0 1670.0L280.0 1670.2L277.0 1670.3L274.0 1670.5L271.0 1670.7L268.0 1670.8L265.0 1671.0L262.0 1671.2L259.0 1671.3L256.0 1671.5L253.0 1671.7L250.0 1671.9L247.0 1672.1L244.0 1672.3L241.0 1672.5Z" fill="none" stroke="#1c1c7c" stroke-width="3.3" stroke-linejoin="round" stroke-linecap="butt"/>
<path d="M1477.5 1577.5L1478.1 1574.6L1478.6 1571.7L1479.2 1568.8L1479.7 1565.9L1480.3 1563.0L1480.8 1560.1L1481.4 1557.2L1481.9 1554.3L1482.5 1551.3L1483.1 1548.4L1483.7 1545.5L1484.3 1542.5L1484.8 1539.6L1485.4 1536.6L1486.0 1533.7L1486.6 1530.7L1487.2 1527.8L1487.9 1524.8L1488.5 1521.8L1489.1 1518.9L1489.8 1515.9L1490.4 1512.9L1491.0 1509.9L1491.7 1507.0L1492.4 1504.0L1493.1 1501.0L1493.7 1498.0L1494.4 1495.1L1495.1 1492.1L1495.9 1489.1L1496.6 1486.2L1497.3 1483.2L1498.1 1480.2L1498.8 1477.3L1499.6 1474.3L1500.4 1471.3L1501.2 1468.4L1502.0 1465.4L1502.8 1462.5L1503.6 1459.5L1504.4 1456.6L1505.3 1453.7L1506.2 1450.7L1507.0 1447.8L1507.9 1444.9L1508.8 1442.0L1509.8 1439.1L1510.7 1436.2L1511.6 1433.3L1512.6 1430.4L1513.6 1427.5L1514.6 1424.6L1515.6 1421.8L1516.6 1418.9L1517.7 1416.1L1518.7 1413.2L1519.8 1410.4L1520.9 1407.6L1522.0 1404.8L1523.2 1402.0L1524.3 1399.2L1525.5 1396.4L1526.7 1393.7L1527.9 1390.9L1529.1 1388.2L1530.4 1385.4L1531.7 1382.7L1532.9 1380.0L1534.3 1377.3L1535.6 1374.6L1536.9 1372.0L1538.3 1369.3L1539.7 1366.7L1541.1 1364.1L1542.6 1361.5L1544.0 1358.9L1545.5 1356.3L1547.0 1353.7L1548.6 1351.2L1550.1 1348.7L1551.7 1346.2L1553.3 1343.7L1554.9 1341.2L1556.6 1338.7L1558.3 1336.3L1560.0 1333.9L1561.7 1331.5L1563.4 1329.1L1565.2 1326.7L1567.0 1324.4L1568.9 1322.1L1570.7 1319.7L1572.6 1317.5L1574.5 1315.2L1576.5 1313.0L1578.5 1310.7L1580.5 1308.5L1582.5 1306.4L1584.5 1304.2L1586.6 1302.1L1588.7 1300.0L1590.9 1297.9L1593.1 1295.8L1595.3 1293.8L1597.5 1291.8L1599.8 1289.8L1602.1 1287.8L1604.4 1285.9L1606.8 1284.0L1609.2 1282.1L1611.6 1280.2L1614.1 1278.4L1613.8 1281.5L1613.4 1284.4L1613.0 1287.3L1612.6 1290.2L1612.2 1293.2L1611.8 1296.1L1611.3 1299.0L1610.9 1301.9L1610.4 1304.9L1610.0 1307.8L1609.5 1310.8L1609.1 1313.7L1608.6 1316.6L1608.1 1319.6L1607.6 1322.5L1607.1 1325.5L1606.6 1328.4L1606.1 1331.4L1605.6 1334.3L1605.0 1337.3L1604.5 1340.2L1603.9 1343.2L1603.3 1346.1L1602.8 1349.1L1602.2 1352.0L1601.6 1355.0L1601.0 1357.9L1600.3 1360.9L1599.7 1363.8L1599.1 1366.8L1598.4 1369.7L1597.8 1372.6L1597.1 1375.6L1596.4 1378.5L1595.7 1381.5L1595.0 1384.4L1594.2 1387.3L1593.5 1390.3L1592.7 1393.2L1592.0 1396.1L1591.2 1399.0L1590.4 1402.0L1589.6 1404.9L1588.8 1407.8L1588.0 1410.7L1587.1 1413.6L1586.3 1416.5L1585.4 1419.4L1584.5 1422.3L1583.6 1425.2L1582.7 1428.1L1581.7 1431.0L1580.8 1433.8L1579.8 1436.7L1578.9 1439.6L1577.9 1442.4L1576.8 1445.3L1575.8 1448.2L1574.8 1451.0L1573.7 1453.8L1572.7 1456.7L1571.6 1459.5L1570.5 1462.3L1569.3 1465.1L1568.2 1467.9L1567.0 1470.7L1565.9 1473.5L1564.7 1476.3L1563.5 1479.1L1562.2 1481.9L1561.0 1484.6L1559.7 1487.4L1558.4 1490.1L1557.1 1492.8L1555.7 1495.5L1554.3 1498.1L1552.9 1500.8L1551.5 1503.4L1550.1 1506.1L1548.6 1508.7L1547.1 1511.2L1545.6 1513.8L1544.0 1516.3L1542.4 1518.8L1540.8 1521.3L1539.2 1523.7L1537.5 1526.2L1535.8 1528.6L1534.0 1530.9L1532.2 1533.3L1530.4 1535.6L1528.6 1537.8L1526.7 1540.1L1524.7 1542.3L1522.8 1544.5L1520.8 1546.6L1518.7 1548.7L1516.7 1550.7L1514.6 1552.8L1512.4 1554.7L1510.2 1556.7L1508.0 1558.6L1505.7 1560.4L1503.4 1562.2L1501.0 1564.0L1498.6 1565.7L1496.1 1567.4L1493.6 1569.0L1491.1 1570.6L1488.5 1572.1L1485.8 1573.5L1483.1 1575.0L1480.4 1576.3L1477.6 1577.6Z" fill="none" stroke="#000000" stroke-width="3.4" stroke-linejoin="round" stroke-linecap="butt"/>
<path d="M1476.5 1593.4L1477.2 1590.5L1478.0 1587.6L1478.7 1584.8L1479.5 1581.9L1480.2 1579.0L1481.0 1576.1L1481.7 1573.2L1482.5 1570.3L1483.3 1567.5L1484.0 1564.6L1484.8 1561.7L1485.6 1558.8L1486.3 1555.9L1487.1 1553.0L1487.9 1550.1L1488.6 1547.2L1489.4 1544.3L1490.2 1541.3L1491.0 1538.4L1491.8 1535.5L1492.6 1532.6L1493.4 1529.7L1494.2 1526.8L1495.1 1523.9L1495.9 1521.0L1496.7 1518.1L1497.6 1515.2L1498.4 1512.3L1499.3 1509.4L1500.1 1506.5L1501.0 1503.6L1501.9 1500.7L1502.8 1497.8L1503.7 1494.9L1504.6 1492.0L1505.5 1489.1L1506.4 1486.3L1507.4 1483.4L1508.3 1480.5L1509.3 1477.6L1510.3 1474.8L1511.2 1471.9L1512.2 1469.0L1513.2 1466.2L1514.2 1463.3L1515.3 1460.5L1516.3 1457.6L1517.4 1454.8L1518.4 1452.0L1519.5 1449.2L1520.6 1446.3L1521.7 1443.5L1522.8 1440.7L1524.0 1437.9L1525.1 1435.1L1526.3 1432.3L1527.5 1429.6L1528.7 1426.8L1529.9 1424.0L1531.1 1421.3L1532.3 1418.5L1533.6 1415.8L1534.9 1413.1L1536.2 1410.3L1537.5 1407.6L1538.8 1404.9L1540.2 1402.2L1541.5 1399.5L1542.9 1396.9L1544.3 1394.2L1545.7 1391.5L1547.2 1388.9L1548.6 1386.3L1550.1 1383.6L1551.6 1381.0L1553.1 1378.4L1554.7 1375.8L1556.3 1373.2L1557.8 1370.7L1559.4 1368.1L1561.1 1365.6L1562.7 1363.0L1564.4 1360.5L1566.1 1358.0L1567.8 1355.5L1569.5 1353.1L1571.3 1350.6L1573.1 1348.2L1574.9 1345.8L1576.7 1343.4L1578.5 1341.0L1580.4 1338.6L1582.3 1336.3L1584.2 1334.0L1586.1 1331.7L1588.1 1329.4L1590.0 1327.2L1592.0 1324.9L1594.1 1322.7L1596.1 1320.6L1598.2 1318.4L1600.3 1316.3L1602.4 1314.2L1604.5 1312.1L1606.7 1310.1L1608.8 1308.1L1611.1 1306.1L1613.3 1304.1L1615.5 1302.2L1617.8 1300.3L1620.1 1298.4L1622.4 1296.6L1624.8 1294.8L1627.1 1293.0L1629.5 1291.3L1631.9 1289.6L1634.4 1287.9L1636.8 1286.3L1639.3 1284.7L1641.8 1283.1L1644.4 1281.6L1646.9 1280.1L1649.5 1278.7L1652.1 1277.3L1654.7 1275.9L1657.4 1274.6L1660.1 1273.3L1662.8 1272.0L1665.5 1270.8L1668.2 1269.6L1670.9 1268.4L1673.7 1267.3L1676.5 1266.2L1679.3 1265.2L1682.1 1264.2L1685.0 1263.2L1687.8 1262.2L1690.7 1261.3L1693.6 1260.5L1696.5 1259.6L1699.4 1258.8L1702.4 1258.1L1705.3 1257.3L1708.3 1256.6L1711.2 1256.0L1714.2 1255.4L1717.2 1254.8L1720.2 1254.2L1723.3 1253.7L1726.3 1253.2L1729.3 1252.7L1732.4 1252.3L1735.4 1251.9L1738.5 1251.6L1741.6 1251.3L1744.7 1251.0L1747.8 1250.7L1750.9 1250.5L1750.1 1253.3L1749.5 1256.1L1748.8 1259.0L1748.2 1261.9L1747.5 1264.7L1746.9 1267.6L1746.2 1270.5L1745.6 1273.4L1744.9 1276.3L1744.3 1279.2L1743.6 1282.1L1743.0 1285.0L1742.4 1288.0L1741.7 1290.9L1741.1 1293.8L1740.4 1296.7L1739.8 1299.7L1739.1 1302.6L1738.4 1305.6L1737.8 1308.5L1737.1 1311.5L1736.4 1314.4L1735.8 1317.4L1735.1 1320.3L1734.4 1323.3L1733.7 1326.2L1733.0 1329.2L1732.3 1332.1L1731.6 1335.1L1730.9 1338.0L1730.2 1341.0L1729.4 1344.0L1728.7 1346.9L1727.9 1349.9L1727.2 1352.8L1726.4 1355.8L1725.6 1358.7L1724.8 1361.6L1724.0 1364.6L1723.2 1367.5L1722.4 1370.4L1721.6 1373.4L1720.7 1376.3L1719.9 1379.2L1719.0 1382.1L1718.1 1385.0L1717.2 1387.9L1716.3 1390.8L1715.4 1393.7L1714.5 1396.6L1713.5 1399.5L1712.5 1402.4L1711.5 1405.2L1710.5 1408.1L1709.5 1410.9L1708.5 1413.8L1707.4 1416.6L1706.4 1419.4L1705.3 1422.3L1704.2 1425.1L1703.0 1427.9L1701.9 1430.7L1700.7 1433.4L1699.5 1436.2L1698.3 1439.0L1697.1 1441.7L1695.9 1444.4L1694.6 1447.2L1693.3 1449.9L1692.0 1452.6L1690.7 1455.2L1689.3 1457.9L1687.9 1460.6L1686.5 1463.2L1685.1 1465.9L1683.6 1468.5L1682.2 1471.1L1680.7 1473.7L1679.1 1476.3L1677.6 1478.8L1676.0 1481.4L1674.4 1483.9L1672.8 1486.4L1671.1 1488.9L1669.4 1491.4L1667.7 1493.8L1666.0 1496.3L1664.2 1498.7L1662.4 1501.1L1660.6 1503.5L1658.8 1505.8L1656.9 1508.2L1655.0 1510.5L1653.1 1512.8L1651.2 1515.1L1649.2 1517.3L1647.2 1519.5L1645.2 1521.7L1643.2 1523.9L1641.1 1526.1L1639.0 1528.2L1636.9 1530.3L1634.8 1532.4L1632.6 1534.4L1630.4 1536.4L1628.2 1538.4L1626.0 1540.4L1623.8 1542.3L1621.5 1544.2L1619.2 1546.0L1616.9 1547.9L1614.5 1549.7L1612.1 1551.5L1609.7 1553.2L1607.3 1554.9L1604.9 1556.6L1602.4 1558.2L1599.9 1559.8L1597.4 1561.4L1594.9 1562.9L1592.4 1564.4L1589.8 1565.8L1587.2 1567.3L1584.6 1568.6L1581.9 1570.0L1579.3 1571.3L1576.6 1572.5L1573.9 1573.8L1571.1 1575.0L1568.4 1576.1L1565.6 1577.2L1562.8 1578.3L1560.0 1579.3L1557.2 1580.3L1554.4 1581.2L1551.5 1582.2L1548.7 1583.0L1545.8 1583.9L1542.9 1584.7L1540.0 1585.4L1537.0 1586.2L1534.1 1586.9L1531.1 1587.5L1528.2 1588.1L1525.2 1588.7L1522.2 1589.3L1519.2 1589.8L1516.2 1590.3L1513.2 1590.7L1510.2 1591.1L1507.1 1591.5L1504.1 1591.8L1501.0 1592.1L1498.0 1592.4L1494.9 1592.6L1491.8 1592.8L1488.8 1593.0L1485.7 1593.1L1482.6 1593.2L1479.5 1593.3L1476.5 1593.3Z" fill="none" stroke="#157a15" stroke-width="3.4" stroke-linejoin="round" stroke-linecap="butt"/>
<path d="M1476.6 1600.0L1477.6 1597.3L1478.6 1594.5L1479.7 1591.7L1480.7 1589.0L1481.7 1586.2L1482.7 1583.4L1483.7 1580.6L1484.7 1577.8L1485.7 1575.0L1486.7 1572.2L1487.7 1569.4L1488.7 1566.6L1489.7 1563.8L1490.7 1560.9L1491.7 1558.1L1492.6 1555.3L1493.6 1552.5L1494.6 1549.6L1495.6 1546.8L1496.6 1544.0L1497.6 1541.1L1498.6 1538.3L1499.6 1535.4L1500.6 1532.6L1501.6 1529.8L1502.6 1526.9L1503.6 1524.1L1504.6 1521.2L1505.6 1518.4L1506.7 1515.5L1507.7 1512.7L1508.7 1509.8L1509.8 1507.0L1510.8 1504.2L1511.8 1501.3L1512.9 1498.5L1513.9 1495.6L1515.0 1492.8L1516.1 1490.0L1517.2 1487.1L1518.2 1484.3L1519.3 1481.5L1520.4 1478.7L1521.5 1475.9L1522.7 1473.1L1523.8 1470.2L1524.9 1467.4L1526.1 1464.6L1527.2 1461.9L1528.4 1459.1L1529.6 1456.3L1530.8 1453.5L1532.0 1450.7L1533.2 1448.0L1534.4 1445.2L1535.6 1442.5L1536.9 1439.7L1538.1 1437.0L1539.4 1434.3L1540.7 1431.5L1542.0 1428.8L1543.3 1426.1L1544.6 1423.4L1546.0 1420.7L1547.3 1418.0L1548.7 1415.4L1550.1 1412.7L1551.5 1410.1L1552.9 1407.4L1554.4 1404.8L1555.8 1402.2L1557.3 1399.6L1558.8 1397.0L1560.3 1394.4L1561.8 1391.8L1563.4 1389.2L1564.9 1386.7L1566.5 1384.1L1568.1 1381.6L1569.7 1379.1L1571.3 1376.6L1573.0 1374.1L1574.7 1371.6L1576.4 1369.1L1578.1 1366.7L1579.9 1364.3L1581.6 1361.8L1583.4 1359.4L1585.2 1357.0L1587.0 1354.7L1588.9 1352.3L1590.8 1349.9L1592.7 1347.6L1594.6 1345.3L1596.5 1343.0L1598.5 1340.7L1600.5 1338.5L1602.5 1336.2L1604.5 1334.0L1606.6 1331.8L1608.7 1329.6L1610.8 1327.5L1612.9 1325.3L1615.0 1323.2L1617.2 1321.1L1619.4 1319.1L1621.6 1317.0L1623.8 1315.0L1626.0 1313.0L1628.3 1311.0L1630.6 1309.1L1632.9 1307.2L1635.2 1305.3L1637.6 1303.4L1639.9 1301.6L1642.3 1299.8L1644.7 1298.0L1647.1 1296.3L1649.6 1294.5L1652.0 1292.9L1654.5 1291.2L1657.0 1289.6L1659.5 1288.0L1662.1 1286.5L1664.6 1284.9L1667.2 1283.4L1669.8 1282.0L1672.4 1280.6L1675.0 1279.2L1677.7 1277.9L1680.3 1276.6L1683.0 1275.3L1685.7 1274.1L1688.4 1272.9L1691.1 1271.7L1693.9 1270.6L1696.6 1269.5L1699.4 1268.5L1702.2 1267.5L1705.0 1266.6L1707.8 1265.6L1710.7 1264.8L1713.5 1263.9L1716.4 1263.1L1719.3 1262.3L1722.1 1261.6L1725.0 1260.8L1728.0 1260.1L1730.9 1259.5L1733.8 1258.8L1736.8 1258.2L1739.7 1257.6L1742.7 1257.1L1745.6 1256.6L1748.6 1256.1L1751.6 1255.6L1754.6 1255.1L1757.6 1254.7L1760.6 1254.2L1763.6 1253.8L1766.7 1253.4L1769.7 1253.1L1772.7 1252.7L1775.7 1252.4L1778.8 1252.1L1781.8 1251.7L1784.9 1251.4L1787.9 1251.2L1791.0 1250.9L1794.0 1250.6L1797.1 1250.4L1800.1 1250.1L1803.2 1249.9L1806.2 1249.6L1809.3 1249.4L1812.3 1249.2L1815.4 1249.0L1818.4 1248.7L1821.5 1248.5L1824.5 1248.3L1827.5 1248.1L1830.6 1247.9L1833.6 1247.7L1836.6 1247.4L1839.7 1247.2L1842.7 1247.0L1845.7 1246.7L1848.7 1246.5L1851.7 1246.2L1854.7 1246.0L1857.6 1245.7L1860.6 1245.4L1863.6 1245.1L1866.5 1244.8L1869.5 1244.5L1872.4 1244.2L1875.3 1243.8L1878.2 1243.5L1881.1 1243.1L1884.0 1242.7L1886.9 1242.3L1885.6 1245.1L1884.4 1248.0L1883.3 1250.8L1882.2 1253.6L1881.1 1256.5L1880.1 1259.3L1879.1 1262.1L1878.1 1264.9L1877.1 1267.7L1876.2 1270.5L1875.3 1273.3L1874.4 1276.1L1873.5 1278.9L1872.7 1281.8L1871.9 1284.6L1871.1 1287.4L1870.3 1290.2L1869.5 1293.0L1868.8 1295.8L1868.0 1298.7L1867.3 1301.5L1866.5 1304.3L1865.8 1307.2L1865.1 1310.0L1864.4 1312.8L1863.6 1315.7L1862.9 1318.6L1862.2 1321.4L1861.5 1324.3L1860.7 1327.2L1860.0 1330.1L1859.2 1333.0L1858.5 1335.9L1857.7 1338.8L1856.9 1341.8L1856.1 1344.7L1855.3 1347.6L1854.5 1350.6L1853.7 1353.5L1852.8 1356.5L1852.0 1359.4L1851.1 1362.4L1850.3 1365.3L1849.4 1368.3L1848.5 1371.3L1847.6 1374.2L1846.7 1377.2L1845.7 1380.1L1844.8 1383.1L1843.8 1386.0L1842.8 1389.0L1841.9 1391.9L1840.8 1394.9L1839.8 1397.8L1838.8 1400.7L1837.7 1403.7L1836.7 1406.6L1835.6 1409.5L1834.5 1412.4L1833.3 1415.3L1832.2 1418.2L1831.0 1421.0L1829.8 1423.9L1828.6 1426.7L1827.4 1429.6L1826.2 1432.4L1824.9 1435.2L1823.6 1438.0L1822.3 1440.8L1821.0 1443.5L1819.7 1446.3L1818.3 1449.0L1816.9 1451.7L1815.5 1454.4L1814.1 1457.1L1812.7 1459.8L1811.2 1462.4L1809.7 1465.0L1808.2 1467.6L1806.6 1470.2L1805.0 1472.7L1803.4 1475.2L1801.8 1477.7L1800.2 1480.2L1798.5 1482.7L1796.8 1485.1L1795.1 1487.5L1793.3 1489.9L1791.5 1492.2L1789.7 1494.5L1787.9 1496.8L1786.0 1499.1L1784.1 1501.3L1782.2 1503.5L1780.3 1505.7L1778.3 1507.8L1776.3 1509.9L1774.3 1512.0L1772.2 1514.0L1770.1 1516.0L1768.0 1518.0L1765.8 1519.9L1763.7 1521.8L1761.4 1523.7L1759.2 1525.6L1757.0 1527.4L1754.7 1529.2L1752.4 1530.9L1750.0 1532.6L1747.7 1534.3L1745.3 1536.0L1742.9 1537.7L1740.5 1539.3L1738.0 1540.8L1735.6 1542.4L1733.1 1543.9L1730.6 1545.4L1728.0 1546.9L1725.5 1548.3L1722.9 1549.8L1720.3 1551.2L1717.7 1552.5L1715.1 1553.9L1712.4 1555.2L1709.7 1556.5L1707.1 1557.7L1704.4 1559.0L1701.6 1560.2L1698.9 1561.4L1696.1 1562.5L1693.4 1563.7L1690.6 1564.8L1687.8 1565.9L1685.0 1567.0L1682.2 1568.0L1679.3 1569.0L1676.5 1570.0L1673.6 1571.0L1670.7 1572.0L1667.8 1572.9L1664.9 1573.8L1662.0 1574.7L1659.1 1575.6L1656.1 1576.4L1653.2 1577.3L1650.2 1578.1L1647.3 1578.9L1644.3 1579.7L1641.3 1580.4L1638.3 1581.1L1635.3 1581.9L1632.3 1582.6L1629.3 1583.2L1626.3 1583.9L1623.3 1584.5L1620.3 1585.2L1617.2 1585.8L1614.2 1586.4L1611.1 1587.0L1608.1 1587.5L1605.1 1588.1L1602.0 1588.6L1598.9 1589.1L1595.9 1589.6L1592.8 1590.1L1589.8 1590.5L1586.7 1591.0L1583.7 1591.4L1580.6 1591.9L1577.5 1592.3L1574.5 1592.7L1571.4 1593.1L1568.4 1593.4L1565.3 1593.8L1562.2 1594.1L1559.2 1594.5L1556.2 1594.8L1553.1 1595.1L1550.1 1595.4L1547.0 1595.7L1544.0 1596.0L1541.0 1596.2L1538.0 1596.5L1534.9 1596.7L1531.9 1597.0L1528.9 1597.2L1525.9 1597.4L1523.0 1597.6L1520.0 1597.8L1517.0 1598.0L1514.1 1598.2L1511.1 1598.4L1508.2 1598.5L1505.2 1598.7L1502.3 1598.8L1499.4 1599.0L1496.5 1599.1L1493.6 1599.3L1490.7 1599.4L1487.9 1599.5L1485.0 1599.6L1482.2 1599.7L1479.4 1599.8L1476.6 1599.9Z" fill="none" stroke="#dd1111" stroke-width="4.0" stroke-linejoin="round" stroke-linecap="butt"/>
<path d="M1476.6 1602.7L1478.1 1600.1L1479.5 1597.5L1480.9 1594.9L1482.3 1592.2L1483.6 1589.6L1485.0 1586.9L1486.3 1584.2L1487.5 1581.6L1488.8 1578.9L1490.0 1576.2L1491.2 1573.4L1492.4 1570.7L1493.6 1568.0L1494.7 1565.3L1495.8 1562.5L1496.9 1559.8L1498.0 1557.0L1499.1 1554.2L1500.2 1551.5L1501.2 1548.7L1502.2 1545.9L1503.3 1543.1L1504.3 1540.3L1505.3 1537.5L1506.3 1534.7L1507.3 1531.9L1508.3 1529.1L1509.2 1526.3L1510.2 1523.5L1511.2 1520.7L1512.2 1517.9L1513.1 1515.1L1514.1 1512.2L1515.1 1509.4L1516.0 1506.6L1517.0 1503.8L1518.0 1500.9L1519.0 1498.1L1520.0 1495.3L1520.9 1492.5L1521.9 1489.6L1523.0 1486.8L1524.0 1484.0L1525.0 1481.2L1526.1 1478.4L1527.1 1475.5L1528.2 1472.7L1529.3 1469.9L1530.4 1467.1L1531.5 1464.3L1532.6 1461.5L1533.7 1458.7L1534.9 1455.9L1536.1 1453.2L1537.3 1450.4L1538.5 1447.6L1539.7 1444.8L1540.9 1442.1L1542.2 1439.3L1543.5 1436.6L1544.8 1433.8L1546.1 1431.1L1547.4 1428.4L1548.8 1425.7L1550.1 1423.0L1551.5 1420.3L1552.9 1417.6L1554.3 1414.9L1555.7 1412.3L1557.2 1409.6L1558.7 1407.0L1560.1 1404.3L1561.6 1401.7L1563.2 1399.1L1564.7 1396.5L1566.3 1393.9L1567.8 1391.4L1569.4 1388.8L1571.1 1386.3L1572.7 1383.7L1574.4 1381.2L1576.0 1378.7L1577.7 1376.3L1579.4 1373.8L1581.2 1371.3L1582.9 1368.9L1584.7 1366.5L1586.5 1364.1L1588.3 1361.7L1590.2 1359.3L1592.0 1357.0L1593.9 1354.7L1595.8 1352.3L1597.7 1350.1L1599.7 1347.8L1601.6 1345.5L1603.6 1343.3L1605.6 1341.1L1607.6 1338.9L1609.7 1336.7L1611.8 1334.6L1613.9 1332.5L1616.0 1330.3L1618.1 1328.3L1620.3 1326.2L1622.4 1324.2L1624.6 1322.2L1626.8 1320.2L1629.1 1318.2L1631.3 1316.3L1633.6 1314.4L1635.9 1312.5L1638.2 1310.6L1640.6 1308.8L1642.9 1307.0L1645.3 1305.2L1647.7 1303.5L1650.1 1301.8L1652.6 1300.1L1655.0 1298.4L1657.5 1296.8L1660.0 1295.2L1662.5 1293.6L1665.1 1292.1L1667.6 1290.6L1670.2 1289.1L1672.8 1287.7L1675.4 1286.2L1678.0 1284.9L1680.7 1283.5L1683.3 1282.2L1686.0 1280.9L1688.7 1279.7L1691.4 1278.5L1694.2 1277.3L1696.9 1276.2L1699.7 1275.1L1702.5 1274.0L1705.3 1272.9L1708.1 1271.9L1710.9 1270.9L1713.7 1269.9L1716.5 1268.9L1719.4 1268.0L1722.3 1267.1L1725.1 1266.2L1728.0 1265.4L1730.9 1264.5L1733.8 1263.7L1736.7 1262.9L1739.6 1262.1L1742.5 1261.4L1745.4 1260.6L1748.3 1259.9L1751.2 1259.2L1754.1 1258.5L1757.0 1257.8L1760.0 1257.2L1762.9 1256.5L1765.8 1255.9L1768.8 1255.3L1771.7 1254.7L1774.7 1254.1L1777.6 1253.5L1780.6 1252.9L1783.5 1252.4L1786.5 1251.8L1789.4 1251.3L1792.4 1250.8L1795.3 1250.3L1798.3 1249.8L1801.3 1249.4L1804.2 1248.9L1807.2 1248.5L1810.2 1248.0L1813.2 1247.6L1816.1 1247.2L1819.1 1246.8L1822.1 1246.4L1825.1 1246.0L1828.1 1245.6L1831.1 1245.2L1834.1 1244.9L1837.1 1244.5L1840.0 1244.2L1843.0 1243.8L1846.0 1243.5L1849.0 1243.2L1852.0 1242.9L1855.0 1242.5L1858.0 1242.2L1861.0 1241.9L1864.0 1241.7L1867.0 1241.4L1870.0 1241.1L1873.0 1240.8L1876.0 1240.6L1879.0 1240.3L1882.1 1240.0L1885.1 1239.8L1888.1 1239.5L1891.1 1239.3L1894.1 1239.0L1897.1 1238.8L1900.1 1238.5L1903.1 1238.3L1906.1 1238.1L1909.1 1237.8L1912.1 1237.6L1915.1 1237.4L1918.1 1237.1L1921.1 1236.9L1924.1 1236.7L1927.1 1236.5L1930.1 1236.2L1933.1 1236.0L1936.1 1235.8L1939.1 1235.5L1942.1 1235.3L1945.1 1235.1L1948.1 1234.8L1951.1 1234.6L1954.1 1234.4L1957.1 1234.1L1960.1 1233.9L1963.1 1233.6L1966.1 1233.4L1969.1 1233.1L1972.1 1232.9L1975.0 1232.6L1978.0 1232.3L1981.0 1232.1L1984.0 1231.8L1986.9 1231.5L1989.9 1231.2L1992.9 1230.9L1995.9 1230.6L1998.8 1230.3L2001.8 1230.0L2004.7 1229.7L2007.7 1229.3L2010.7 1229.0L2013.6 1228.6L2016.6 1228.3L2019.5 1227.9L2022.4 1227.6L2025.4 1227.2L2023.4 1229.5L2021.5 1231.9L2019.7 1234.3L2017.9 1236.8L2016.2 1239.2L2014.5 1241.7L2012.9 1244.2L2011.4 1246.8L2009.9 1249.4L2008.5 1251.9L2007.1 1254.5L2005.7 1257.2L2004.4 1259.8L2003.1 1262.5L2001.9 1265.2L2000.7 1267.9L1999.6 1270.6L1998.4 1273.3L1997.3 1276.1L1996.2 1278.8L1995.2 1281.6L1994.1 1284.4L1993.1 1287.2L1992.1 1290.0L1991.1 1292.8L1990.1 1295.6L1989.2 1298.4L1988.2 1301.2L1987.3 1304.1L1986.3 1306.9L1985.4 1309.7L1984.4 1312.6L1983.5 1315.4L1982.5 1318.3L1981.6 1321.1L1980.6 1324.0L1979.6 1326.8L1978.7 1329.6L1977.7 1332.5L1976.7 1335.3L1975.8 1338.2L1974.8 1341.0L1973.8 1343.9L1972.8 1346.7L1971.8 1349.5L1970.8 1352.4L1969.8 1355.2L1968.8 1358.0L1967.8 1360.9L1966.8 1363.7L1965.7 1366.5L1964.7 1369.3L1963.6 1372.2L1962.6 1375.0L1961.5 1377.8L1960.4 1380.6L1959.3 1383.4L1958.2 1386.2L1957.1 1389.0L1955.9 1391.7L1954.8 1394.5L1953.6 1397.3L1952.4 1400.1L1951.2 1402.8L1950.0 1405.6L1948.8 1408.3L1947.6 1411.0L1946.3 1413.8L1945.1 1416.5L1943.8 1419.2L1942.5 1421.9L1941.1 1424.6L1939.8 1427.3L1938.4 1429.9L1937.1 1432.6L1935.7 1435.3L1934.2 1437.9L1932.8 1440.5L1931.3 1443.1L1929.8 1445.8L1928.3 1448.4L1926.8 1450.9L1925.3 1453.5L1923.7 1456.1L1922.1 1458.6L1920.5 1461.2L1918.8 1463.7L1917.1 1466.2L1915.4 1468.7L1913.7 1471.2L1912.0 1473.6L1910.2 1476.1L1908.4 1478.5L1906.6 1480.9L1904.8 1483.3L1902.9 1485.7L1901.0 1488.1L1899.1 1490.4L1897.2 1492.7L1895.2 1495.0L1893.2 1497.3L1891.2 1499.6L1889.2 1501.8L1887.2 1504.1L1885.1 1506.3L1883.0 1508.5L1880.9 1510.6L1878.8 1512.8L1876.7 1514.9L1874.5 1517.0L1872.3 1519.0L1870.1 1521.1L1867.9 1523.1L1865.6 1525.1L1863.3 1527.0L1861.0 1529.0L1858.7 1530.9L1856.4 1532.8L1854.1 1534.6L1851.7 1536.5L1849.3 1538.3L1846.9 1540.0L1844.5 1541.8L1842.0 1543.5L1839.6 1545.2L1837.1 1546.8L1834.6 1548.4L1832.1 1550.0L1829.6 1551.6L1827.0 1553.1L1824.4 1554.6L1821.9 1556.1L1819.3 1557.5L1816.7 1558.9L1814.0 1560.2L1811.4 1561.5L1808.7 1562.8L1806.0 1564.0L1803.3 1565.3L1800.6 1566.4L1797.9 1567.6L1795.2 1568.7L1792.4 1569.7L1789.6 1570.7L1786.8 1571.7L1784.0 1572.6L1781.2 1573.5L1778.4 1574.4L1775.6 1575.3L1772.7 1576.1L1769.8 1576.8L1767.0 1577.6L1764.1 1578.3L1761.2 1579.0L1758.3 1579.6L1755.3 1580.2L1752.4 1580.8L1749.5 1581.4L1746.5 1581.9L1743.6 1582.5L1740.6 1583.0L1737.6 1583.4L1734.6 1583.9L1731.7 1584.3L1728.7 1584.7L1725.7 1585.1L1722.7 1585.5L1719.6 1585.8L1716.6 1586.2L1713.6 1586.5L1710.6 1586.8L1707.6 1587.1L1704.5 1587.4L1701.5 1587.7L1698.4 1588.0L1695.4 1588.2L1692.4 1588.5L1689.3 1588.7L1686.3 1588.9L1683.2 1589.2L1680.2 1589.4L1677.1 1589.6L1674.1 1589.8L1671.0 1590.0L1668.0 1590.2L1664.9 1590.4L1661.9 1590.6L1658.9 1590.8L1655.8 1591.0L1652.8 1591.3L1649.7 1591.5L1646.7 1591.7L1643.7 1591.9L1640.7 1592.2L1637.7 1592.4L1634.7 1592.7L1631.7 1592.9L1628.7 1593.2L1625.7 1593.4L1622.7 1593.7L1619.7 1594.0L1616.7 1594.3L1613.7 1594.5L1610.7 1594.8L1607.8 1595.1L1604.8 1595.4L1601.8 1595.7L1598.9 1596.0L1595.9 1596.3L1592.9 1596.6L1590.0 1596.9L1587.0 1597.2L1584.1 1597.5L1581.1 1597.8L1578.1 1598.1L1575.2 1598.3L1572.2 1598.6L1569.3 1598.9L1566.3 1599.2L1563.4 1599.4L1560.4 1599.7L1557.5 1600.0L1554.5 1600.2L1551.5 1600.5L1548.6 1600.7L1545.6 1600.9L1542.6 1601.1L1539.7 1601.3L1536.7 1601.5L1533.7 1601.7L1530.8 1601.9L1527.8 1602.1L1524.8 1602.2L1521.8 1602.4L1518.8 1602.5L1515.8 1602.6L1512.8 1602.7L1509.8 1602.8L1506.8 1602.9L1503.8 1602.9L1500.8 1603.0L1497.8 1603.0L1494.8 1603.0L1491.7 1603.0L1488.7 1603.0L1485.7 1602.9L1482.6 1602.9L1479.6 1602.8L1476.5 1602.7Z" fill="none" stroke="#1212cc" stroke-width="4.0" stroke-linejoin="round" stroke-linecap="butt"/>
<path d="M1477.6 1605.6L1479.8 1603.5L1481.9 1601.3L1483.9 1599.1L1485.8 1596.8L1487.6 1594.5L1489.4 1592.1L1491.0 1589.6L1492.6 1587.1L1494.2 1584.5L1495.6 1581.9L1497.0 1579.3L1498.3 1576.6L1499.6 1573.9L1500.8 1571.2L1502.0 1568.4L1503.2 1565.6L1504.3 1562.8L1505.4 1560.0L1506.4 1557.2L1507.5 1554.3L1508.5 1551.5L1509.5 1548.7L1510.5 1545.9L1511.5 1543.0L1512.5 1540.2L1513.5 1537.4L1514.5 1534.7L1515.5 1531.9L1516.5 1529.1L1517.4 1526.3L1518.4 1523.5L1519.4 1520.8L1520.4 1518.0L1521.4 1515.2L1522.4 1512.5L1523.4 1509.7L1524.4 1507.0L1525.4 1504.2L1526.4 1501.5L1527.4 1498.7L1528.5 1496.0L1529.5 1493.2L1530.5 1490.5L1531.6 1487.7L1532.7 1485.0L1533.7 1482.3L1534.8 1479.5L1535.9 1476.7L1537.1 1474.0L1538.2 1471.2L1539.3 1468.5L1540.5 1465.7L1541.7 1463.0L1542.9 1460.2L1544.1 1457.4L1545.3 1454.7L1546.6 1451.9L1547.8 1449.1L1549.1 1446.4L1550.4 1443.6L1551.7 1440.8L1553.0 1438.1L1554.4 1435.3L1555.7 1432.6L1557.1 1429.8L1558.5 1427.1L1559.9 1424.4L1561.3 1421.6L1562.8 1418.9L1564.2 1416.2L1565.7 1413.5L1567.2 1410.8L1568.7 1408.1L1570.3 1405.4L1571.8 1402.8L1573.4 1400.1L1575.0 1397.5L1576.6 1394.9L1578.2 1392.2L1579.8 1389.6L1581.5 1387.0L1583.2 1384.5L1584.9 1381.9L1586.6 1379.4L1588.3 1376.8L1590.1 1374.3L1591.9 1371.8L1593.6 1369.3L1595.5 1366.9L1597.3 1364.4L1599.1 1362.0L1601.0 1359.6L1602.9 1357.2L1604.8 1354.9L1606.7 1352.5L1608.7 1350.2L1610.7 1347.9L1612.6 1345.7L1614.7 1343.4L1616.7 1341.2L1618.7 1339.0L1620.8 1336.8L1622.9 1334.7L1625.0 1332.6L1627.1 1330.5L1629.3 1328.4L1631.5 1326.4L1633.7 1324.4L1635.9 1322.4L1638.1 1320.5L1640.4 1318.6L1642.7 1316.7L1645.0 1314.8L1647.3 1313.0L1649.6 1311.2L1652.0 1309.5L1654.4 1307.7L1656.8 1306.1L1659.2 1304.4L1661.7 1302.7L1664.1 1301.1L1666.6 1299.6L1669.1 1298.0L1671.6 1296.5L1674.1 1295.0L1676.7 1293.5L1679.3 1292.1L1681.8 1290.7L1684.4 1289.3L1687.1 1287.9L1689.7 1286.6L1692.3 1285.3L1695.0 1284.0L1697.7 1282.7L1700.4 1281.5L1703.1 1280.3L1705.8 1279.1L1708.5 1277.9L1711.3 1276.8L1714.0 1275.7L1716.8 1274.6L1719.6 1273.5L1722.4 1272.4L1725.2 1271.4L1728.0 1270.4L1730.8 1269.4L1733.6 1268.4L1736.5 1267.5L1739.3 1266.5L1742.2 1265.6L1745.1 1264.8L1748.0 1263.9L1750.8 1263.0L1753.7 1262.2L1756.6 1261.4L1759.6 1260.6L1762.5 1259.8L1765.4 1259.0L1768.3 1258.3L1771.3 1257.6L1774.2 1256.8L1777.1 1256.1L1780.1 1255.5L1783.1 1254.8L1786.0 1254.1L1789.0 1253.5L1791.9 1252.9L1794.9 1252.3L1797.9 1251.7L1800.9 1251.1L1803.8 1250.5L1806.8 1249.9L1809.8 1249.4L1812.8 1248.8L1815.8 1248.3L1818.7 1247.8L1821.7 1247.3L1824.7 1246.8L1827.7 1246.3L1830.7 1245.9L1833.7 1245.4L1836.6 1244.9L1839.6 1244.5L1842.6 1244.1L1845.6 1243.6L1848.6 1243.2L1851.6 1242.8L1854.6 1242.4L1857.6 1242.0L1860.5 1241.7L1863.5 1241.3L1866.5 1240.9L1869.5 1240.6L1872.5 1240.2L1875.5 1239.9L1878.5 1239.6L1881.5 1239.2L1884.5 1238.9L1887.5 1238.6L1890.5 1238.3L1893.4 1238.0L1896.4 1237.7L1899.4 1237.4L1902.4 1237.1L1905.4 1236.9L1908.4 1236.6L1911.4 1236.3L1914.4 1236.1L1917.4 1235.8L1920.4 1235.6L1923.4 1235.3L1926.4 1235.1L1929.4 1234.9L1932.4 1234.6L1935.4 1234.4L1938.3 1234.2L1941.3 1233.9L1944.3 1233.7L1947.3 1233.5L1950.3 1233.3L1953.3 1233.1L1956.3 1232.9L1959.3 1232.7L1962.3 1232.5L1965.3 1232.3L1968.3 1232.1L1971.3 1231.9L1974.3 1231.7L1977.3 1231.5L1980.3 1231.3L1983.3 1231.1L1986.3 1230.9L1989.3 1230.7L1992.3 1230.5L1995.3 1230.3L1998.3 1230.2L2001.3 1230.0L2004.2 1229.8L2007.2 1229.6L2010.2 1229.4L2013.2 1229.2L2016.2 1229.0L2019.2 1228.8L2022.2 1228.6L2025.2 1228.4L2028.2 1228.2L2031.2 1228.0L2034.2 1227.8L2037.2 1227.6L2040.2 1227.4L2043.2 1227.1L2046.2 1226.9L2049.2 1226.7L2052.2 1226.5L2055.2 1226.2L2058.2 1226.0L2061.1 1225.8L2064.1 1225.5L2067.1 1225.3L2070.1 1225.0L2073.1 1224.8L2076.1 1224.5L2079.1 1224.3L2082.1 1224.0L2085.1 1223.7L2088.1 1223.4L2091.1 1223.1L2094.1 1222.8L2097.0 1222.5L2100.0 1222.2L2103.0 1221.9L2106.0 1221.6L2109.0 1221.3L2112.0 1220.9L2115.0 1220.6L2118.0 1220.2L2120.9 1219.9L2123.9 1219.5L2126.9 1219.1L2129.9 1218.8L2132.9 1218.4L2135.9 1218.0L2138.9 1217.6L2141.8 1217.1L2144.8 1216.7L2147.8 1216.3L2150.8 1215.8L2153.8 1215.4L2156.8 1214.9L2159.7 1214.4L2162.7 1214.0L2165.7 1213.5L2162.5 1214.3L2159.3 1215.1L2156.1 1216.0L2153.1 1217.0L2150.1 1218.1L2147.1 1219.3L2144.3 1220.5L2141.5 1221.8L2138.8 1223.2L2136.1 1224.6L2133.5 1226.1L2131.0 1227.7L2128.5 1229.4L2126.1 1231.1L2123.8 1232.9L2121.5 1234.7L2119.3 1236.6L2117.2 1238.6L2115.0 1240.6L2113.0 1242.7L2111.0 1244.8L2109.1 1247.0L2107.2 1249.2L2105.4 1251.5L2103.6 1253.8L2101.9 1256.1L2100.2 1258.5L2098.6 1261.0L2097.0 1263.4L2095.5 1265.9L2094.0 1268.5L2092.5 1271.1L2091.1 1273.7L2089.7 1276.3L2088.4 1278.9L2087.1 1281.6L2085.8 1284.3L2084.5 1287.0L2083.3 1289.8L2082.1 1292.5L2080.9 1295.3L2079.7 1298.0L2078.5 1300.8L2077.3 1303.6L2076.2 1306.3L2075.0 1309.1L2073.9 1311.9L2072.7 1314.7L2071.6 1317.5L2070.5 1320.3L2069.3 1323.1L2068.2 1325.9L2067.1 1328.7L2066.0 1331.4L2064.9 1334.2L2063.8 1337.0L2062.7 1339.8L2061.6 1342.6L2060.4 1345.4L2059.3 1348.2L2058.2 1351.0L2057.1 1353.8L2056.0 1356.6L2054.8 1359.4L2053.7 1362.2L2052.6 1364.9L2051.4 1367.7L2050.3 1370.5L2049.1 1373.3L2047.9 1376.0L2046.8 1378.8L2045.6 1381.5L2044.4 1384.3L2043.2 1387.0L2042.0 1389.8L2040.7 1392.5L2039.5 1395.2L2038.2 1398.0L2037.0 1400.7L2035.7 1403.4L2034.4 1406.1L2033.1 1408.8L2031.7 1411.5L2030.4 1414.1L2029.0 1416.8L2027.6 1419.5L2026.2 1422.1L2024.8 1424.7L2023.4 1427.4L2021.9 1430.0L2020.5 1432.6L2019.0 1435.2L2017.5 1437.8L2016.0 1440.4L2014.4 1443.0L2012.9 1445.6L2011.3 1448.2L2009.8 1450.7L2008.2 1453.3L2006.6 1455.8L2004.9 1458.4L2003.3 1460.9L2001.6 1463.4L2000.0 1465.9L1998.3 1468.4L1996.6 1470.9L1994.8 1473.4L1993.1 1475.9L1991.3 1478.3L1989.6 1480.8L1987.8 1483.2L1986.0 1485.7L1984.2 1488.1L1982.3 1490.5L1980.5 1493.0L1978.6 1495.4L1976.7 1497.8L1974.8 1500.2L1972.9 1502.5L1971.0 1504.9L1969.0 1507.2L1967.0 1509.5L1965.0 1511.9L1963.0 1514.1L1961.0 1516.4L1959.0 1518.7L1956.9 1520.9L1954.8 1523.1L1952.7 1525.3L1950.6 1527.4L1948.4 1529.5L1946.3 1531.6L1944.1 1533.7L1941.9 1535.7L1939.6 1537.7L1937.4 1539.7L1935.1 1541.6L1932.8 1543.5L1930.5 1545.4L1928.1 1547.2L1925.8 1549.0L1923.4 1550.8L1921.0 1552.5L1918.5 1554.1L1916.1 1555.7L1913.6 1557.3L1911.1 1558.8L1908.6 1560.3L1906.0 1561.7L1903.4 1563.1L1900.8 1564.4L1898.2 1565.7L1895.5 1566.9L1892.8 1568.1L1890.1 1569.2L1887.4 1570.3L1884.6 1571.3L1881.8 1572.3L1879.0 1573.2L1876.2 1574.1L1873.4 1574.9L1870.5 1575.7L1867.6 1576.4L1864.7 1577.2L1861.8 1577.9L1858.9 1578.5L1855.9 1579.1L1853.0 1579.7L1850.0 1580.3L1847.0 1580.8L1844.0 1581.3L1841.0 1581.8L1838.0 1582.3L1835.0 1582.7L1832.0 1583.1L1829.0 1583.5L1825.9 1583.9L1822.9 1584.3L1819.9 1584.7L1816.8 1585.0L1813.8 1585.4L1810.7 1585.7L1807.7 1586.0L1804.6 1586.4L1801.6 1586.7L1798.6 1587.0L1795.5 1587.3L1792.5 1587.6L1789.5 1587.9L1786.4 1588.3L1783.4 1588.6L1780.4 1588.9L1777.4 1589.2L1774.3 1589.5L1771.3 1589.8L1768.3 1590.0L1765.3 1590.3L1762.3 1590.6L1759.3 1590.9L1756.2 1591.2L1753.2 1591.5L1750.2 1591.7L1747.2 1592.0L1744.2 1592.3L1741.2 1592.5L1738.2 1592.8L1735.2 1593.0L1732.2 1593.3L1729.2 1593.6L1726.2 1593.8L1723.2 1594.1L1720.2 1594.3L1717.2 1594.5L1714.2 1594.8L1711.2 1595.0L1708.2 1595.2L1705.2 1595.5L1702.2 1595.7L1699.3 1595.9L1696.3 1596.2L1693.3 1596.4L1690.3 1596.6L1687.3 1596.8L1684.3 1597.0L1681.3 1597.2L1678.3 1597.4L1675.4 1597.6L1672.4 1597.8L1669.4 1598.0L1666.4 1598.2L1663.4 1598.4L1660.4 1598.6L1657.4 1598.8L1654.5 1599.0L1651.5 1599.2L1648.5 1599.3L1645.5 1599.5L1642.5 1599.7L1639.5 1599.9L1636.6 1600.0L1633.6 1600.2L1630.6 1600.4L1627.6 1600.5L1624.6 1600.7L1621.7 1600.8L1618.7 1601.0L1615.7 1601.1L1612.7 1601.3L1609.7 1601.4L1606.7 1601.6L1603.7 1601.7L1600.8 1601.8L1597.8 1602.0L1594.8 1602.1L1591.8 1602.2L1588.8 1602.4L1585.8 1602.5L1582.8 1602.6L1579.8 1602.8L1576.9 1602.9L1573.9 1603.0L1570.9 1603.1L1567.9 1603.2L1564.9 1603.3L1561.9 1603.4L1558.9 1603.5L1555.9 1603.6L1552.9 1603.7L1549.9 1603.8L1546.9 1603.9L1543.9 1604.0L1540.9 1604.1L1537.9 1604.2L1534.9 1604.3L1531.9 1604.4L1528.9 1604.5L1525.9 1604.5L1522.8 1604.6L1519.8 1604.7L1516.8 1604.8L1513.8 1604.8L1510.8 1604.9L1507.8 1605.0L1504.8 1605.0L1501.7 1605.1L1498.7 1605.2L1495.7 1605.2L1492.7 1605.3L1489.6 1605.3L1486.6 1605.4L1483.6 1605.4L1480.5 1605.5L1477.5 1605.5Z" fill="none" stroke="#dc28dc" stroke-width="3.6" stroke-linejoin="round" stroke-linecap="butt"/>
<rect x="139.5" y="160.0" width="917.5" height="680.7" fill="none" stroke="#333" stroke-width="3.5"/>
<path d="M231.2 840.7v14 M414.8 840.7v14 M598.2 840.7v14 M781.8 840.7v14 M965.2 840.7v14 M139.5 840.7v7.5 M323.0 840.7v7.5 M506.5 840.7v7.5 M690.0 840.7v7.5 M873.5 840.7v7.5 M1057.0 840.7v7.5 M139.5 840.7h-14 M139.5 772.6h-14 M139.5 704.6h-14 M139.5 636.5h-14 M139.5 568.4h-14 M139.5 500.4h-14 M139.5 432.3h-14 M139.5 364.2h-14 M139.5 296.1h-14 M139.5 228.1h-14 M139.5 160.0h-14 M139.5 806.7h-7.5 M139.5 738.6h-7.5 M139.5 670.5h-7.5 M139.5 602.5h-7.5 M139.5 534.4h-7.5 M139.5 466.3h-7.5 M139.5 398.2h-7.5 M139.5 330.2h-7.5 M139.5 262.1h-7.5 M139.5 194.0h-7.5" stroke="#333" stroke-width="3.5" fill="none"/>
<text x="231.2" y="886.5" text-anchor="middle" font-family="'Liberation Sans', Arial, sans-serif" font-size="31" fill="#222" stroke="#222" stroke-width="0.5">0.0</text>
<text x="414.8" y="886.5" text-anchor="middle" font-family="'Liberation Sans', Arial, sans-serif" font-size="31" fill="#222" stroke="#222" stroke-width="0.5">0.2</text>
<text x="598.2" y="886.5" text-anchor="middle" font-family="'Liberation Sans', Arial, sans-serif" font-size="31" fill="#222" stroke="#222" stroke-width="0.5">0.4</text>
<text x="781.8" y="886.5" text-anchor="middle" font-family="'Liberation Sans', Arial, sans-serif" font-size="31" fill="#222" stroke="#222" stroke-width="0.5">0.6</text>
<text x="965.2" y="886.5" text-anchor="middle" font-family="'Liberation Sans', Arial, sans-serif" font-size="31" fill="#222" stroke="#222" stroke-width="0.5">0.8</text>
<text x="117.5" y="850.4" text-anchor="end" font-family="'Liberation Sans', Arial, sans-serif" font-size="31" fill="#222" stroke="#222" stroke-width="0.5">-5</text>
<text x="117.5" y="782.3" text-anchor="end" font-family="'Liberation Sans', Arial, sans-serif" font-size="31" fill="#222" stroke="#222" stroke-width="0.5">-4</text>
<text x="117.5" y="714.2" text-anchor="end" font-family="'Liberation Sans', Arial, sans-serif" font-size="31" fill="#222" stroke="#222" stroke-width="0.5">-3</text>
<text x="117.5" y="646.1" text-anchor="end" font-family="'Liberation Sans', Arial, sans-serif" font-size="31" fill="#222" stroke="#222" stroke-width="0.5">-2</text>
<text x="117.5" y="578.1" text-anchor="end" font-family="'Liberation Sans', Arial, sans-serif" font-size="31" fill="#222" stroke="#222" stroke-width="0.5">-1</text>
<text x="117.5" y="510.0" text-anchor="end" font-family="'Liberation Sans', Arial, sans-serif" font-size="31" fill="#222" stroke="#222" stroke-width="0.5">0</text>
<text x="117.5" y="441.9" text-anchor="end" font-family="'Liberation Sans', Arial, sans-serif" font-size="31" fill="#222" stroke="#222" stroke-width="0.5">1</text>
<text x="117.5" y="373.9" text-anchor="end" font-family="'Liberation Sans', Arial, sans-serif" font-size="31" fill="#222" stroke="#222" stroke-width="0.5">2</text>
<text x="117.5" y="305.8" text-anchor="end" font-family="'Liberation Sans', Arial, sans-serif" font-size="31" fill="#222" stroke="#222" stroke-width="0.5">3</text>
<text x="117.5" y="237.7" text-anchor="end" font-family="'Liberation Sans', Arial, sans-serif" font-size="31" fill="#222" stroke="#222" stroke-width="0.5">4</text>
<text x="117.5" y="169.7" text-anchor="end" font-family="'Liberation Sans', Arial, sans-serif" font-size="31" fill="#222" stroke="#222" stroke-width="0.5">5</text>
<rect x="1399.0" y="154.9" width="841.4" height="624.5" fill="none" stroke="#333" stroke-width="3"/>
<path d="M1483.1 779.4v14 M1651.4 779.4v14 M1819.7 779.4v14 M1988.0 779.4v14 M2156.3 779.4v14 M1399.0 779.4v7.5 M1567.3 779.4v7.5 M1735.6 779.4v7.5 M1903.8 779.4v7.5 M2072.1 779.4v7.5 M2240.4 779.4v7.5 M1399.0 779.4h-14 M1399.0 716.9h-14 M1399.0 654.5h-14 M1399.0 592.0h-14 M1399.0 529.6h-14 M1399.0 467.1h-14 M1399.0 404.7h-14 M1399.0 342.2h-14 M1399.0 279.8h-14 M1399.0 217.3h-14 M1399.0 154.9h-14 M1399.0 748.2h-7.5 M1399.0 685.7h-7.5 M1399.0 623.3h-7.5 M1399.0 560.8h-7.5 M1399.0 498.4h-7.5 M1399.0 435.9h-7.5 M1399.0 373.5h-7.5 M1399.0 311.0h-7.5 M1399.0 248.6h-7.5 M1399.0 186.1h-7.5" stroke="#333" stroke-width="3" fill="none"/>
<text x="1483.1" y="821.5" text-anchor="middle" font-family="'Liberation Sans', Arial, sans-serif" font-size="28" fill="#222" stroke="#222" stroke-width="0.5">0.0</text>
<text x="1651.4" y="821.5" text-anchor="middle" font-family="'Liberation Sans', Arial, sans-serif" font-size="28" fill="#222" stroke="#222" stroke-width="0.5">0.2</text>
<text x="1819.7" y="821.5" text-anchor="middle" font-family="'Liberation Sans', Arial, sans-serif" font-size="28" fill="#222" stroke="#222" stroke-width="0.5">0.4</text>
<text x="1988.0" y="821.5" text-anchor="middle" font-family="'Liberation Sans', Arial, sans-serif" font-size="28" fill="#222" stroke="#222" stroke-width="0.5">0.6</text>
<text x="2156.3" y="821.5" text-anchor="middle" font-family="'Liberation Sans', Arial, sans-serif" font-size="28" fill="#222" stroke="#222" stroke-width="0.5">0.8</text>
<text x="1378.5" y="788.0" text-anchor="end" font-family="'Liberation Sans', Arial, sans-serif" font-size="28" fill="#222" stroke="#222" stroke-width="0.5">-5</text>
<text x="1378.5" y="725.5" text-anchor="end" font-family="'Liberation Sans', Arial, sans-serif" font-size="28" fill="#222" stroke="#222" stroke-width="0.5">-4</text>
<text x="1378.5" y="663.1" text-anchor="end" font-family="'Liberation Sans', Arial, sans-serif" font-size="28" fill="#222" stroke="#222" stroke-width="0.5">-3</text>
<text x="1378.5" y="600.6" text-anchor="end" font-family="'Liberation Sans', Arial, sans-serif" font-size="28" fill="#222" stroke="#222" stroke-width="0.5">-2</text>
<text x="1378.5" y="538.2" text-anchor="end" font-family="'Liberation Sans', Arial, sans-serif" font-size="28" fill="#222" stroke="#222" stroke-width="0.5">-1</text>
<text x="1378.5" y="475.7" text-anchor="end" font-family="'Liberation Sans', Arial, sans-serif" font-size="28" fill="#222" stroke="#222" stroke-width="0.5">0</text>
<text x="1378.5" y="413.3" text-anchor="end" font-family="'Liberation Sans', Arial, sans-serif" font-size="28" fill="#222" stroke="#222" stroke-width="0.5">1</text>
<text x="1378.5" y="350.8" text-anchor="end" font-family="'Liberation Sans', Arial, sans-serif" font-size="28" fill="#222" stroke="#222" stroke-width="0.5">2</text>
<text x="1378.5" y="288.4" text-anchor="end" font-family="'Liberation Sans', Arial, sans-serif" font-size="28" fill="#222" stroke="#222" stroke-width="0.5">3</text>
<text x="1378.5" y="225.9" text-anchor="end" font-family="'Liberation Sans', Arial, sans-serif" font-size="28" fill="#222" stroke="#222" stroke-width="0.5">4</text>
<text x="1378.5" y="163.5" text-anchor="end" font-family="'Liberation Sans', Arial, sans-serif" font-size="28" fill="#222" stroke="#222" stroke-width="0.5">5</text>
<rect x="149.8" y="1094.7" width="909.0" height="648.8" fill="none" stroke="#333" stroke-width="3"/>
<path d="M240.7 1743.5v14 M422.5 1743.5v14 M604.3 1743.5v14 M786.1 1743.5v14 M967.9 1743.5v14 M149.8 1743.5v7.5 M331.6 1743.5v7.5 M513.4 1743.5v7.5 M695.2 1743.5v7.5 M877.0 1743.5v7.5 M1058.8 1743.5v7.5 M149.8 1707.5h-14 M149.8 1635.4h-14 M149.8 1563.3h-14 M149.8 1491.2h-14 M149.8 1419.1h-14 M149.8 1347.0h-14 M149.8 1274.9h-14 M149.8 1202.8h-14 M149.8 1130.7h-14 M149.8 1743.5h-7.5 M149.8 1671.4h-7.5 M149.8 1599.3h-7.5 M149.8 1527.2h-7.5 M149.8 1455.1h-7.5 M149.8 1383.1h-7.5 M149.8 1311.0h-7.5 M149.8 1238.9h-7.5 M149.8 1166.8h-7.5 M149.8 1094.7h-7.5" stroke="#333" stroke-width="3" fill="none"/>
<text x="240.7" y="1786.5" text-anchor="middle" font-family="'Liberation Sans', Arial, sans-serif" font-size="29" fill="#222" stroke="#222" stroke-width="0.5">0.0</text>
<text x="422.5" y="1786.5" text-anchor="middle" font-family="'Liberation Sans', Arial, sans-serif" font-size="29" fill="#222" stroke="#222" stroke-width="0.5">0.2</text>
<text x="604.3" y="1786.5" text-anchor="middle" font-family="'Liberation Sans', Arial, sans-serif" font-size="29" fill="#222" stroke="#222" stroke-width="0.5">0.4</text>
<text x="786.1" y="1786.5" text-anchor="middle" font-family="'Liberation Sans', Arial, sans-serif" font-size="29" fill="#222" stroke="#222" stroke-width="0.5">0.6</text>
<text x="967.9" y="1786.5" text-anchor="middle" font-family="'Liberation Sans', Arial, sans-serif" font-size="29" fill="#222" stroke="#222" stroke-width="0.5">0.8</text>
<text x="126.5" y="1716.4" text-anchor="end" font-family="'Liberation Sans', Arial, sans-serif" font-size="29" fill="#222" stroke="#222" stroke-width="0.5">-4</text>
<text x="126.5" y="1644.3" text-anchor="end" font-family="'Liberation Sans', Arial, sans-serif" font-size="29" fill="#222" stroke="#222" stroke-width="0.5">-3</text>
<text x="126.5" y="1572.2" text-anchor="end" font-family="'Liberation Sans', Arial, sans-serif" font-size="29" fill="#222" stroke="#222" stroke-width="0.5">-2</text>
<text x="126.5" y="1500.1" text-anchor="end" font-family="'Liberation Sans', Arial, sans-serif" font-size="29" fill="#222" stroke="#222" stroke-width="0.5">-1</text>
<text x="126.5" y="1428.0" text-anchor="end" font-family="'Liberation Sans', Arial, sans-serif" font-size="29" fill="#222" stroke="#222" stroke-width="0.5">0</text>
<text x="126.5" y="1356.0" text-anchor="end" font-family="'Liberation Sans', Arial, sans-serif" font-size="29" fill="#222" stroke="#222" stroke-width="0.5">1</text>
<text x="126.5" y="1283.9" text-anchor="end" font-family="'Liberation Sans', Arial, sans-serif" font-size="29" fill="#222" stroke="#222" stroke-width="0.5">2</text>
<text x="126.5" y="1211.8" text-anchor="end" font-family="'Liberation Sans', Arial, sans-serif" font-size="29" fill="#222" stroke="#222" stroke-width="0.5">3</text>
<text x="126.5" y="1139.7" text-anchor="end" font-family="'Liberation Sans', Arial, sans-serif" font-size="29" fill="#222" stroke="#222" stroke-width="0.5">4</text>
<rect x="1408.2" y="1095.2" width="893.0" height="647.7" fill="none" stroke="#333" stroke-width="3"/>
<path d="M1476.9 1742.9v14 M1614.3 1742.9v14 M1751.7 1742.9v14 M1889.0 1742.9v14 M2026.4 1742.9v14 M2163.8 1742.9v14 M2301.2 1742.9v14 M1408.2 1742.9v7.5 M1545.6 1742.9v7.5 M1683.0 1742.9v7.5 M1820.4 1742.9v7.5 M1957.7 1742.9v7.5 M2095.1 1742.9v7.5 M2232.5 1742.9v7.5 M1408.2 1742.9h-14 M1408.2 1635.0h-14 M1408.2 1527.0h-14 M1408.2 1419.1h-14 M1408.2 1311.1h-14 M1408.2 1203.2h-14 M1408.2 1095.2h-14 M1408.2 1688.9h-7.5 M1408.2 1581.0h-7.5 M1408.2 1473.0h-7.5 M1408.2 1365.1h-7.5 M1408.2 1257.1h-7.5 M1408.2 1149.2h-7.5" stroke="#333" stroke-width="3" fill="none"/>
<text x="1476.9" y="1787.0" text-anchor="middle" font-family="'Liberation Sans', Arial, sans-serif" font-size="30" fill="#222" stroke="#222" stroke-width="0.5">0.0</text>
<text x="1614.3" y="1787.0" text-anchor="middle" font-family="'Liberation Sans', Arial, sans-serif" font-size="30" fill="#222" stroke="#222" stroke-width="0.5">0.2</text>
<text x="1751.7" y="1787.0" text-anchor="middle" font-family="'Liberation Sans', Arial, sans-serif" font-size="30" fill="#222" stroke="#222" stroke-width="0.5">0.4</text>
<text x="1889.0" y="1787.0" text-anchor="middle" font-family="'Liberation Sans', Arial, sans-serif" font-size="30" fill="#222" stroke="#222" stroke-width="0.5">0.6</text>
<text x="2026.4" y="1787.0" text-anchor="middle" font-family="'Liberation Sans', Arial, sans-serif" font-size="30" fill="#222" stroke="#222" stroke-width="0.5">0.8</text>
<text x="2163.8" y="1787.0" text-anchor="middle" font-family="'Liberation Sans', Arial, sans-serif" font-size="30" fill="#222" stroke="#222" stroke-width="0.5">1.0</text>
<text x="2301.2" y="1787.0" text-anchor="middle" font-family="'Liberation Sans', Arial, sans-serif" font-size="30" fill="#222" stroke="#222" stroke-width="0.5">1.2</text>
<text x="1385.5" y="1752.2" text-anchor="end" font-family="'Liberation Sans', Arial, sans-serif" font-size="30" fill="#222" stroke="#222" stroke-width="0.5">-6</text>
<text x="1385.5" y="1644.2" text-anchor="end" font-family="'Liberation Sans', Arial, sans-serif" font-size="30" fill="#222" stroke="#222" stroke-width="0.5">-4</text>
<text x="1385.5" y="1536.3" text-anchor="end" font-family="'Liberation Sans', Arial, sans-serif" font-size="30" fill="#222" stroke="#222" stroke-width="0.5">-2</text>
<text x="1385.5" y="1428.4" text-anchor="end" font-family="'Liberation Sans', Arial, sans-serif" font-size="30" fill="#222" stroke="#222" stroke-width="0.5">0</text>
<text x="1385.5" y="1320.4" text-anchor="end" font-family="'Liberation Sans', Arial, sans-serif" font-size="30" fill="#222" stroke="#222" stroke-width="0.5">2</text>
<text x="1385.5" y="1212.5" text-anchor="end" font-family="'Liberation Sans', Arial, sans-serif" font-size="30" fill="#222" stroke="#222" stroke-width="0.5">4</text>
<text x="1385.5" y="1104.5" text-anchor="end" font-family="'Liberation Sans', Arial, sans-serif" font-size="30" fill="#222" stroke="#222" stroke-width="0.5">6</text>
<line x1="827.5" y1="675.2" x2="879.5" y2="675.2" stroke="#000" stroke-width="4.5" stroke-linecap="round"/>
<text x="893.5" y="685.7" font-family="'Liberation Serif', 'Times New Roman', serif" font-size="25.5" fill="#222" stroke="#222" stroke-width="0.35">CNP</text>
<line x1="827.5" y1="706.7" x2="888.5" y2="706.7" stroke="#007000" stroke-width="4.5" stroke-linecap="round"/>
<text x="893.5" y="717.2" font-family="'Liberation Serif', 'Times New Roman', serif" font-size="25.5" fill="#222" stroke="#222" stroke-width="0.35">AN/SAN=0.5</text>
<line x1="827.5" y1="738.8" x2="888.5" y2="738.8" stroke="#ff0000" stroke-width="4.5" stroke-linecap="round"/>
<text x="893.5" y="749.3" font-family="'Liberation Serif', 'Times New Roman', serif" font-size="25.5" fill="#222" stroke="#222" stroke-width="0.35">AN/SAN=1</text>
<line x1="827.5" y1="770.4" x2="888.5" y2="770.4" stroke="#0000ff" stroke-width="4.5" stroke-linecap="round"/>
<text x="893.5" y="780.9" font-family="'Liberation Serif', 'Times New Roman', serif" font-size="25.5" fill="#222" stroke="#222" stroke-width="0.35">AN/SAN=2.3</text>
<line x1="827.5" y1="802.2" x2="888.5" y2="802.2" stroke="#ff00ff" stroke-width="4.5" stroke-linecap="round"/>
<text x="893.5" y="812.7" font-family="'Liberation Serif', 'Times New Roman', serif" font-size="25.5" fill="#222" stroke="#222" stroke-width="0.35">AN/SAN=4</text>
<line x1="2029" y1="627.8" x2="2078.5" y2="627.8" stroke="#000" stroke-width="4.5" stroke-linecap="round"/>
<text x="2090.5" y="636.3" font-family="'Liberation Serif', 'Times New Roman', serif" font-size="23.3" fill="#222" stroke="#222" stroke-width="0.35">CNP</text>
<line x1="2029" y1="657" x2="2085.7" y2="657" stroke="#007000" stroke-width="4.5" stroke-linecap="round"/>
<text x="2090.5" y="665.5" font-family="'Liberation Serif', 'Times New Roman', serif" font-size="23.3" fill="#222" stroke="#222" stroke-width="0.35">AN/SAN=0.5</text>
<line x1="2029" y1="686.3" x2="2085.7" y2="686.3" stroke="#ff0000" stroke-width="4.5" stroke-linecap="round"/>
<text x="2090.5" y="694.8" font-family="'Liberation Serif', 'Times New Roman', serif" font-size="23.3" fill="#222" stroke="#222" stroke-width="0.35">AN/SAN=1</text>
<line x1="2029" y1="715.2" x2="2085.7" y2="715.2" stroke="#0000ff" stroke-width="4.5" stroke-linecap="round"/>
<text x="2090.5" y="723.7" font-family="'Liberation Serif', 'Times New Roman', serif" font-size="23.3" fill="#222" stroke="#222" stroke-width="0.35">AN/SAN=2.3</text>
<line x1="2029" y1="744.4" x2="2085.7" y2="744.4" stroke="#ff00ff" stroke-width="4.5" stroke-linecap="round"/>
<text x="2090.5" y="752.9" font-family="'Liberation Serif', 'Times New Roman', serif" font-size="23.3" fill="#222" stroke="#222" stroke-width="0.35">AN/SAN=4</text>
<line x1="869.5" y1="1517.8" x2="929" y2="1517.8" stroke="#222" stroke-width="4.5" stroke-linecap="round"/>
<text x="936.5" y="1525.8" font-family="'Liberation Serif', 'Times New Roman', serif" font-size="25" fill="#222" stroke="#222" stroke-width="0.35">10 mVs<tspan dy="-8" font-size="14">-1</tspan></text>
<line x1="869.5" y1="1551.4" x2="929" y2="1551.4" stroke="#ee2222" stroke-width="4.5" stroke-linecap="round"/>
<text x="936.5" y="1559.4" font-family="'Liberation Serif', 'Times New Roman', serif" font-size="25" fill="#222" stroke="#222" stroke-width="0.35">25 mVs<tspan dy="-8" font-size="14">-1</tspan></text>
<line x1="869.5" y1="1585.2" x2="929" y2="1585.2" stroke="#1111ee" stroke-width="4.5" stroke-linecap="round"/>
<text x="936.5" y="1593.2" font-family="'Liberation Serif', 'Times New Roman', serif" font-size="25" fill="#222" stroke="#222" stroke-width="0.35">50 mVs<tspan dy="-8" font-size="14">-1</tspan></text>
<line x1="869.5" y1="1618.7" x2="929" y2="1618.7" stroke="#ee22ee" stroke-width="4.5" stroke-linecap="round"/>
<text x="936.5" y="1626.7" font-family="'Liberation Serif', 'Times New Roman', serif" font-size="25" fill="#222" stroke="#222" stroke-width="0.35">75 mVs<tspan dy="-8" font-size="14">-1</tspan></text>
<line x1="869.5" y1="1652.5" x2="929" y2="1652.5" stroke="#1a8a1a" stroke-width="4.5" stroke-linecap="round"/>
<text x="936.5" y="1660.5" font-family="'Liberation Serif', 'Times New Roman', serif" font-size="25" fill="#222" stroke="#222" stroke-width="0.35">100 mVs<tspan dy="-8" font-size="14">-1</tspan></text>
<line x1="869.5" y1="1686.3" x2="929" y2="1686.3" stroke="#2a2a8a" stroke-width="4.5" stroke-linecap="round"/>
<text x="936.5" y="1694.3" font-family="'Liberation Serif', 'Times New Roman', serif" font-size="25" fill="#222" stroke="#222" stroke-width="0.35">125 mVs<tspan dy="-8" font-size="14">-1</tspan></text>
<line x1="2130" y1="1578.7" x2="2190" y2="1578.7" stroke="#000" stroke-width="4.3" stroke-linecap="round"/>
<text x="2195.5" y="1587.0" font-family="'Liberation Serif', 'Times New Roman', serif" font-size="25" fill="#222" stroke="#222" stroke-width="0.35" textLength="74" lengthAdjust="spacingAndGlyphs">0-0.2 V</text>
<line x1="2130" y1="1608.7" x2="2190" y2="1608.7" stroke="#1a6e1a" stroke-width="4.3" stroke-linecap="round"/>
<text x="2195.5" y="1617.0" font-family="'Liberation Serif', 'Times New Roman', serif" font-size="25" fill="#222" stroke="#222" stroke-width="0.35" textLength="74" lengthAdjust="spacingAndGlyphs">0-0.4 V</text>
<line x1="2130" y1="1639.3" x2="2190" y2="1639.3" stroke="#dd0000" stroke-width="5.6" stroke-linecap="round"/>
<text x="2195.5" y="1647.6" font-family="'Liberation Serif', 'Times New Roman', serif" font-size="25" fill="#222" stroke="#222" stroke-width="0.35" textLength="74" lengthAdjust="spacingAndGlyphs">0-0.6 V</text>
<line x1="2130" y1="1669.1" x2="2190" y2="1669.1" stroke="#1010c8" stroke-width="4.6" stroke-linecap="round"/>
<text x="2195.5" y="1677.4" font-family="'Liberation Serif', 'Times New Roman', serif" font-size="25" fill="#222" stroke="#222" stroke-width="0.35" textLength="74" lengthAdjust="spacingAndGlyphs">0-0.8 V</text>
<line x1="2130" y1="1699.5" x2="2190" y2="1699.5" stroke="#c030c0" stroke-width="4.3" stroke-linecap="round"/>
<text x="2195.5" y="1707.8" font-family="'Liberation Serif', 'Times New Roman', serif" font-size="25" fill="#222" stroke="#222" stroke-width="0.35" textLength="74" lengthAdjust="spacingAndGlyphs">0-1.0 V</text>
<text x="17" y="77.5" font-family="'Liberation Serif', 'Times New Roman', serif" font-size="80" fill="#000">(a)</text>
<text x="1324" y="78" font-family="'Liberation Serif', 'Times New Roman', serif" font-size="80" fill="#000">(b)</text>
<text x="17.5" y="1026.5" font-family="'Liberation Serif', 'Times New Roman', serif" font-size="80" fill="#000">(c)</text>
<text x="1324" y="1028" font-family="'Liberation Serif', 'Times New Roman', serif" font-size="80" fill="#000">(d)</text>
<text x="599" y="941.8" text-anchor="middle" font-family="'Liberation Serif', 'Times New Roman', serif" font-size="35" fill="#222" stroke="#222" stroke-width="0.4" textLength="180" lengthAdjust="spacingAndGlyphs">Potential (V)</text>
<text x="1820" y="871.8" text-anchor="middle" font-family="'Liberation Serif', 'Times New Roman', serif" font-size="33" fill="#222" stroke="#222" stroke-width="0.4" textLength="165" lengthAdjust="spacingAndGlyphs">Potential (V)</text>
<text x="604" y="1838.5" text-anchor="middle" font-family="'Liberation Serif', 'Times New Roman', serif" font-size="34" fill="#222" stroke="#222" stroke-width="0.4" textLength="177" lengthAdjust="spacingAndGlyphs">Potential (V)</text>
<text x="1854" y="1839.3" text-anchor="middle" font-family="'Liberation Serif', 'Times New Roman', serif" font-size="34" fill="#222" stroke="#222" stroke-width="0.4" textLength="349" lengthAdjust="spacingAndGlyphs">Potential (V vs Ag/AgCl)</text>
<text transform="translate(36.5,685) rotate(-90)" font-family="'Liberation Serif', 'Times New Roman', serif" font-size="37" fill="#222" stroke="#222" stroke-width="0.4" textLength="318" lengthAdjust="spacingAndGlyphs">Current Density (Ag<tspan dy="-16.7" font-size="18.5">-1</tspan><tspan dy="16.7">)</tspan></text>
<text transform="translate(1303.5,636.5) rotate(-90)" font-family="'Liberation Serif', 'Times New Roman', serif" font-size="34" fill="#222" stroke="#222" stroke-width="0.4" textLength="291" lengthAdjust="spacingAndGlyphs">Current Density (Ag<tspan dy="-15.3" font-size="17.0">-1</tspan><tspan dy="15.3">)</tspan></text>
<text transform="translate(47.5,1595) rotate(-90)" font-family="'Liberation Serif', 'Times New Roman', serif" font-size="37" fill="#222" stroke="#222" stroke-width="0.4" textLength="303" lengthAdjust="spacingAndGlyphs">Current Density (Ag<tspan dy="-16.7" font-size="18.5">-1</tspan><tspan dy="16.7">)</tspan></text>
<text transform="translate(1309,1594.5) rotate(-90)" font-family="'Liberation Serif', 'Times New Roman', serif" font-size="36" fill="#222" stroke="#222" stroke-width="0.4" textLength="302" lengthAdjust="spacingAndGlyphs">Current Density (Ag<tspan dy="-16.2" font-size="18.0">-1</tspan><tspan dy="16.2">)</tspan></text>
<text x="932" y="1138.8" font-family="'Liberation Serif', 'Times New Roman', serif" font-weight="bold" font-size="28" fill="#1a2a6a" textLength="111" lengthAdjust="spacingAndGlyphs">125 mV/s</text>
<text x="944.5" y="1458" font-family="'Liberation Serif', 'Times New Roman', serif" font-weight="bold" font-size="28" fill="#111" textLength="96" lengthAdjust="spacingAndGlyphs">10 mV/s</text>
<path d="M1013.6 1423 L1016.8 1166" stroke="#000" stroke-width="5.5"/><path d="M1008.3 1171 L1017.3 1153.5 L1026 1171 Z" fill="#000"/>
</svg></body></html>
